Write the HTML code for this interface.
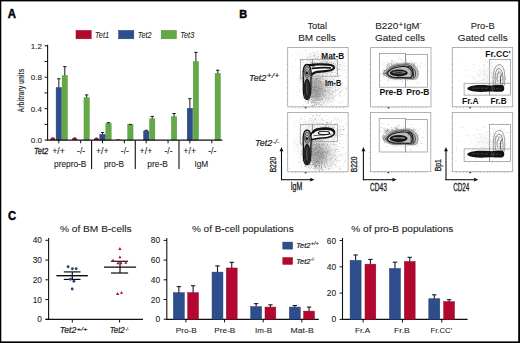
<!DOCTYPE html>
<html><head><meta charset="utf-8"><style>
html,body{margin:0;padding:0;background:#fff;}
body{width:520px;height:343px;overflow:hidden;position:relative;}
svg{position:absolute;left:0;top:0;}
text{font-family:"Liberation Sans", sans-serif;}
</style></head><body>
<svg width="520" height="343" viewBox="0 0 520 343" font-family='"Liberation Sans", sans-serif'>
<rect x="0" y="0" width="520" height="343" fill="#fff"/>
<text x="7.80" y="18.30" font-size="12" text-anchor="start" font-weight="bold" font-style="normal" fill="#000" textLength="8.2" lengthAdjust="spacingAndGlyphs" stroke="#000" stroke-width="0.45">A</text>
<rect x="76.00" y="30.40" width="15.20" height="8.40" fill="#b3072f" stroke="#8c0b26" stroke-width="0.5"/>
<text x="95.10" y="37.60" font-size="8.6" text-anchor="start" font-weight="normal" font-style="italic" fill="#222" textLength="13.9" lengthAdjust="spacingAndGlyphs" stroke="#222" stroke-width="0.08">Tet1</text>
<rect x="118.60" y="30.40" width="15.20" height="8.40" fill="#2d4d8c" stroke="#223d70" stroke-width="0.5"/>
<text x="137.70" y="37.60" font-size="8.6" text-anchor="start" font-weight="normal" font-style="italic" fill="#222" textLength="13.9" lengthAdjust="spacingAndGlyphs" stroke="#222" stroke-width="0.08">Tet2</text>
<rect x="161.20" y="30.40" width="15.20" height="8.40" fill="#65a946" stroke="#4f8e3b" stroke-width="0.5"/>
<text x="180.30" y="37.60" font-size="8.6" text-anchor="start" font-weight="normal" font-style="italic" fill="#222" textLength="13.9" lengthAdjust="spacingAndGlyphs" stroke="#222" stroke-width="0.08">Tet3</text>
<line x1="47.60" y1="44.80" x2="47.60" y2="140.60" stroke="#111" stroke-width="1.1"/>
<line x1="44.60" y1="140.10" x2="47.60" y2="140.10" stroke="#111" stroke-width="1.0"/>
<line x1="44.60" y1="124.38" x2="47.60" y2="124.38" stroke="#111" stroke-width="1.0"/>
<line x1="44.60" y1="108.66" x2="47.60" y2="108.66" stroke="#111" stroke-width="1.0"/>
<line x1="44.60" y1="92.94" x2="47.60" y2="92.94" stroke="#111" stroke-width="1.0"/>
<line x1="44.60" y1="77.22" x2="47.60" y2="77.22" stroke="#111" stroke-width="1.0"/>
<line x1="44.60" y1="61.50" x2="47.60" y2="61.50" stroke="#111" stroke-width="1.0"/>
<line x1="44.60" y1="45.78" x2="47.60" y2="45.78" stroke="#111" stroke-width="1.0"/>
<text x="42.00" y="48.68" font-size="8" text-anchor="end" font-weight="normal" font-style="normal" fill="#222" textLength="11.2" lengthAdjust="spacingAndGlyphs" stroke="#222" stroke-width="0.08">1.2</text>
<text x="42.00" y="80.12" font-size="8" text-anchor="end" font-weight="normal" font-style="normal" fill="#222" textLength="11.2" lengthAdjust="spacingAndGlyphs" stroke="#222" stroke-width="0.08">0.8</text>
<text x="42.00" y="111.56" font-size="8" text-anchor="end" font-weight="normal" font-style="normal" fill="#222" textLength="11.2" lengthAdjust="spacingAndGlyphs" stroke="#222" stroke-width="0.08">0.4</text>
<text x="42.00" y="143.00" font-size="8" text-anchor="end" font-weight="normal" font-style="normal" fill="#222" textLength="11.2" lengthAdjust="spacingAndGlyphs" stroke="#222" stroke-width="0.08">0.0</text>
<text transform="translate(24.0,90.6) rotate(-90)" font-size="8.8" font-weight="bold" text-anchor="middle" fill="#333" textLength="43.7" lengthAdjust="spacingAndGlyphs">Arbitrary units</text>
<path d="M50.10,140.10 C50.10,136.20 55.50,136.20 55.50,140.10 Z" fill="#9c0f35"/>
<rect x="56.10" y="87.44" width="5.40" height="52.66" fill="#2d4d8c" stroke="#223d70" stroke-width="0.4"/>
<line x1="58.80" y1="78.79" x2="58.80" y2="87.44" stroke="#1a1a1a" stroke-width="1.0"/>
<line x1="57.10" y1="78.79" x2="60.50" y2="78.79" stroke="#1a1a1a" stroke-width="1.0"/>
<rect x="62.10" y="75.65" width="5.40" height="64.45" fill="#65a946" stroke="#4f8e3b" stroke-width="0.4"/>
<line x1="64.80" y1="66.61" x2="64.80" y2="75.65" stroke="#1a1a1a" stroke-width="1.0"/>
<line x1="63.10" y1="66.61" x2="66.50" y2="66.61" stroke="#1a1a1a" stroke-width="1.0"/>
<path d="M71.95,140.10 C71.95,136.20 77.35,136.20 77.35,140.10 Z" fill="#9c0f35"/>
<rect x="83.95" y="97.66" width="5.40" height="42.44" fill="#65a946" stroke="#4f8e3b" stroke-width="0.4"/>
<line x1="86.65" y1="94.91" x2="86.65" y2="97.66" stroke="#1a1a1a" stroke-width="1.0"/>
<line x1="84.95" y1="94.91" x2="88.35" y2="94.91" stroke="#1a1a1a" stroke-width="1.0"/>
<path d="M93.80,140.10 C93.80,136.51 99.20,136.51 99.20,140.10 Z" fill="#9c0f35"/>
<rect x="99.80" y="134.28" width="5.40" height="5.82" fill="#2d4d8c" stroke="#223d70" stroke-width="0.4"/>
<line x1="102.50" y1="132.48" x2="102.50" y2="134.28" stroke="#1a1a1a" stroke-width="1.0"/>
<line x1="100.80" y1="132.48" x2="104.20" y2="132.48" stroke="#1a1a1a" stroke-width="1.0"/>
<rect x="105.80" y="123.44" width="5.40" height="16.66" fill="#65a946" stroke="#4f8e3b" stroke-width="0.4"/>
<line x1="108.50" y1="122.65" x2="108.50" y2="123.44" stroke="#1a1a1a" stroke-width="1.0"/>
<line x1="106.80" y1="122.65" x2="110.20" y2="122.65" stroke="#1a1a1a" stroke-width="1.0"/>
<path d="M115.65,140.10 C115.65,138.87 121.05,138.87 121.05,140.10 Z" fill="#9c0f35"/>
<rect x="127.65" y="124.77" width="5.40" height="15.33" fill="#65a946" stroke="#4f8e3b" stroke-width="0.4"/>
<line x1="130.35" y1="124.38" x2="130.35" y2="124.77" stroke="#1a1a1a" stroke-width="1.0"/>
<line x1="128.65" y1="124.38" x2="132.05" y2="124.38" stroke="#1a1a1a" stroke-width="1.0"/>
<rect x="143.50" y="131.06" width="5.40" height="9.04" fill="#2d4d8c" stroke="#223d70" stroke-width="0.4"/>
<line x1="146.20" y1="130.28" x2="146.20" y2="131.06" stroke="#1a1a1a" stroke-width="1.0"/>
<line x1="144.50" y1="130.28" x2="147.90" y2="130.28" stroke="#1a1a1a" stroke-width="1.0"/>
<rect x="149.50" y="118.88" width="5.40" height="21.22" fill="#65a946" stroke="#4f8e3b" stroke-width="0.4"/>
<line x1="152.20" y1="116.36" x2="152.20" y2="118.88" stroke="#1a1a1a" stroke-width="1.0"/>
<line x1="150.50" y1="116.36" x2="153.90" y2="116.36" stroke="#1a1a1a" stroke-width="1.0"/>
<rect x="171.35" y="116.76" width="5.40" height="23.34" fill="#65a946" stroke="#4f8e3b" stroke-width="0.4"/>
<line x1="174.05" y1="113.53" x2="174.05" y2="116.76" stroke="#1a1a1a" stroke-width="1.0"/>
<line x1="172.35" y1="113.53" x2="175.75" y2="113.53" stroke="#1a1a1a" stroke-width="1.0"/>
<rect x="187.20" y="108.27" width="5.40" height="31.83" fill="#2d4d8c" stroke="#223d70" stroke-width="0.4"/>
<line x1="189.90" y1="98.68" x2="189.90" y2="108.27" stroke="#1a1a1a" stroke-width="1.0"/>
<line x1="188.20" y1="98.68" x2="191.60" y2="98.68" stroke="#1a1a1a" stroke-width="1.0"/>
<rect x="193.20" y="61.50" width="5.40" height="78.60" fill="#65a946" stroke="#4f8e3b" stroke-width="0.4"/>
<line x1="195.90" y1="52.38" x2="195.90" y2="61.50" stroke="#1a1a1a" stroke-width="1.0"/>
<line x1="194.20" y1="52.38" x2="197.60" y2="52.38" stroke="#1a1a1a" stroke-width="1.0"/>
<rect x="215.05" y="73.45" width="5.40" height="66.65" fill="#65a946" stroke="#4f8e3b" stroke-width="0.4"/>
<line x1="217.75" y1="70.22" x2="217.75" y2="73.45" stroke="#1a1a1a" stroke-width="1.0"/>
<line x1="216.05" y1="70.22" x2="219.45" y2="70.22" stroke="#1a1a1a" stroke-width="1.0"/>
<line x1="47.10" y1="140.20" x2="222.30" y2="140.20" stroke="#111" stroke-width="1.2"/>
<line x1="58.80" y1="140.20" x2="58.80" y2="143.30" stroke="#111" stroke-width="1.0"/>
<line x1="80.65" y1="140.20" x2="80.65" y2="143.30" stroke="#111" stroke-width="1.0"/>
<line x1="102.50" y1="140.20" x2="102.50" y2="143.30" stroke="#111" stroke-width="1.0"/>
<line x1="124.35" y1="140.20" x2="124.35" y2="143.30" stroke="#111" stroke-width="1.0"/>
<line x1="146.20" y1="140.20" x2="146.20" y2="143.30" stroke="#111" stroke-width="1.0"/>
<line x1="168.05" y1="140.20" x2="168.05" y2="143.30" stroke="#111" stroke-width="1.0"/>
<line x1="189.90" y1="140.20" x2="189.90" y2="143.30" stroke="#111" stroke-width="1.0"/>
<line x1="211.75" y1="140.20" x2="211.75" y2="143.30" stroke="#111" stroke-width="1.0"/>
<line x1="91.58" y1="140.20" x2="91.58" y2="168.90" stroke="#111" stroke-width="1.1"/>
<line x1="135.28" y1="140.20" x2="135.28" y2="168.90" stroke="#111" stroke-width="1.1"/>
<line x1="178.98" y1="140.20" x2="178.98" y2="168.90" stroke="#111" stroke-width="1.1"/>
<text x="34.00" y="153.50" font-size="8.4" text-anchor="start" font-weight="normal" font-style="italic" fill="#1a1a1a" textLength="14.2" lengthAdjust="spacingAndGlyphs" stroke="#1a1a1a" stroke-width="0.3">Tet2</text>
<text x="58.60" y="153.60" font-size="9" text-anchor="middle" font-weight="normal" font-style="normal" fill="#1a1a1a" textLength="12.8" lengthAdjust="spacingAndGlyphs" stroke="#1a1a1a" stroke-width="0.08">+/+</text>
<text x="81.15" y="153.60" font-size="9" text-anchor="middle" font-weight="normal" font-style="normal" fill="#1a1a1a" textLength="8.1" lengthAdjust="spacingAndGlyphs" stroke="#1a1a1a" stroke-width="0.08">-/-</text>
<text x="102.30" y="153.60" font-size="9" text-anchor="middle" font-weight="normal" font-style="normal" fill="#1a1a1a" textLength="12.8" lengthAdjust="spacingAndGlyphs" stroke="#1a1a1a" stroke-width="0.08">+/+</text>
<text x="124.85" y="153.60" font-size="9" text-anchor="middle" font-weight="normal" font-style="normal" fill="#1a1a1a" textLength="8.1" lengthAdjust="spacingAndGlyphs" stroke="#1a1a1a" stroke-width="0.08">-/-</text>
<text x="146.00" y="153.60" font-size="9" text-anchor="middle" font-weight="normal" font-style="normal" fill="#1a1a1a" textLength="12.8" lengthAdjust="spacingAndGlyphs" stroke="#1a1a1a" stroke-width="0.08">+/+</text>
<text x="168.55" y="153.60" font-size="9" text-anchor="middle" font-weight="normal" font-style="normal" fill="#1a1a1a" textLength="8.1" lengthAdjust="spacingAndGlyphs" stroke="#1a1a1a" stroke-width="0.08">-/-</text>
<text x="189.70" y="153.60" font-size="9" text-anchor="middle" font-weight="normal" font-style="normal" fill="#1a1a1a" textLength="12.8" lengthAdjust="spacingAndGlyphs" stroke="#1a1a1a" stroke-width="0.08">+/+</text>
<text x="212.25" y="153.60" font-size="9" text-anchor="middle" font-weight="normal" font-style="normal" fill="#1a1a1a" textLength="8.1" lengthAdjust="spacingAndGlyphs" stroke="#1a1a1a" stroke-width="0.08">-/-</text>
<text x="70.22" y="167.00" font-size="8.4" text-anchor="middle" font-weight="normal" font-style="normal" fill="#222" textLength="32.3" lengthAdjust="spacingAndGlyphs" stroke="#222" stroke-width="0.08">prepro-B</text>
<text x="113.93" y="167.00" font-size="8.4" text-anchor="middle" font-weight="normal" font-style="normal" fill="#222" textLength="20.0" lengthAdjust="spacingAndGlyphs" stroke="#222" stroke-width="0.08">pro-B</text>
<text x="157.62" y="167.00" font-size="8.4" text-anchor="middle" font-weight="normal" font-style="normal" fill="#222" textLength="20.5" lengthAdjust="spacingAndGlyphs" stroke="#222" stroke-width="0.08">pre-B</text>
<text x="201.33" y="167.00" font-size="8.4" text-anchor="middle" font-weight="normal" font-style="normal" fill="#222" textLength="13.9" lengthAdjust="spacingAndGlyphs" stroke="#222" stroke-width="0.08">IgM</text>
<text x="7.90" y="219.80" font-size="12" text-anchor="start" font-weight="bold" font-style="normal" fill="#000" textLength="8.1" lengthAdjust="spacingAndGlyphs" stroke="#000" stroke-width="0.45">C</text>
<line x1="48.60" y1="238.00" x2="48.60" y2="319.80" stroke="#111" stroke-width="1.1"/>
<line x1="45.40" y1="240.30" x2="48.60" y2="240.30" stroke="#111" stroke-width="1.0"/>
<text x="42.00" y="243.30" font-size="8.4" text-anchor="end" font-weight="normal" font-style="normal" fill="#222" stroke="#222" stroke-width="0.08">40</text>
<line x1="45.40" y1="260.05" x2="48.60" y2="260.05" stroke="#111" stroke-width="1.0"/>
<text x="42.00" y="263.05" font-size="8.4" text-anchor="end" font-weight="normal" font-style="normal" fill="#222" stroke="#222" stroke-width="0.08">30</text>
<line x1="45.40" y1="279.80" x2="48.60" y2="279.80" stroke="#111" stroke-width="1.0"/>
<text x="42.00" y="282.80" font-size="8.4" text-anchor="end" font-weight="normal" font-style="normal" fill="#222" stroke="#222" stroke-width="0.08">20</text>
<line x1="45.40" y1="299.55" x2="48.60" y2="299.55" stroke="#111" stroke-width="1.0"/>
<text x="42.00" y="302.55" font-size="8.4" text-anchor="end" font-weight="normal" font-style="normal" fill="#222" stroke="#222" stroke-width="0.08">10</text>
<line x1="45.40" y1="319.30" x2="48.60" y2="319.30" stroke="#111" stroke-width="1.0"/>
<text x="42.00" y="322.30" font-size="8.4" text-anchor="end" font-weight="normal" font-style="normal" fill="#222" stroke="#222" stroke-width="0.08">0</text>
<line x1="45.60" y1="319.40" x2="143.00" y2="319.40" stroke="#111" stroke-width="1.2"/>
<line x1="72.30" y1="319.40" x2="72.30" y2="322.60" stroke="#111" stroke-width="1.0"/>
<line x1="119.60" y1="319.40" x2="119.60" y2="322.60" stroke="#111" stroke-width="1.0"/>
<text x="95.80" y="231.80" font-size="9.2" text-anchor="middle" font-weight="normal" font-style="normal" fill="#222" textLength="71.7" lengthAdjust="spacingAndGlyphs" stroke="#222" stroke-width="0.08">% of BM B-cells</text>
<text x="59.80" y="333.40" font-size="8.7" font-style="italic" fill="#1a1a1a" stroke="#1a1a1a" stroke-width="0.22" textLength="16.4" lengthAdjust="spacingAndGlyphs">Tet2</text>
<text x="76.50" y="330.80" font-size="5.8" font-style="italic" fill="#1a1a1a" stroke="#1a1a1a" stroke-width="0.15" textLength="11.0" lengthAdjust="spacingAndGlyphs">+/+</text>
<text x="109.70" y="333.40" font-size="8.7" font-style="italic" fill="#1a1a1a" stroke="#1a1a1a" stroke-width="0.22" textLength="15.0" lengthAdjust="spacingAndGlyphs">Tet2</text>
<text x="125.00" y="330.60" font-size="5.8" font-style="italic" fill="#1a1a1a" stroke="#1a1a1a" stroke-width="0.15" textLength="4.0" lengthAdjust="spacingAndGlyphs">-/-</text>
<line x1="56.40" y1="275.70" x2="87.90" y2="275.70" stroke="#0a0a0a" stroke-width="1.4"/>
<line x1="63.80" y1="271.90" x2="80.50" y2="271.90" stroke="#111" stroke-width="1.2"/>
<line x1="63.80" y1="279.40" x2="80.50" y2="279.40" stroke="#0a0a0a" stroke-width="1.2"/>
<line x1="72.30" y1="271.90" x2="72.30" y2="279.40" stroke="#111" stroke-width="1.2"/>
<circle cx="68.1" cy="266.7" r="1.45" fill="#2a4680"/>
<circle cx="72.4" cy="268.8" r="1.45" fill="#2a4680"/>
<circle cx="76.2" cy="268.8" r="1.45" fill="#2a4680"/>
<circle cx="70.4" cy="279.3" r="1.45" fill="#2a4680"/>
<circle cx="73.9" cy="281.2" r="1.45" fill="#2a4680"/>
<circle cx="72.2" cy="289.0" r="1.45" fill="#2a4680"/>
<line x1="104.00" y1="267.10" x2="136.10" y2="267.10" stroke="#0a0a0a" stroke-width="1.4"/>
<line x1="111.00" y1="261.30" x2="128.10" y2="261.30" stroke="#111" stroke-width="1.2"/>
<line x1="111.00" y1="273.00" x2="128.10" y2="273.00" stroke="#0a0a0a" stroke-width="1.2"/>
<line x1="120.00" y1="261.30" x2="120.00" y2="273.00" stroke="#111" stroke-width="1.2"/>
<path d="M118.30,249.90 L119.90,247.10 L121.50,249.90 Z" fill="#a0163d"/>
<path d="M118.30,258.30 L119.90,255.50 L121.50,258.30 Z" fill="#a0163d"/>
<path d="M111.50,261.60 L113.10,258.80 L114.70,261.60 Z" fill="#a0163d"/>
<path d="M116.30,264.20 L117.90,261.40 L119.50,264.20 Z" fill="#a0163d"/>
<path d="M119.40,264.20 L121.00,261.40 L122.60,264.20 Z" fill="#a0163d"/>
<path d="M124.20,263.80 L125.80,261.00 L127.40,263.80 Z" fill="#a0163d"/>
<path d="M116.00,294.90 L117.60,292.10 L119.20,294.90 Z" fill="#a0163d"/>
<path d="M119.90,293.80 L121.50,291.00 L123.10,293.80 Z" fill="#a0163d"/>
<line x1="166.80" y1="238.00" x2="166.80" y2="319.70" stroke="#111" stroke-width="1.1"/>
<line x1="163.60" y1="240.40" x2="166.80" y2="240.40" stroke="#111" stroke-width="1.0"/>
<text x="160.20" y="243.40" font-size="8.4" text-anchor="end" font-weight="normal" font-style="normal" fill="#222" stroke="#222" stroke-width="0.08">80</text>
<line x1="163.60" y1="260.10" x2="166.80" y2="260.10" stroke="#111" stroke-width="1.0"/>
<text x="160.20" y="263.10" font-size="8.4" text-anchor="end" font-weight="normal" font-style="normal" fill="#222" stroke="#222" stroke-width="0.08">60</text>
<line x1="163.60" y1="279.80" x2="166.80" y2="279.80" stroke="#111" stroke-width="1.0"/>
<text x="160.20" y="282.80" font-size="8.4" text-anchor="end" font-weight="normal" font-style="normal" fill="#222" stroke="#222" stroke-width="0.08">40</text>
<line x1="163.60" y1="299.50" x2="166.80" y2="299.50" stroke="#111" stroke-width="1.0"/>
<text x="160.20" y="302.50" font-size="8.4" text-anchor="end" font-weight="normal" font-style="normal" fill="#222" stroke="#222" stroke-width="0.08">20</text>
<line x1="163.60" y1="319.20" x2="166.80" y2="319.20" stroke="#111" stroke-width="1.0"/>
<text x="160.20" y="322.20" font-size="8.4" text-anchor="end" font-weight="normal" font-style="normal" fill="#222" stroke="#222" stroke-width="0.08">0</text>
<line x1="166.30" y1="319.30" x2="318.80" y2="319.30" stroke="#111" stroke-width="1.2"/>
<rect x="173.40" y="292.70" width="10.90" height="26.50" fill="#2d4d8c" stroke="#223d70" stroke-width="0.5"/>
<line x1="178.85" y1="286.60" x2="178.85" y2="292.70" stroke="#1a1a1a" stroke-width="1.1"/>
<line x1="176.65" y1="286.60" x2="181.05" y2="286.60" stroke="#1a1a1a" stroke-width="1.1"/>
<rect x="187.70" y="292.70" width="10.80" height="26.50" fill="#b3072f" stroke="#8c0b26" stroke-width="0.5"/>
<line x1="193.10" y1="285.71" x2="193.10" y2="292.70" stroke="#1a1a1a" stroke-width="1.1"/>
<line x1="190.90" y1="285.71" x2="195.30" y2="285.71" stroke="#1a1a1a" stroke-width="1.1"/>
<rect x="212.05" y="272.12" width="10.90" height="47.08" fill="#2d4d8c" stroke="#223d70" stroke-width="0.5"/>
<line x1="217.50" y1="265.91" x2="217.50" y2="272.12" stroke="#1a1a1a" stroke-width="1.1"/>
<line x1="215.30" y1="265.91" x2="219.70" y2="265.91" stroke="#1a1a1a" stroke-width="1.1"/>
<rect x="226.35" y="267.98" width="10.80" height="51.22" fill="#b3072f" stroke="#8c0b26" stroke-width="0.5"/>
<line x1="231.75" y1="262.37" x2="231.75" y2="267.98" stroke="#1a1a1a" stroke-width="1.1"/>
<line x1="229.55" y1="262.37" x2="233.95" y2="262.37" stroke="#1a1a1a" stroke-width="1.1"/>
<rect x="250.70" y="306.59" width="10.90" height="12.61" fill="#2d4d8c" stroke="#223d70" stroke-width="0.5"/>
<line x1="256.15" y1="303.64" x2="256.15" y2="306.59" stroke="#1a1a1a" stroke-width="1.1"/>
<line x1="253.95" y1="303.64" x2="258.35" y2="303.64" stroke="#1a1a1a" stroke-width="1.1"/>
<rect x="265.00" y="307.08" width="10.80" height="12.12" fill="#b3072f" stroke="#8c0b26" stroke-width="0.5"/>
<line x1="270.40" y1="304.82" x2="270.40" y2="307.08" stroke="#1a1a1a" stroke-width="1.1"/>
<line x1="268.20" y1="304.82" x2="272.60" y2="304.82" stroke="#1a1a1a" stroke-width="1.1"/>
<rect x="289.35" y="307.08" width="10.90" height="12.12" fill="#2d4d8c" stroke="#223d70" stroke-width="0.5"/>
<line x1="294.80" y1="305.51" x2="294.80" y2="307.08" stroke="#1a1a1a" stroke-width="1.1"/>
<line x1="292.60" y1="305.51" x2="297.00" y2="305.51" stroke="#1a1a1a" stroke-width="1.1"/>
<rect x="303.65" y="311.12" width="10.80" height="8.08" fill="#b3072f" stroke="#8c0b26" stroke-width="0.5"/>
<line x1="309.05" y1="307.08" x2="309.05" y2="311.12" stroke="#1a1a1a" stroke-width="1.1"/>
<line x1="306.85" y1="307.08" x2="311.25" y2="307.08" stroke="#1a1a1a" stroke-width="1.1"/>
<line x1="185.90" y1="319.30" x2="185.90" y2="322.40" stroke="#111" stroke-width="1.0"/>
<line x1="224.55" y1="319.30" x2="224.55" y2="322.40" stroke="#111" stroke-width="1.0"/>
<line x1="263.20" y1="319.30" x2="263.20" y2="322.40" stroke="#111" stroke-width="1.0"/>
<line x1="301.85" y1="319.30" x2="301.85" y2="322.40" stroke="#111" stroke-width="1.0"/>
<text x="186.20" y="333.40" font-size="8" text-anchor="middle" font-weight="normal" font-style="normal" fill="#222" textLength="20.9" lengthAdjust="spacingAndGlyphs" stroke="#222" stroke-width="0.08">Pro-B</text>
<text x="224.85" y="333.40" font-size="8" text-anchor="middle" font-weight="normal" font-style="normal" fill="#222" textLength="21.0" lengthAdjust="spacingAndGlyphs" stroke="#222" stroke-width="0.08">Pre-B</text>
<text x="263.50" y="333.40" font-size="8" text-anchor="middle" font-weight="normal" font-style="normal" fill="#222" textLength="17.0" lengthAdjust="spacingAndGlyphs" stroke="#222" stroke-width="0.08">Im-B</text>
<text x="302.15" y="333.40" font-size="8" text-anchor="middle" font-weight="normal" font-style="normal" fill="#222" textLength="23.1" lengthAdjust="spacingAndGlyphs" stroke="#222" stroke-width="0.08">Mat-B</text>
<text x="242.80" y="231.60" font-size="9.2" text-anchor="middle" font-weight="normal" font-style="normal" fill="#222" textLength="101.8" lengthAdjust="spacingAndGlyphs" stroke="#222" stroke-width="0.08">% of B-cell populations</text>
<rect x="282.80" y="242.10" width="9.80" height="7.00" fill="#2d4d8c" stroke="#223d70" stroke-width="0.5"/>
<rect x="282.80" y="257.60" width="9.80" height="6.80" fill="#b3072f" stroke="#8c0b26" stroke-width="0.5"/>
<text x="296.20" y="248.30" font-size="8" font-style="italic" fill="#1a1a1a" stroke="#1a1a1a" stroke-width="0.22" textLength="14.2" lengthAdjust="spacingAndGlyphs">Tet2</text>
<text x="310.70" y="244.90" font-size="5.0" font-style="italic" fill="#1a1a1a" stroke="#1a1a1a" stroke-width="0.15" textLength="8.0" lengthAdjust="spacingAndGlyphs">+/+</text>
<text x="296.20" y="263.90" font-size="8" font-style="italic" fill="#1a1a1a" stroke="#1a1a1a" stroke-width="0.22" textLength="14.2" lengthAdjust="spacingAndGlyphs">Tet2</text>
<text x="310.70" y="260.50" font-size="5.0" font-style="italic" fill="#1a1a1a" stroke="#1a1a1a" stroke-width="0.15" textLength="4.0" lengthAdjust="spacingAndGlyphs">-/-</text>
<line x1="342.50" y1="238.00" x2="342.50" y2="319.90" stroke="#111" stroke-width="1.1"/>
<line x1="339.60" y1="240.50" x2="342.50" y2="240.50" stroke="#111" stroke-width="1.0"/>
<text x="336.20" y="243.50" font-size="8.4" text-anchor="end" font-weight="normal" font-style="normal" fill="#222" stroke="#222" stroke-width="0.08">60</text>
<line x1="339.60" y1="266.80" x2="342.50" y2="266.80" stroke="#111" stroke-width="1.0"/>
<text x="336.20" y="269.80" font-size="8.4" text-anchor="end" font-weight="normal" font-style="normal" fill="#222" stroke="#222" stroke-width="0.08">40</text>
<line x1="339.60" y1="293.10" x2="342.50" y2="293.10" stroke="#111" stroke-width="1.0"/>
<text x="336.20" y="296.10" font-size="8.4" text-anchor="end" font-weight="normal" font-style="normal" fill="#222" stroke="#222" stroke-width="0.08">20</text>
<line x1="339.60" y1="319.40" x2="342.50" y2="319.40" stroke="#111" stroke-width="1.0"/>
<text x="336.20" y="322.40" font-size="8.4" text-anchor="end" font-weight="normal" font-style="normal" fill="#222" stroke="#222" stroke-width="0.08">0</text>
<line x1="342.00" y1="319.40" x2="467.60" y2="319.40" stroke="#111" stroke-width="1.2"/>
<rect x="350.10" y="260.36" width="11.00" height="59.04" fill="#2d4d8c" stroke="#223d70" stroke-width="0.5"/>
<line x1="355.60" y1="254.96" x2="355.60" y2="260.36" stroke="#1a1a1a" stroke-width="1.1"/>
<line x1="353.40" y1="254.96" x2="357.80" y2="254.96" stroke="#1a1a1a" stroke-width="1.1"/>
<rect x="365.00" y="264.17" width="10.80" height="55.23" fill="#b3072f" stroke="#8c0b26" stroke-width="0.5"/>
<line x1="370.40" y1="259.44" x2="370.40" y2="264.17" stroke="#1a1a1a" stroke-width="1.1"/>
<line x1="368.20" y1="259.44" x2="372.60" y2="259.44" stroke="#1a1a1a" stroke-width="1.1"/>
<rect x="389.45" y="268.51" width="11.00" height="50.89" fill="#2d4d8c" stroke="#223d70" stroke-width="0.5"/>
<line x1="394.95" y1="262.20" x2="394.95" y2="268.51" stroke="#1a1a1a" stroke-width="1.1"/>
<line x1="392.75" y1="262.20" x2="397.15" y2="262.20" stroke="#1a1a1a" stroke-width="1.1"/>
<rect x="404.35" y="261.54" width="10.80" height="57.86" fill="#b3072f" stroke="#8c0b26" stroke-width="0.5"/>
<line x1="409.75" y1="257.33" x2="409.75" y2="261.54" stroke="#1a1a1a" stroke-width="1.1"/>
<line x1="407.55" y1="257.33" x2="411.95" y2="257.33" stroke="#1a1a1a" stroke-width="1.1"/>
<rect x="428.80" y="298.75" width="11.00" height="20.65" fill="#2d4d8c" stroke="#223d70" stroke-width="0.5"/>
<line x1="434.30" y1="294.81" x2="434.30" y2="298.75" stroke="#1a1a1a" stroke-width="1.1"/>
<line x1="432.10" y1="294.81" x2="436.50" y2="294.81" stroke="#1a1a1a" stroke-width="1.1"/>
<rect x="443.70" y="301.65" width="10.80" height="17.75" fill="#b3072f" stroke="#8c0b26" stroke-width="0.5"/>
<line x1="449.10" y1="299.67" x2="449.10" y2="301.65" stroke="#1a1a1a" stroke-width="1.1"/>
<line x1="446.90" y1="299.67" x2="451.30" y2="299.67" stroke="#1a1a1a" stroke-width="1.1"/>
<line x1="363.10" y1="319.40" x2="363.10" y2="322.50" stroke="#111" stroke-width="1.0"/>
<line x1="402.45" y1="319.40" x2="402.45" y2="322.50" stroke="#111" stroke-width="1.0"/>
<line x1="441.80" y1="319.40" x2="441.80" y2="322.50" stroke="#111" stroke-width="1.0"/>
<text x="362.60" y="333.40" font-size="8" text-anchor="middle" font-weight="normal" font-style="normal" fill="#222" textLength="15.0" lengthAdjust="spacingAndGlyphs" stroke="#222" stroke-width="0.08">Fr.A</text>
<text x="401.95" y="333.40" font-size="8" text-anchor="middle" font-weight="normal" font-style="normal" fill="#222" textLength="15.7" lengthAdjust="spacingAndGlyphs" stroke="#222" stroke-width="0.08">Fr.B</text>
<text x="441.30" y="333.40" font-size="8" text-anchor="middle" font-weight="normal" font-style="normal" fill="#222" textLength="21.7" lengthAdjust="spacingAndGlyphs" stroke="#222" stroke-width="0.08">Fr.CC'</text>
<text x="402.30" y="231.80" font-size="9.2" text-anchor="middle" font-weight="normal" font-style="normal" fill="#222" textLength="102.0" lengthAdjust="spacingAndGlyphs" stroke="#222" stroke-width="0.08">% of pro-B populations</text>
<text x="239.30" y="18.40" font-size="11.4" text-anchor="start" font-weight="bold" font-style="normal" fill="#000" textLength="7.9" lengthAdjust="spacingAndGlyphs" stroke="#000" stroke-width="0.45">B</text>
<text x="317.20" y="29.10" font-size="9.5" text-anchor="middle" font-weight="normal" font-style="normal" fill="#1a1a1a" textLength="19.6" lengthAdjust="spacingAndGlyphs" stroke="#1a1a1a" stroke-width="0.08">Total</text>
<text x="317.00" y="41.30" font-size="9.5" text-anchor="middle" font-weight="normal" font-style="normal" fill="#1a1a1a" textLength="37.7" lengthAdjust="spacingAndGlyphs" stroke="#1a1a1a" stroke-width="0.08">BM cells</text>
<text x="375.20" y="29.00" font-size="9.5" text-anchor="start" font-weight="normal" font-style="normal" fill="#1a1a1a" textLength="23.2" lengthAdjust="spacingAndGlyphs" stroke="#1a1a1a" stroke-width="0.08">B220</text>
<text x="398.40" y="26.60" font-size="8" text-anchor="start" font-weight="normal" font-style="normal" fill="#1a1a1a" textLength="4.8" lengthAdjust="spacingAndGlyphs" stroke="#1a1a1a" stroke-width="0.08">+</text>
<text x="403.60" y="29.00" font-size="9.5" text-anchor="start" font-weight="normal" font-style="normal" fill="#1a1a1a" textLength="15.8" lengthAdjust="spacingAndGlyphs" stroke="#1a1a1a" stroke-width="0.08">IgM</text>
<text x="419.60" y="25.00" font-size="7" text-anchor="start" font-weight="normal" font-style="normal" fill="#1a1a1a" textLength="2.2" lengthAdjust="spacingAndGlyphs" stroke="#1a1a1a" stroke-width="0.08">-</text>
<text x="400.00" y="41.30" font-size="9.5" text-anchor="middle" font-weight="normal" font-style="normal" fill="#1a1a1a" textLength="49.9" lengthAdjust="spacingAndGlyphs" stroke="#1a1a1a" stroke-width="0.08">Gated cells</text>
<text x="482.70" y="29.10" font-size="9.5" text-anchor="middle" font-weight="normal" font-style="normal" fill="#1a1a1a" textLength="23.8" lengthAdjust="spacingAndGlyphs" stroke="#1a1a1a" stroke-width="0.08">Pro-B</text>
<text x="482.70" y="41.30" font-size="9.5" text-anchor="middle" font-weight="normal" font-style="normal" fill="#1a1a1a" textLength="50.0" lengthAdjust="spacingAndGlyphs" stroke="#1a1a1a" stroke-width="0.08">Gated cells</text>
<text x="249.00" y="80.70" font-size="9.8" font-style="italic" fill="#1a1a1a" stroke="#1a1a1a" stroke-width="0.2" textLength="17.2" lengthAdjust="spacingAndGlyphs">Tet2</text>
<text x="266.50" y="78.20" font-size="7.6" font-style="italic" fill="#1a1a1a" stroke="#1a1a1a" stroke-width="0.14" textLength="12.8" lengthAdjust="spacingAndGlyphs">+/+</text>
<text x="255.00" y="146.30" font-size="9.8" font-style="italic" fill="#1a1a1a" stroke="#1a1a1a" stroke-width="0.2" textLength="17.2" lengthAdjust="spacingAndGlyphs">Tet2</text>
<text x="272.50" y="143.50" font-size="7.6" font-style="italic" fill="#1a1a1a" stroke="#1a1a1a" stroke-width="0.14" textLength="6.8" lengthAdjust="spacingAndGlyphs">-/-</text>
<defs><radialGradient id="hz1"><stop offset="0" stop-color="#666" stop-opacity="0.55"/><stop offset="0.55" stop-color="#666" stop-opacity="0.303"/><stop offset="1" stop-color="#666" stop-opacity="0"/></radialGradient><radialGradient id="hz2"><stop offset="0" stop-color="#999" stop-opacity="0.35"/><stop offset="0.55" stop-color="#999" stop-opacity="0.193"/><stop offset="1" stop-color="#999" stop-opacity="0"/></radialGradient><radialGradient id="hz3"><stop offset="0" stop-color="#888" stop-opacity="0.4"/><stop offset="0.55" stop-color="#888" stop-opacity="0.220"/><stop offset="1" stop-color="#888" stop-opacity="0"/></radialGradient><radialGradient id="hz4"><stop offset="0" stop-color="#aaa" stop-opacity="0.18"/><stop offset="0.55" stop-color="#aaa" stop-opacity="0.099"/><stop offset="1" stop-color="#aaa" stop-opacity="0"/></radialGradient><radialGradient id="hz5"><stop offset="0" stop-color="#666" stop-opacity="0.55"/><stop offset="0.55" stop-color="#666" stop-opacity="0.303"/><stop offset="1" stop-color="#666" stop-opacity="0"/></radialGradient><radialGradient id="hz6"><stop offset="0" stop-color="#999" stop-opacity="0.4"/><stop offset="0.55" stop-color="#999" stop-opacity="0.220"/><stop offset="1" stop-color="#999" stop-opacity="0"/></radialGradient><radialGradient id="hz7"><stop offset="0" stop-color="#888" stop-opacity="0.4"/><stop offset="0.55" stop-color="#888" stop-opacity="0.220"/><stop offset="1" stop-color="#888" stop-opacity="0"/></radialGradient><radialGradient id="hz8"><stop offset="0" stop-color="#aaa" stop-opacity="0.22"/><stop offset="0.55" stop-color="#aaa" stop-opacity="0.121"/><stop offset="1" stop-color="#aaa" stop-opacity="0"/></radialGradient><radialGradient id="hz9"><stop offset="0" stop-color="#999" stop-opacity="0.35"/><stop offset="0.55" stop-color="#999" stop-opacity="0.193"/><stop offset="1" stop-color="#999" stop-opacity="0"/></radialGradient><radialGradient id="hz10"><stop offset="0" stop-color="#999" stop-opacity="0.35"/><stop offset="0.55" stop-color="#999" stop-opacity="0.193"/><stop offset="1" stop-color="#999" stop-opacity="0"/></radialGradient><radialGradient id="hz11"><stop offset="0" stop-color="#bbb" stop-opacity="0.14"/><stop offset="0.55" stop-color="#bbb" stop-opacity="0.077"/><stop offset="1" stop-color="#bbb" stop-opacity="0"/></radialGradient><radialGradient id="hz12"><stop offset="0" stop-color="#bbb" stop-opacity="0.14"/><stop offset="0.55" stop-color="#bbb" stop-opacity="0.077"/><stop offset="1" stop-color="#bbb" stop-opacity="0"/></radialGradient></defs>
<clipPath id="c28747"><rect x="288.20" y="48.00" width="59.4" height="58.3"/></clipPath>
<clipPath id="c37047"><rect x="371.10" y="48.10" width="59.4" height="58.3"/></clipPath>
<clipPath id="c45247"><rect x="452.80" y="48.00" width="59.4" height="58.3"/></clipPath>
<clipPath id="c287112"><rect x="288.20" y="113.00" width="59.4" height="58.3"/></clipPath>
<clipPath id="c370112"><rect x="370.90" y="112.90" width="59.4" height="58.3"/></clipPath>
<clipPath id="c452112"><rect x="452.80" y="112.90" width="59.4" height="58.3"/></clipPath>
<g clip-path="url(#c28747)">
<rect x="300.30" y="59.30" width="12.00" height="19.50" fill="none" stroke="#8c8c8c" stroke-width="0.7"/>
<rect x="312.30" y="59.30" width="25.30" height="16.90" fill="none" stroke="#8c8c8c" stroke-width="0.7"/>
<ellipse cx="316.70" cy="89.50" rx="9.00" ry="14.00" fill="url(#hz1)"/>
<ellipse cx="321.70" cy="91.50" rx="16.00" ry="16.00" fill="url(#hz2)"/>
<ellipse cx="323.70" cy="67.50" rx="14.00" ry="7.00" fill="url(#hz3)"/>
<ellipse cx="319.70" cy="77.50" rx="24.00" ry="26.00" fill="url(#hz4)"/>
<path fill="rgb(84,84,84)" d="M317.7 75.6h0.6v0.6h-0.6zM315.6 96.0h0.6v0.6h-0.6zM302.0 71.1h0.6v0.6h-0.6zM311.7 66.5h0.6v0.6h-0.6zM320.4 90.5h0.6v0.6h-0.6zM318.2 85.2h0.6v0.6h-0.6zM313.5 89.5h0.6v0.6h-0.6zM318.5 96.0h0.6v0.6h-0.6zM312.4 90.3h0.6v0.6h-0.6zM315.8 78.2h0.6v0.6h-0.6zM309.1 88.3h0.6v0.6h-0.6zM309.6 96.3h0.6v0.6h-0.6zM316.9 78.7h0.6v0.6h-0.6zM309.7 93.7h0.6v0.6h-0.6zM317.9 97.8h0.6v0.6h-0.6zM309.0 79.8h0.6v0.6h-0.6zM318.7 88.9h0.6v0.6h-0.6zM309.6 85.3h0.6v0.6h-0.6zM318.3 93.3h0.6v0.6h-0.6zM319.4 87.8h0.6v0.6h-0.6zM310.6 84.6h0.6v0.6h-0.6zM316.5 93.8h0.6v0.6h-0.6zM310.5 87.0h0.6v0.6h-0.6zM314.0 87.1h0.6v0.6h-0.6zM320.4 82.5h0.6v0.6h-0.6zM313.0 97.8h0.6v0.6h-0.6zM315.5 91.0h0.6v0.6h-0.6zM315.1 78.2h0.6v0.6h-0.6zM307.9 101.8h0.6v0.6h-0.6zM313.7 96.4h0.6v0.6h-0.6zM313.1 95.7h0.6v0.6h-0.6zM318.1 94.0h0.6v0.6h-0.6zM312.8 90.6h0.6v0.6h-0.6zM320.3 81.0h0.6v0.6h-0.6zM310.3 83.7h0.6v0.6h-0.6zM312.4 83.1h0.6v0.6h-0.6zM321.4 89.5h0.6v0.6h-0.6zM324.2 82.0h0.6v0.6h-0.6zM319.7 86.4h0.6v0.6h-0.6zM309.8 74.8h0.6v0.6h-0.6zM305.4 101.5h0.6v0.6h-0.6zM321.0 82.8h0.6v0.6h-0.6zM315.8 80.6h0.6v0.6h-0.6zM312.5 96.0h0.6v0.6h-0.6zM312.2 104.9h0.6v0.6h-0.6z"/>
<path fill="rgb(96,96,96)" d="M309.7 76.9h0.6v0.6h-0.6zM309.1 76.6h0.6v0.6h-0.6zM310.5 94.8h0.6v0.6h-0.6zM318.3 88.5h0.6v0.6h-0.6zM315.8 81.5h0.6v0.6h-0.6zM314.1 99.4h0.6v0.6h-0.6zM313.8 86.4h0.6v0.6h-0.6zM314.7 80.7h0.6v0.6h-0.6zM311.1 99.5h0.6v0.6h-0.6zM316.9 88.8h0.6v0.6h-0.6zM311.3 87.8h0.6v0.6h-0.6zM310.6 75.0h0.6v0.6h-0.6zM321.8 82.6h0.6v0.6h-0.6zM315.4 97.4h0.6v0.6h-0.6zM317.8 81.9h0.6v0.6h-0.6zM311.2 102.1h0.6v0.6h-0.6zM310.6 88.6h0.6v0.6h-0.6zM302.1 81.1h0.6v0.6h-0.6zM308.3 89.3h0.6v0.6h-0.6zM325.2 76.0h0.6v0.6h-0.6zM325.5 87.2h0.6v0.6h-0.6zM310.5 95.7h0.6v0.6h-0.6zM316.7 96.7h0.6v0.6h-0.6zM315.4 102.6h0.6v0.6h-0.6zM314.9 72.0h0.6v0.6h-0.6zM316.1 86.7h0.6v0.6h-0.6zM311.1 100.9h0.6v0.6h-0.6zM311.3 92.3h0.6v0.6h-0.6zM316.4 82.6h0.6v0.6h-0.6zM310.5 75.3h0.6v0.6h-0.6zM314.8 89.5h0.6v0.6h-0.6zM315.7 82.9h0.6v0.6h-0.6zM316.2 87.2h0.6v0.6h-0.6zM312.7 92.2h0.6v0.6h-0.6zM316.8 89.9h0.6v0.6h-0.6zM315.0 72.7h0.6v0.6h-0.6zM318.3 78.2h0.6v0.6h-0.6zM316.1 89.9h0.6v0.6h-0.6zM311.6 99.4h0.6v0.6h-0.6zM312.0 96.2h0.6v0.6h-0.6zM317.4 98.9h0.6v0.6h-0.6zM312.4 80.9h0.6v0.6h-0.6zM319.6 77.8h0.6v0.6h-0.6zM312.0 87.1h0.6v0.6h-0.6zM320.1 78.1h0.6v0.6h-0.6zM312.7 79.8h0.6v0.6h-0.6zM314.5 104.6h0.6v0.6h-0.6zM315.4 76.3h0.6v0.6h-0.6zM310.4 85.0h0.6v0.6h-0.6zM310.4 86.4h0.6v0.6h-0.6zM311.3 85.5h0.6v0.6h-0.6zM311.2 92.4h0.6v0.6h-0.6zM323.5 78.6h0.6v0.6h-0.6zM309.2 85.2h0.6v0.6h-0.6zM321.6 81.2h0.6v0.6h-0.6zM316.8 99.6h0.6v0.6h-0.6zM312.4 73.6h0.6v0.6h-0.6zM318.5 81.3h0.6v0.6h-0.6zM315.1 91.4h0.6v0.6h-0.6zM305.6 79.2h0.6v0.6h-0.6zM311.5 90.9h0.6v0.6h-0.6zM318.5 84.0h0.6v0.6h-0.6zM312.0 102.1h0.6v0.6h-0.6zM310.0 71.6h0.6v0.6h-0.6zM325.2 84.6h0.6v0.6h-0.6zM309.6 90.7h0.6v0.6h-0.6zM315.8 83.7h0.6v0.6h-0.6zM319.9 93.1h0.6v0.6h-0.6zM315.9 77.2h0.6v0.6h-0.6zM312.4 93.2h0.6v0.6h-0.6zM310.5 58.7h0.6v0.6h-0.6zM315.3 97.8h0.6v0.6h-0.6zM310.5 84.9h0.6v0.6h-0.6zM316.3 104.4h0.6v0.6h-0.6zM321.0 88.0h0.6v0.6h-0.6zM310.4 84.1h0.6v0.6h-0.6zM312.6 84.8h0.6v0.6h-0.6zM312.8 82.0h0.6v0.6h-0.6zM323.3 93.7h0.6v0.6h-0.6zM312.6 92.3h0.6v0.6h-0.6zM312.6 81.6h0.6v0.6h-0.6zM313.7 101.7h0.6v0.6h-0.6zM322.4 93.8h0.6v0.6h-0.6zM313.7 90.8h0.6v0.6h-0.6zM325.2 86.4h0.6v0.6h-0.6zM312.1 101.8h0.6v0.6h-0.6zM312.4 78.7h0.6v0.6h-0.6zM318.5 93.1h0.6v0.6h-0.6zM313.9 79.8h0.6v0.6h-0.6zM312.5 94.4h0.6v0.6h-0.6z"/>
<path fill="rgb(108,108,108)" d="M311.7 78.3h0.6v0.6h-0.6zM314.2 80.9h0.6v0.6h-0.6zM310.1 94.1h0.6v0.6h-0.6zM318.7 94.8h0.6v0.6h-0.6zM313.9 85.3h0.6v0.6h-0.6zM316.3 93.3h0.6v0.6h-0.6zM316.6 82.3h0.6v0.6h-0.6zM318.0 91.3h0.6v0.6h-0.6zM313.7 89.6h0.6v0.6h-0.6zM312.1 100.3h0.6v0.6h-0.6zM308.2 91.0h0.6v0.6h-0.6zM310.7 77.4h0.6v0.6h-0.6zM315.4 86.6h0.6v0.6h-0.6zM312.6 87.5h0.6v0.6h-0.6zM318.8 80.1h0.6v0.6h-0.6zM312.3 82.5h0.6v0.6h-0.6zM313.6 95.7h0.6v0.6h-0.6zM308.4 84.7h0.6v0.6h-0.6zM308.4 88.3h0.6v0.6h-0.6zM319.5 82.7h0.6v0.6h-0.6zM316.4 94.1h0.6v0.6h-0.6zM314.3 86.6h0.6v0.6h-0.6zM316.5 94.1h0.6v0.6h-0.6zM316.2 97.5h0.6v0.6h-0.6zM316.9 87.3h0.6v0.6h-0.6zM311.7 81.5h0.6v0.6h-0.6zM317.9 82.0h0.6v0.6h-0.6zM308.7 88.3h0.6v0.6h-0.6zM309.7 77.7h0.6v0.6h-0.6zM308.1 84.0h0.6v0.6h-0.6zM315.5 85.0h0.6v0.6h-0.6zM310.8 104.9h0.6v0.6h-0.6zM320.2 88.0h0.6v0.6h-0.6zM312.2 95.1h0.6v0.6h-0.6zM318.2 78.6h0.6v0.6h-0.6zM311.1 92.9h0.6v0.6h-0.6zM313.3 92.3h0.6v0.6h-0.6zM314.7 80.9h0.6v0.6h-0.6zM315.5 84.6h0.6v0.6h-0.6zM313.1 85.2h0.6v0.6h-0.6zM314.6 99.6h0.6v0.6h-0.6zM312.7 86.0h0.6v0.6h-0.6zM318.1 89.2h0.6v0.6h-0.6zM313.4 87.2h0.6v0.6h-0.6zM317.2 93.2h0.6v0.6h-0.6zM311.8 87.2h0.6v0.6h-0.6zM322.2 88.4h0.6v0.6h-0.6zM324.4 96.3h0.6v0.6h-0.6zM315.5 100.2h0.6v0.6h-0.6zM315.5 87.0h0.6v0.6h-0.6zM310.8 96.2h0.6v0.6h-0.6zM308.0 96.2h0.6v0.6h-0.6zM315.1 86.5h0.6v0.6h-0.6zM325.9 68.2h0.6v0.6h-0.6zM316.0 79.3h0.6v0.6h-0.6zM319.7 80.5h0.6v0.6h-0.6zM324.7 85.8h0.6v0.6h-0.6zM312.4 86.8h0.6v0.6h-0.6zM320.0 83.9h0.6v0.6h-0.6zM318.8 102.4h0.6v0.6h-0.6zM312.4 84.3h0.6v0.6h-0.6zM315.8 73.9h0.6v0.6h-0.6zM313.5 90.4h0.6v0.6h-0.6zM316.8 93.7h0.6v0.6h-0.6zM315.3 91.1h0.6v0.6h-0.6zM312.9 88.1h0.6v0.6h-0.6zM308.4 100.3h0.6v0.6h-0.6zM314.3 85.7h0.6v0.6h-0.6zM311.6 88.6h0.6v0.6h-0.6zM322.1 91.2h0.6v0.6h-0.6zM316.9 93.3h0.6v0.6h-0.6zM313.1 91.7h0.6v0.6h-0.6zM315.2 96.5h0.6v0.6h-0.6zM315.9 78.3h0.6v0.6h-0.6zM324.3 88.2h0.6v0.6h-0.6zM319.6 73.1h0.6v0.6h-0.6zM319.7 79.0h0.6v0.6h-0.6zM312.7 83.4h0.6v0.6h-0.6zM309.9 84.3h0.6v0.6h-0.6zM315.7 90.4h0.6v0.6h-0.6zM319.9 92.4h0.6v0.6h-0.6zM314.9 94.7h0.6v0.6h-0.6zM313.5 83.3h0.6v0.6h-0.6zM316.7 97.3h0.6v0.6h-0.6zM316.2 91.4h0.6v0.6h-0.6zM314.3 85.9h0.6v0.6h-0.6zM316.3 96.9h0.6v0.6h-0.6zM321.2 87.7h0.6v0.6h-0.6zM317.2 78.6h0.6v0.6h-0.6zM314.5 74.4h0.6v0.6h-0.6zM312.3 93.3h0.6v0.6h-0.6zM310.1 79.4h0.6v0.6h-0.6zM320.7 85.2h0.6v0.6h-0.6zM321.0 97.6h0.6v0.6h-0.6zM315.1 95.2h0.6v0.6h-0.6zM310.2 91.4h0.6v0.6h-0.6zM319.4 88.2h0.6v0.6h-0.6zM311.4 85.9h0.6v0.6h-0.6zM318.5 93.9h0.6v0.6h-0.6z"/>
<path fill="rgb(120,120,120)" d="M317.9 90.6h0.6v0.6h-0.6zM308.9 79.4h0.6v0.6h-0.6zM312.6 80.0h0.6v0.6h-0.6zM315.7 79.4h0.6v0.6h-0.6zM315.3 84.0h0.6v0.6h-0.6zM312.6 80.3h0.6v0.6h-0.6zM317.6 97.1h0.6v0.6h-0.6zM311.5 81.0h0.6v0.6h-0.6zM313.7 77.2h0.6v0.6h-0.6zM315.6 89.7h0.6v0.6h-0.6zM319.1 96.0h0.6v0.6h-0.6zM317.0 85.4h0.6v0.6h-0.6zM307.8 92.1h0.6v0.6h-0.6zM323.3 86.7h0.6v0.6h-0.6zM316.4 86.9h0.6v0.6h-0.6zM309.7 78.7h0.6v0.6h-0.6zM315.0 89.9h0.6v0.6h-0.6zM315.3 79.6h0.6v0.6h-0.6zM322.2 84.2h0.6v0.6h-0.6zM309.9 89.8h0.6v0.6h-0.6zM314.6 95.1h0.6v0.6h-0.6zM318.3 78.1h0.6v0.6h-0.6zM319.4 93.8h0.6v0.6h-0.6zM311.0 95.6h0.6v0.6h-0.6zM316.7 87.9h0.6v0.6h-0.6zM310.3 88.0h0.6v0.6h-0.6zM307.1 99.9h0.6v0.6h-0.6zM321.8 87.7h0.6v0.6h-0.6zM307.6 79.3h0.6v0.6h-0.6zM312.6 87.7h0.6v0.6h-0.6zM314.0 78.6h0.6v0.6h-0.6zM316.9 100.5h0.6v0.6h-0.6zM315.8 92.1h0.6v0.6h-0.6zM308.2 92.8h0.6v0.6h-0.6zM314.0 92.6h0.6v0.6h-0.6zM309.1 79.9h0.6v0.6h-0.6zM322.0 76.1h0.6v0.6h-0.6zM313.3 78.2h0.6v0.6h-0.6zM308.9 84.8h0.6v0.6h-0.6zM315.3 88.4h0.6v0.6h-0.6zM311.5 90.7h0.6v0.6h-0.6zM312.2 89.5h0.6v0.6h-0.6zM313.7 74.4h0.6v0.6h-0.6zM306.4 94.4h0.6v0.6h-0.6zM307.5 84.2h0.6v0.6h-0.6zM310.8 87.9h0.6v0.6h-0.6zM314.6 92.8h0.6v0.6h-0.6zM316.4 84.7h0.6v0.6h-0.6zM308.6 101.4h0.6v0.6h-0.6zM319.6 65.6h0.6v0.6h-0.6zM323.9 83.5h0.6v0.6h-0.6zM304.8 89.8h0.6v0.6h-0.6zM318.5 100.0h0.6v0.6h-0.6zM316.9 78.8h0.6v0.6h-0.6zM313.0 102.1h0.6v0.6h-0.6zM316.3 89.6h0.6v0.6h-0.6zM319.7 81.2h0.6v0.6h-0.6zM317.5 75.6h0.6v0.6h-0.6zM312.2 73.4h0.6v0.6h-0.6zM314.7 74.7h0.6v0.6h-0.6zM320.4 99.0h0.6v0.6h-0.6zM314.8 95.6h0.6v0.6h-0.6zM314.5 100.1h0.6v0.6h-0.6zM315.2 94.3h0.6v0.6h-0.6zM308.7 85.2h0.6v0.6h-0.6zM310.4 100.2h0.6v0.6h-0.6zM319.9 83.7h0.6v0.6h-0.6zM309.5 96.6h0.6v0.6h-0.6zM314.3 77.9h0.6v0.6h-0.6zM310.6 88.4h0.6v0.6h-0.6zM314.2 101.9h0.6v0.6h-0.6zM310.3 86.8h0.6v0.6h-0.6zM310.2 81.8h0.6v0.6h-0.6zM318.1 96.8h0.6v0.6h-0.6zM316.8 78.2h0.6v0.6h-0.6zM316.4 78.3h0.6v0.6h-0.6zM318.2 86.7h0.6v0.6h-0.6zM312.7 100.1h0.6v0.6h-0.6zM314.1 87.2h0.6v0.6h-0.6zM316.9 91.6h0.6v0.6h-0.6zM313.2 91.0h0.6v0.6h-0.6zM312.6 73.6h0.6v0.6h-0.6zM313.6 87.2h0.6v0.6h-0.6zM313.7 96.3h0.6v0.6h-0.6zM317.5 96.1h0.6v0.6h-0.6zM313.6 80.7h0.6v0.6h-0.6zM317.1 89.8h0.6v0.6h-0.6zM312.6 92.4h0.6v0.6h-0.6zM317.3 94.6h0.6v0.6h-0.6zM316.4 84.6h0.6v0.6h-0.6zM314.1 82.3h0.6v0.6h-0.6zM322.0 84.2h0.6v0.6h-0.6zM308.6 77.8h0.6v0.6h-0.6zM311.9 86.9h0.6v0.6h-0.6z"/>
<path fill="rgb(132,132,132)" d="M302.8 93.2h0.6v0.6h-0.6zM314.9 90.0h0.6v0.6h-0.6zM315.8 79.2h0.6v0.6h-0.6zM308.7 77.7h0.6v0.6h-0.6zM314.7 87.3h0.6v0.6h-0.6zM309.3 89.7h0.6v0.6h-0.6zM319.7 80.2h0.6v0.6h-0.6zM315.2 85.1h0.6v0.6h-0.6zM316.0 88.9h0.6v0.6h-0.6zM312.9 73.2h0.6v0.6h-0.6zM306.1 66.6h0.6v0.6h-0.6zM316.0 93.7h0.6v0.6h-0.6zM323.2 79.0h0.6v0.6h-0.6zM315.8 93.2h0.6v0.6h-0.6zM322.8 80.9h0.6v0.6h-0.6zM314.2 82.4h0.6v0.6h-0.6zM319.2 90.4h0.6v0.6h-0.6zM313.9 87.9h0.6v0.6h-0.6zM316.5 91.4h0.6v0.6h-0.6zM322.2 98.2h0.6v0.6h-0.6zM320.0 95.1h0.6v0.6h-0.6zM313.4 76.2h0.6v0.6h-0.6zM311.5 94.5h0.6v0.6h-0.6zM322.2 74.6h0.6v0.6h-0.6zM316.6 72.2h0.6v0.6h-0.6zM321.5 84.0h0.6v0.6h-0.6zM315.0 95.7h0.6v0.6h-0.6zM307.2 102.4h0.6v0.6h-0.6zM309.7 82.0h0.6v0.6h-0.6zM316.5 76.2h0.6v0.6h-0.6zM316.9 94.1h0.6v0.6h-0.6zM311.0 89.3h0.6v0.6h-0.6zM308.2 93.6h0.6v0.6h-0.6zM310.7 99.8h0.6v0.6h-0.6zM315.2 97.0h0.6v0.6h-0.6zM312.6 97.0h0.6v0.6h-0.6zM311.7 89.4h0.6v0.6h-0.6zM322.3 77.0h0.6v0.6h-0.6zM312.0 90.6h0.6v0.6h-0.6zM314.0 89.4h0.6v0.6h-0.6zM314.8 87.3h0.6v0.6h-0.6zM314.0 96.3h0.6v0.6h-0.6zM317.5 102.4h0.6v0.6h-0.6zM308.1 94.7h0.6v0.6h-0.6zM317.1 80.5h0.6v0.6h-0.6zM312.3 86.4h0.6v0.6h-0.6zM319.9 82.0h0.6v0.6h-0.6zM310.6 89.8h0.6v0.6h-0.6zM322.0 88.8h0.6v0.6h-0.6zM311.1 82.5h0.6v0.6h-0.6zM323.2 102.5h0.6v0.6h-0.6zM311.6 82.1h0.6v0.6h-0.6zM318.1 104.7h0.6v0.6h-0.6zM322.4 94.6h0.6v0.6h-0.6zM315.6 85.4h0.6v0.6h-0.6zM315.6 88.4h0.6v0.6h-0.6zM317.1 85.3h0.6v0.6h-0.6zM314.3 86.0h0.6v0.6h-0.6zM317.7 85.9h0.6v0.6h-0.6zM318.1 86.0h0.6v0.6h-0.6zM315.8 82.4h0.6v0.6h-0.6zM314.4 81.6h0.6v0.6h-0.6zM317.8 80.2h0.6v0.6h-0.6zM314.1 90.9h0.6v0.6h-0.6zM309.1 90.9h0.6v0.6h-0.6zM320.8 88.6h0.6v0.6h-0.6zM315.9 84.1h0.6v0.6h-0.6zM320.3 100.7h0.6v0.6h-0.6zM312.3 85.5h0.6v0.6h-0.6zM314.2 94.3h0.6v0.6h-0.6zM317.2 91.6h0.6v0.6h-0.6zM315.6 90.2h0.6v0.6h-0.6zM318.3 87.0h0.6v0.6h-0.6zM310.6 92.4h0.6v0.6h-0.6zM312.2 97.6h0.6v0.6h-0.6zM315.9 83.6h0.6v0.6h-0.6zM317.0 95.8h0.6v0.6h-0.6zM317.3 92.3h0.6v0.6h-0.6zM305.1 94.4h0.6v0.6h-0.6zM313.6 89.5h0.6v0.6h-0.6zM316.7 86.2h0.6v0.6h-0.6zM329.1 84.3h0.6v0.6h-0.6zM317.6 95.7h0.6v0.6h-0.6zM320.6 86.5h0.6v0.6h-0.6zM313.5 100.5h0.6v0.6h-0.6zM315.1 92.9h0.6v0.6h-0.6zM310.6 92.9h0.6v0.6h-0.6zM314.9 86.3h0.6v0.6h-0.6zM308.0 86.0h0.6v0.6h-0.6zM311.2 97.6h0.6v0.6h-0.6zM320.8 98.7h0.6v0.6h-0.6zM321.0 69.1h0.6v0.6h-0.6zM313.7 92.9h0.6v0.6h-0.6zM303.9 96.4h0.6v0.6h-0.6zM319.9 77.2h0.6v0.6h-0.6z"/>
<path fill="rgb(144,144,144)" d="M318.2 103.6h0.6v0.6h-0.6zM311.5 83.4h0.6v0.6h-0.6zM315.0 87.2h0.6v0.6h-0.6zM317.3 89.8h0.6v0.6h-0.6zM317.5 87.8h0.6v0.6h-0.6zM317.3 91.2h0.6v0.6h-0.6zM313.5 79.1h0.6v0.6h-0.6zM314.0 83.0h0.6v0.6h-0.6zM311.0 96.7h0.6v0.6h-0.6zM318.3 67.8h0.6v0.6h-0.6zM308.5 87.0h0.6v0.6h-0.6zM318.4 85.2h0.6v0.6h-0.6zM313.8 74.8h0.6v0.6h-0.6zM320.7 91.2h0.6v0.6h-0.6zM318.9 92.0h0.6v0.6h-0.6zM310.8 86.7h0.6v0.6h-0.6zM312.5 89.5h0.6v0.6h-0.6zM309.3 85.3h0.6v0.6h-0.6zM320.2 94.3h0.6v0.6h-0.6zM318.5 84.1h0.6v0.6h-0.6zM318.1 72.5h0.6v0.6h-0.6zM315.2 86.8h0.6v0.6h-0.6zM314.8 84.5h0.6v0.6h-0.6zM318.7 94.1h0.6v0.6h-0.6zM313.9 95.2h0.6v0.6h-0.6zM319.4 84.0h0.6v0.6h-0.6zM315.6 73.5h0.6v0.6h-0.6zM318.7 95.4h0.6v0.6h-0.6zM323.6 71.2h0.6v0.6h-0.6zM316.4 88.3h0.6v0.6h-0.6zM315.7 89.9h0.6v0.6h-0.6zM314.1 86.4h0.6v0.6h-0.6zM316.5 88.0h0.6v0.6h-0.6zM308.9 80.0h0.6v0.6h-0.6zM307.8 86.6h0.6v0.6h-0.6zM313.8 105.2h0.6v0.6h-0.6zM312.0 104.8h0.6v0.6h-0.6zM311.8 82.1h0.6v0.6h-0.6zM318.5 90.8h0.6v0.6h-0.6zM306.2 81.9h0.6v0.6h-0.6zM317.7 91.2h0.6v0.6h-0.6zM324.7 66.8h0.6v0.6h-0.6zM317.7 73.9h0.6v0.6h-0.6zM311.7 84.7h0.6v0.6h-0.6zM316.7 100.6h0.6v0.6h-0.6zM319.1 78.6h0.6v0.6h-0.6zM318.8 76.8h0.6v0.6h-0.6zM316.8 85.0h0.6v0.6h-0.6zM309.9 91.7h0.6v0.6h-0.6zM315.4 92.8h0.6v0.6h-0.6zM321.9 91.1h0.6v0.6h-0.6zM320.9 86.4h0.6v0.6h-0.6zM311.0 93.9h0.6v0.6h-0.6zM316.6 91.3h0.6v0.6h-0.6zM320.4 96.5h0.6v0.6h-0.6zM309.0 68.1h0.6v0.6h-0.6zM315.6 84.0h0.6v0.6h-0.6zM316.5 91.3h0.6v0.6h-0.6zM311.9 84.3h0.6v0.6h-0.6zM308.3 79.8h0.6v0.6h-0.6zM315.2 79.7h0.6v0.6h-0.6zM311.6 74.0h0.6v0.6h-0.6zM314.1 88.9h0.6v0.6h-0.6zM316.8 78.2h0.6v0.6h-0.6zM310.7 96.1h0.6v0.6h-0.6zM311.5 97.8h0.6v0.6h-0.6z"/>
<path fill="rgb(156,156,156)" d="M310.0 90.8h0.6v0.6h-0.6zM312.9 90.1h0.6v0.6h-0.6zM307.1 94.8h0.6v0.6h-0.6zM314.1 88.3h0.6v0.6h-0.6zM316.0 83.1h0.6v0.6h-0.6zM316.3 97.2h0.6v0.6h-0.6zM317.0 90.2h0.6v0.6h-0.6zM311.8 95.6h0.6v0.6h-0.6zM318.6 99.1h0.6v0.6h-0.6zM311.5 94.4h0.6v0.6h-0.6zM304.4 85.5h0.6v0.6h-0.6zM312.1 82.3h0.6v0.6h-0.6zM316.8 91.4h0.6v0.6h-0.6zM316.4 104.0h0.6v0.6h-0.6zM314.1 89.5h0.6v0.6h-0.6zM317.9 91.8h0.6v0.6h-0.6zM307.3 82.4h0.6v0.6h-0.6zM311.7 80.1h0.6v0.6h-0.6zM320.6 86.3h0.6v0.6h-0.6zM324.5 80.5h0.6v0.6h-0.6zM309.9 88.6h0.6v0.6h-0.6zM308.2 103.3h0.6v0.6h-0.6zM312.5 86.0h0.6v0.6h-0.6zM317.9 94.5h0.6v0.6h-0.6zM310.1 85.2h0.6v0.6h-0.6zM309.1 92.9h0.6v0.6h-0.6zM319.6 85.3h0.6v0.6h-0.6zM312.1 93.1h0.6v0.6h-0.6zM313.7 101.3h0.6v0.6h-0.6zM313.7 85.6h0.6v0.6h-0.6zM311.3 90.4h0.6v0.6h-0.6zM306.7 100.9h0.6v0.6h-0.6zM321.9 90.5h0.6v0.6h-0.6zM312.9 92.3h0.6v0.6h-0.6zM311.9 84.7h0.6v0.6h-0.6zM316.6 103.6h0.6v0.6h-0.6zM312.7 79.2h0.6v0.6h-0.6zM321.4 85.1h0.6v0.6h-0.6zM316.6 96.5h0.6v0.6h-0.6zM315.9 102.7h0.6v0.6h-0.6zM307.7 73.1h0.6v0.6h-0.6zM318.7 84.3h0.6v0.6h-0.6zM316.6 80.1h0.6v0.6h-0.6zM313.3 96.9h0.6v0.6h-0.6zM316.8 75.7h0.6v0.6h-0.6zM314.4 81.8h0.6v0.6h-0.6zM311.1 81.5h0.6v0.6h-0.6zM312.2 62.7h0.6v0.6h-0.6zM319.8 82.1h0.6v0.6h-0.6zM314.2 89.7h0.6v0.6h-0.6zM323.1 76.5h0.6v0.6h-0.6zM311.2 93.7h0.6v0.6h-0.6zM321.7 85.7h0.6v0.6h-0.6zM321.6 102.1h0.6v0.6h-0.6zM314.0 104.6h0.6v0.6h-0.6zM310.1 92.5h0.6v0.6h-0.6zM315.6 87.9h0.6v0.6h-0.6zM313.0 78.5h0.6v0.6h-0.6zM312.0 88.9h0.6v0.6h-0.6zM309.4 80.4h0.6v0.6h-0.6zM318.9 100.1h0.6v0.6h-0.6zM315.7 93.7h0.6v0.6h-0.6zM306.2 80.3h0.6v0.6h-0.6zM317.4 98.0h0.6v0.6h-0.6zM311.7 102.3h0.6v0.6h-0.6zM313.3 81.8h0.6v0.6h-0.6zM313.4 97.2h0.6v0.6h-0.6zM313.3 78.3h0.6v0.6h-0.6zM314.6 97.2h0.6v0.6h-0.6zM315.0 94.8h0.6v0.6h-0.6zM315.5 89.9h0.6v0.6h-0.6zM317.8 91.4h0.6v0.6h-0.6zM317.0 102.9h0.6v0.6h-0.6zM320.9 77.9h0.6v0.6h-0.6zM310.8 88.4h0.6v0.6h-0.6zM314.3 82.2h0.6v0.6h-0.6zM319.0 72.7h0.6v0.6h-0.6zM316.3 88.7h0.6v0.6h-0.6zM312.2 91.1h0.6v0.6h-0.6zM313.4 83.3h0.6v0.6h-0.6zM318.8 94.4h0.6v0.6h-0.6zM318.1 93.4h0.6v0.6h-0.6zM309.5 93.6h0.6v0.6h-0.6zM317.2 96.9h0.6v0.6h-0.6zM320.8 99.0h0.6v0.6h-0.6z"/>
<path fill="rgb(168,168,168)" d="M306.6 103.3h0.6v0.6h-0.6zM307.0 82.1h0.6v0.6h-0.6zM321.7 86.9h0.6v0.6h-0.6zM312.0 89.3h0.6v0.6h-0.6zM321.1 98.7h0.6v0.6h-0.6zM313.5 92.2h0.6v0.6h-0.6zM313.4 71.6h0.6v0.6h-0.6zM314.1 100.6h0.6v0.6h-0.6zM311.8 79.1h0.6v0.6h-0.6zM316.1 90.7h0.6v0.6h-0.6zM313.4 78.2h0.6v0.6h-0.6zM320.1 85.0h0.6v0.6h-0.6zM314.9 101.9h0.6v0.6h-0.6zM314.0 93.9h0.6v0.6h-0.6zM318.6 89.8h0.6v0.6h-0.6zM313.4 96.1h0.6v0.6h-0.6zM306.6 85.2h0.6v0.6h-0.6zM313.1 86.2h0.6v0.6h-0.6zM322.8 99.7h0.6v0.6h-0.6zM301.8 76.3h0.6v0.6h-0.6zM318.7 95.4h0.6v0.6h-0.6zM309.9 94.6h0.6v0.6h-0.6zM309.7 83.7h0.6v0.6h-0.6zM313.9 103.4h0.6v0.6h-0.6zM316.8 80.5h0.6v0.6h-0.6zM320.4 82.0h0.6v0.6h-0.6zM312.8 102.1h0.6v0.6h-0.6zM306.1 80.0h0.6v0.6h-0.6zM315.8 85.2h0.6v0.6h-0.6zM315.3 93.9h0.6v0.6h-0.6zM308.8 87.2h0.6v0.6h-0.6zM318.1 94.6h0.6v0.6h-0.6zM313.7 91.3h0.6v0.6h-0.6zM317.2 72.2h0.6v0.6h-0.6zM314.2 87.6h0.6v0.6h-0.6zM325.8 86.8h0.6v0.6h-0.6zM320.4 81.6h0.6v0.6h-0.6zM311.5 85.1h0.6v0.6h-0.6zM319.1 82.1h0.6v0.6h-0.6zM312.8 87.6h0.6v0.6h-0.6zM315.9 87.5h0.6v0.6h-0.6zM313.4 82.2h0.6v0.6h-0.6zM309.9 87.4h0.6v0.6h-0.6zM318.9 94.7h0.6v0.6h-0.6zM317.3 92.2h0.6v0.6h-0.6zM319.0 90.6h0.6v0.6h-0.6zM312.5 94.7h0.6v0.6h-0.6zM301.7 97.8h0.6v0.6h-0.6zM313.9 90.8h0.6v0.6h-0.6zM314.9 97.5h0.6v0.6h-0.6zM314.7 102.9h0.6v0.6h-0.6zM318.7 93.7h0.6v0.6h-0.6zM313.5 77.6h0.6v0.6h-0.6zM318.9 71.3h0.6v0.6h-0.6zM316.1 76.0h0.6v0.6h-0.6zM320.9 88.7h0.6v0.6h-0.6zM312.4 101.7h0.6v0.6h-0.6zM316.4 83.8h0.6v0.6h-0.6zM312.6 79.3h0.6v0.6h-0.6zM312.5 83.3h0.6v0.6h-0.6zM312.1 81.8h0.6v0.6h-0.6zM318.9 97.7h0.6v0.6h-0.6zM322.8 89.2h0.6v0.6h-0.6zM308.9 84.4h0.6v0.6h-0.6zM316.8 80.5h0.6v0.6h-0.6zM317.7 88.2h0.6v0.6h-0.6zM317.4 92.2h0.6v0.6h-0.6zM316.4 95.4h0.6v0.6h-0.6zM316.6 86.5h0.6v0.6h-0.6zM309.2 100.0h0.6v0.6h-0.6zM316.2 92.8h0.6v0.6h-0.6zM323.2 102.8h0.6v0.6h-0.6zM313.1 91.3h0.6v0.6h-0.6zM314.8 97.2h0.6v0.6h-0.6zM316.9 87.4h0.6v0.6h-0.6zM312.2 98.8h0.6v0.6h-0.6zM318.8 86.4h0.6v0.6h-0.6zM316.1 87.9h0.6v0.6h-0.6zM311.4 90.2h0.6v0.6h-0.6zM317.6 91.2h0.6v0.6h-0.6zM312.7 97.7h0.6v0.6h-0.6zM311.2 89.6h0.6v0.6h-0.6zM316.1 91.8h0.6v0.6h-0.6zM313.9 79.8h0.6v0.6h-0.6zM317.9 86.0h0.6v0.6h-0.6zM319.9 83.9h0.6v0.6h-0.6zM309.4 99.8h0.6v0.6h-0.6zM317.6 100.0h0.6v0.6h-0.6z"/>
<path fill="rgb(180,180,180)" d="M309.7 91.9h0.6v0.6h-0.6zM317.2 98.4h0.6v0.6h-0.6zM316.0 95.3h0.6v0.6h-0.6zM318.4 87.0h0.6v0.6h-0.6zM309.8 89.1h0.6v0.6h-0.6zM320.2 93.7h0.6v0.6h-0.6zM325.3 94.3h0.6v0.6h-0.6zM318.4 81.7h0.6v0.6h-0.6zM314.6 79.7h0.6v0.6h-0.6zM316.2 85.3h0.6v0.6h-0.6zM309.8 76.4h0.6v0.6h-0.6zM319.8 73.6h0.6v0.6h-0.6zM315.6 81.5h0.6v0.6h-0.6zM314.9 102.7h0.6v0.6h-0.6zM317.8 88.4h0.6v0.6h-0.6zM320.7 86.9h0.6v0.6h-0.6zM318.4 85.6h0.6v0.6h-0.6zM296.8 95.4h0.6v0.6h-0.6zM313.1 86.0h0.6v0.6h-0.6zM317.3 97.5h0.6v0.6h-0.6zM314.4 91.9h0.6v0.6h-0.6zM314.8 92.9h0.6v0.6h-0.6zM312.6 74.0h0.6v0.6h-0.6zM310.8 77.6h0.6v0.6h-0.6zM310.2 92.2h0.6v0.6h-0.6zM321.2 82.8h0.6v0.6h-0.6zM315.2 85.6h0.6v0.6h-0.6zM310.6 92.9h0.6v0.6h-0.6zM311.1 83.9h0.6v0.6h-0.6zM314.2 100.7h0.6v0.6h-0.6zM316.8 90.4h0.6v0.6h-0.6zM313.5 84.8h0.6v0.6h-0.6zM317.1 79.9h0.6v0.6h-0.6zM317.4 73.6h0.6v0.6h-0.6zM314.6 85.0h0.6v0.6h-0.6zM313.5 98.0h0.6v0.6h-0.6zM320.6 74.9h0.6v0.6h-0.6zM307.8 73.3h0.6v0.6h-0.6zM320.8 96.1h0.6v0.6h-0.6zM320.7 82.5h0.6v0.6h-0.6zM309.5 96.7h0.6v0.6h-0.6zM310.8 91.1h0.6v0.6h-0.6zM320.1 100.0h0.6v0.6h-0.6zM316.7 74.4h0.6v0.6h-0.6zM314.6 91.2h0.6v0.6h-0.6zM327.7 65.0h0.6v0.6h-0.6zM316.9 86.2h0.6v0.6h-0.6zM304.7 88.7h0.6v0.6h-0.6zM315.8 96.1h0.6v0.6h-0.6zM313.9 81.9h0.6v0.6h-0.6zM315.8 101.7h0.6v0.6h-0.6zM312.7 86.2h0.6v0.6h-0.6zM316.2 93.8h0.6v0.6h-0.6zM308.0 94.2h0.6v0.6h-0.6zM317.0 78.5h0.6v0.6h-0.6zM314.6 72.9h0.6v0.6h-0.6zM308.4 91.4h0.6v0.6h-0.6zM318.3 96.3h0.6v0.6h-0.6zM321.9 86.1h0.6v0.6h-0.6zM311.3 81.0h0.6v0.6h-0.6zM322.0 93.6h0.6v0.6h-0.6zM310.3 100.3h0.6v0.6h-0.6zM317.9 85.8h0.6v0.6h-0.6zM307.3 82.2h0.6v0.6h-0.6zM312.7 93.9h0.6v0.6h-0.6zM323.5 87.4h0.6v0.6h-0.6zM314.5 81.8h0.6v0.6h-0.6zM314.0 83.3h0.6v0.6h-0.6zM310.9 84.6h0.6v0.6h-0.6zM316.6 88.3h0.6v0.6h-0.6zM310.3 96.4h0.6v0.6h-0.6zM319.1 91.8h0.6v0.6h-0.6zM307.1 85.7h0.6v0.6h-0.6zM318.0 72.6h0.6v0.6h-0.6zM323.4 83.2h0.6v0.6h-0.6zM314.9 80.7h0.6v0.6h-0.6zM323.5 95.7h0.6v0.6h-0.6zM316.9 100.7h0.6v0.6h-0.6zM322.1 88.1h0.6v0.6h-0.6zM313.4 70.7h0.6v0.6h-0.6zM321.8 88.5h0.6v0.6h-0.6zM313.2 88.1h0.6v0.6h-0.6zM313.1 87.6h0.6v0.6h-0.6zM306.7 72.9h0.6v0.6h-0.6zM312.2 93.2h0.6v0.6h-0.6zM312.0 89.2h0.6v0.6h-0.6zM316.9 83.3h0.6v0.6h-0.6zM314.8 88.0h0.6v0.6h-0.6zM315.9 84.7h0.6v0.6h-0.6z"/>
<path fill="rgb(192,192,192)" d="M324.2 88.6h0.6v0.6h-0.6zM326.8 98.4h0.6v0.6h-0.6zM322.5 99.0h0.6v0.6h-0.6zM319.7 84.3h0.6v0.6h-0.6zM311.1 88.9h0.6v0.6h-0.6zM321.5 90.4h0.6v0.6h-0.6zM315.4 99.4h0.6v0.6h-0.6zM314.3 78.5h0.6v0.6h-0.6zM316.8 79.2h0.6v0.6h-0.6zM317.2 79.3h0.6v0.6h-0.6zM319.3 83.5h0.6v0.6h-0.6zM319.2 83.8h0.6v0.6h-0.6zM315.5 83.5h0.6v0.6h-0.6zM319.0 72.8h0.6v0.6h-0.6zM316.9 86.5h0.6v0.6h-0.6zM314.5 80.5h0.6v0.6h-0.6zM327.0 73.4h0.6v0.6h-0.6zM313.9 92.9h0.6v0.6h-0.6zM324.0 95.8h0.6v0.6h-0.6zM312.9 82.3h0.6v0.6h-0.6zM314.5 95.2h0.6v0.6h-0.6zM313.6 86.5h0.6v0.6h-0.6zM315.4 104.5h0.6v0.6h-0.6zM315.9 81.7h0.6v0.6h-0.6zM315.4 84.9h0.6v0.6h-0.6zM313.6 102.7h0.6v0.6h-0.6zM312.5 94.0h0.6v0.6h-0.6zM313.3 77.9h0.6v0.6h-0.6zM310.6 89.4h0.6v0.6h-0.6zM317.0 70.0h0.6v0.6h-0.6zM313.2 81.3h0.6v0.6h-0.6zM313.3 95.4h0.6v0.6h-0.6zM315.1 91.8h0.6v0.6h-0.6z"/>
<path fill="rgb(120,120,120)" d="M319.6 88.3h0.6v0.6h-0.6zM325.2 90.2h0.6v0.6h-0.6zM333.2 78.9h0.6v0.6h-0.6zM329.2 87.6h0.6v0.6h-0.6zM319.6 96.0h0.6v0.6h-0.6zM313.2 88.3h0.6v0.6h-0.6zM314.2 83.2h0.6v0.6h-0.6zM327.0 87.0h0.6v0.6h-0.6z"/>
<path fill="rgb(132,132,132)" d="M322.9 83.8h0.6v0.6h-0.6zM324.2 88.9h0.6v0.6h-0.6zM315.1 91.5h0.6v0.6h-0.6zM311.7 97.2h0.6v0.6h-0.6zM336.4 73.4h0.6v0.6h-0.6zM332.1 97.8h0.6v0.6h-0.6zM323.8 90.9h0.6v0.6h-0.6zM308.6 89.9h0.6v0.6h-0.6zM324.1 92.3h0.6v0.6h-0.6zM316.5 94.2h0.6v0.6h-0.6zM337.7 89.8h0.6v0.6h-0.6zM313.9 89.3h0.6v0.6h-0.6zM318.4 96.6h0.6v0.6h-0.6zM319.0 82.8h0.6v0.6h-0.6zM329.4 94.0h0.6v0.6h-0.6zM329.2 97.1h0.6v0.6h-0.6zM319.2 98.6h0.6v0.6h-0.6zM334.8 85.6h0.6v0.6h-0.6zM329.5 92.8h0.6v0.6h-0.6zM302.9 74.0h0.6v0.6h-0.6zM325.4 91.3h0.6v0.6h-0.6zM327.2 69.9h0.6v0.6h-0.6zM320.3 92.3h0.6v0.6h-0.6zM320.4 82.8h0.6v0.6h-0.6zM341.8 85.6h0.6v0.6h-0.6zM331.4 81.5h0.6v0.6h-0.6zM316.8 94.7h0.6v0.6h-0.6zM326.1 80.4h0.6v0.6h-0.6zM311.6 105.0h0.6v0.6h-0.6zM333.7 83.9h0.6v0.6h-0.6zM330.5 78.7h0.6v0.6h-0.6zM332.6 95.7h0.6v0.6h-0.6zM305.6 79.8h0.6v0.6h-0.6zM323.0 84.6h0.6v0.6h-0.6zM311.1 84.7h0.6v0.6h-0.6zM319.0 74.9h0.6v0.6h-0.6zM309.1 98.9h0.6v0.6h-0.6zM322.2 98.0h0.6v0.6h-0.6zM339.3 100.9h0.6v0.6h-0.6zM322.8 75.5h0.6v0.6h-0.6zM323.1 93.9h0.6v0.6h-0.6zM329.4 80.3h0.6v0.6h-0.6zM332.6 96.9h0.6v0.6h-0.6zM338.4 76.1h0.6v0.6h-0.6zM319.5 98.7h0.6v0.6h-0.6zM317.4 91.6h0.6v0.6h-0.6zM331.2 101.1h0.6v0.6h-0.6zM325.1 90.8h0.6v0.6h-0.6zM324.9 90.3h0.6v0.6h-0.6zM309.5 96.0h0.6v0.6h-0.6zM325.3 95.5h0.6v0.6h-0.6zM308.8 96.0h0.6v0.6h-0.6zM336.3 81.4h0.6v0.6h-0.6zM316.8 92.6h0.6v0.6h-0.6zM327.2 83.3h0.6v0.6h-0.6zM321.6 100.2h0.6v0.6h-0.6z"/>
<path fill="rgb(144,144,144)" d="M328.2 68.4h0.6v0.6h-0.6zM332.0 99.2h0.6v0.6h-0.6zM328.2 99.5h0.6v0.6h-0.6zM311.4 88.7h0.6v0.6h-0.6zM313.7 104.9h0.6v0.6h-0.6zM345.9 87.8h0.6v0.6h-0.6zM311.2 82.5h0.6v0.6h-0.6zM331.1 87.2h0.6v0.6h-0.6zM327.9 89.3h0.6v0.6h-0.6zM318.9 91.7h0.6v0.6h-0.6zM315.3 82.3h0.6v0.6h-0.6zM334.2 75.0h0.6v0.6h-0.6zM322.9 104.7h0.6v0.6h-0.6zM310.2 91.7h0.6v0.6h-0.6zM335.6 90.2h0.6v0.6h-0.6zM311.5 96.2h0.6v0.6h-0.6zM346.1 87.8h0.6v0.6h-0.6zM318.0 81.4h0.6v0.6h-0.6zM342.0 89.8h0.6v0.6h-0.6zM307.2 83.9h0.6v0.6h-0.6zM327.2 85.1h0.6v0.6h-0.6zM334.2 92.2h0.6v0.6h-0.6zM321.7 97.8h0.6v0.6h-0.6zM326.6 71.2h0.6v0.6h-0.6zM332.1 71.9h0.6v0.6h-0.6zM325.3 98.6h0.6v0.6h-0.6zM324.6 96.9h0.6v0.6h-0.6zM344.2 70.5h0.6v0.6h-0.6zM325.7 91.3h0.6v0.6h-0.6zM317.4 89.8h0.6v0.6h-0.6zM312.8 104.9h0.6v0.6h-0.6zM325.3 77.8h0.6v0.6h-0.6zM329.0 71.3h0.6v0.6h-0.6zM316.2 83.3h0.6v0.6h-0.6zM322.2 99.6h0.6v0.6h-0.6zM320.0 88.2h0.6v0.6h-0.6zM318.4 82.3h0.6v0.6h-0.6zM315.5 98.0h0.6v0.6h-0.6zM329.4 80.0h0.6v0.6h-0.6zM331.4 104.0h0.6v0.6h-0.6zM315.7 87.5h0.6v0.6h-0.6zM323.5 96.0h0.6v0.6h-0.6zM335.1 94.9h0.6v0.6h-0.6zM319.7 99.5h0.6v0.6h-0.6zM314.6 69.9h0.6v0.6h-0.6zM322.2 86.6h0.6v0.6h-0.6zM315.7 103.8h0.6v0.6h-0.6zM323.3 89.6h0.6v0.6h-0.6zM311.5 103.0h0.6v0.6h-0.6zM306.9 95.0h0.6v0.6h-0.6zM334.3 84.1h0.6v0.6h-0.6zM296.7 86.2h0.6v0.6h-0.6zM327.8 91.6h0.6v0.6h-0.6zM321.1 94.6h0.6v0.6h-0.6zM332.1 72.1h0.6v0.6h-0.6zM335.2 89.3h0.6v0.6h-0.6zM336.5 82.3h0.6v0.6h-0.6zM314.4 88.5h0.6v0.6h-0.6z"/>
<path fill="rgb(156,156,156)" d="M318.8 104.0h0.6v0.6h-0.6zM313.8 92.3h0.6v0.6h-0.6zM339.9 102.9h0.6v0.6h-0.6zM325.5 91.5h0.6v0.6h-0.6zM338.8 93.1h0.6v0.6h-0.6zM312.5 90.3h0.6v0.6h-0.6zM305.3 90.5h0.6v0.6h-0.6zM332.1 91.5h0.6v0.6h-0.6zM310.9 103.4h0.6v0.6h-0.6zM321.4 95.9h0.6v0.6h-0.6zM322.2 93.4h0.6v0.6h-0.6zM307.6 85.7h0.6v0.6h-0.6zM309.1 94.0h0.6v0.6h-0.6zM298.9 91.1h0.6v0.6h-0.6zM343.8 88.5h0.6v0.6h-0.6zM327.5 90.6h0.6v0.6h-0.6zM321.3 105.2h0.6v0.6h-0.6zM322.2 79.3h0.6v0.6h-0.6zM325.8 104.0h0.6v0.6h-0.6zM312.9 96.7h0.6v0.6h-0.6zM333.4 91.2h0.6v0.6h-0.6zM320.0 77.7h0.6v0.6h-0.6zM324.7 88.9h0.6v0.6h-0.6zM308.3 97.3h0.6v0.6h-0.6zM320.9 105.3h0.6v0.6h-0.6zM334.7 90.8h0.6v0.6h-0.6zM334.1 96.2h0.6v0.6h-0.6zM318.9 82.9h0.6v0.6h-0.6zM315.9 98.9h0.6v0.6h-0.6zM309.6 89.3h0.6v0.6h-0.6zM331.6 97.9h0.6v0.6h-0.6zM320.5 90.5h0.6v0.6h-0.6zM317.4 88.8h0.6v0.6h-0.6zM328.4 98.7h0.6v0.6h-0.6zM319.5 94.5h0.6v0.6h-0.6zM324.1 89.9h0.6v0.6h-0.6zM332.2 83.7h0.6v0.6h-0.6zM340.8 91.4h0.6v0.6h-0.6zM309.7 96.8h0.6v0.6h-0.6zM319.3 88.7h0.6v0.6h-0.6zM320.2 104.3h0.6v0.6h-0.6zM326.7 89.3h0.6v0.6h-0.6zM329.8 90.2h0.6v0.6h-0.6zM309.9 82.1h0.6v0.6h-0.6zM303.4 104.5h0.6v0.6h-0.6zM309.2 90.3h0.6v0.6h-0.6zM331.2 82.0h0.6v0.6h-0.6zM337.7 74.2h0.6v0.6h-0.6zM323.0 95.3h0.6v0.6h-0.6z"/>
<path fill="rgb(168,168,168)" d="M322.8 102.4h0.6v0.6h-0.6zM324.9 100.5h0.6v0.6h-0.6zM328.2 96.8h0.6v0.6h-0.6zM330.9 94.3h0.6v0.6h-0.6zM324.6 98.2h0.6v0.6h-0.6zM316.6 89.6h0.6v0.6h-0.6zM325.2 93.2h0.6v0.6h-0.6zM344.1 85.8h0.6v0.6h-0.6zM325.2 95.6h0.6v0.6h-0.6zM315.5 85.4h0.6v0.6h-0.6zM323.9 68.3h0.6v0.6h-0.6zM318.6 90.1h0.6v0.6h-0.6zM317.7 81.4h0.6v0.6h-0.6zM326.3 76.4h0.6v0.6h-0.6zM341.8 89.2h0.6v0.6h-0.6zM312.5 95.6h0.6v0.6h-0.6zM318.9 81.0h0.6v0.6h-0.6zM319.6 82.6h0.6v0.6h-0.6zM333.1 104.7h0.6v0.6h-0.6zM314.8 74.0h0.6v0.6h-0.6zM319.5 91.0h0.6v0.6h-0.6zM313.5 97.6h0.6v0.6h-0.6zM326.1 86.2h0.6v0.6h-0.6zM319.4 103.1h0.6v0.6h-0.6zM315.6 104.6h0.6v0.6h-0.6zM308.3 93.8h0.6v0.6h-0.6zM326.7 86.3h0.6v0.6h-0.6zM323.8 90.7h0.6v0.6h-0.6zM310.0 94.8h0.6v0.6h-0.6zM328.4 94.9h0.6v0.6h-0.6zM310.1 88.3h0.6v0.6h-0.6zM329.7 93.5h0.6v0.6h-0.6zM327.3 92.0h0.6v0.6h-0.6zM315.8 87.0h0.6v0.6h-0.6zM332.6 82.1h0.6v0.6h-0.6zM313.3 69.7h0.6v0.6h-0.6zM327.8 102.3h0.6v0.6h-0.6zM322.6 92.1h0.6v0.6h-0.6zM307.8 77.1h0.6v0.6h-0.6zM320.5 71.5h0.6v0.6h-0.6zM314.2 89.5h0.6v0.6h-0.6zM320.1 78.6h0.6v0.6h-0.6zM316.6 80.0h0.6v0.6h-0.6zM319.1 95.1h0.6v0.6h-0.6zM330.1 86.8h0.6v0.6h-0.6zM320.4 103.9h0.6v0.6h-0.6zM335.4 85.0h0.6v0.6h-0.6zM316.6 84.5h0.6v0.6h-0.6zM316.4 89.1h0.6v0.6h-0.6zM321.8 104.2h0.6v0.6h-0.6zM307.3 91.8h0.6v0.6h-0.6zM309.7 99.5h0.6v0.6h-0.6zM316.1 84.1h0.6v0.6h-0.6z"/>
<path fill="rgb(180,180,180)" d="M340.4 88.6h0.6v0.6h-0.6zM317.5 97.2h0.6v0.6h-0.6zM326.2 97.7h0.6v0.6h-0.6zM321.9 98.5h0.6v0.6h-0.6zM319.5 84.5h0.6v0.6h-0.6zM318.7 87.9h0.6v0.6h-0.6zM328.8 65.6h0.6v0.6h-0.6zM338.5 94.1h0.6v0.6h-0.6zM310.9 97.7h0.6v0.6h-0.6zM321.2 90.9h0.6v0.6h-0.6zM329.7 90.0h0.6v0.6h-0.6zM332.6 87.6h0.6v0.6h-0.6zM323.7 85.6h0.6v0.6h-0.6zM335.8 87.5h0.6v0.6h-0.6zM325.3 78.2h0.6v0.6h-0.6zM321.6 76.6h0.6v0.6h-0.6zM329.7 82.1h0.6v0.6h-0.6zM329.4 98.9h0.6v0.6h-0.6zM318.7 80.9h0.6v0.6h-0.6zM321.1 91.3h0.6v0.6h-0.6zM324.0 93.9h0.6v0.6h-0.6zM313.7 97.1h0.6v0.6h-0.6zM318.2 85.7h0.6v0.6h-0.6zM316.1 104.3h0.6v0.6h-0.6zM339.1 88.9h0.6v0.6h-0.6zM335.6 87.0h0.6v0.6h-0.6zM330.8 90.4h0.6v0.6h-0.6zM332.0 92.6h0.6v0.6h-0.6zM305.6 82.3h0.6v0.6h-0.6zM318.7 83.2h0.6v0.6h-0.6zM316.6 97.5h0.6v0.6h-0.6zM319.9 99.7h0.6v0.6h-0.6zM334.6 77.5h0.6v0.6h-0.6zM315.8 76.1h0.6v0.6h-0.6zM318.1 75.2h0.6v0.6h-0.6zM299.8 82.5h0.6v0.6h-0.6zM316.3 88.4h0.6v0.6h-0.6zM329.8 69.6h0.6v0.6h-0.6zM331.8 82.9h0.6v0.6h-0.6zM327.1 90.1h0.6v0.6h-0.6zM323.7 85.6h0.6v0.6h-0.6zM336.2 73.2h0.6v0.6h-0.6zM303.5 98.5h0.6v0.6h-0.6zM333.9 97.6h0.6v0.6h-0.6zM325.0 82.1h0.6v0.6h-0.6zM326.1 93.9h0.6v0.6h-0.6zM308.1 81.3h0.6v0.6h-0.6zM335.8 94.9h0.6v0.6h-0.6zM313.4 93.1h0.6v0.6h-0.6zM342.0 101.6h0.6v0.6h-0.6zM315.2 85.6h0.6v0.6h-0.6zM322.2 82.5h0.6v0.6h-0.6zM322.6 98.9h0.6v0.6h-0.6zM326.4 74.7h0.6v0.6h-0.6z"/>
<path fill="rgb(192,192,192)" d="M325.8 87.3h0.6v0.6h-0.6zM330.1 80.7h0.6v0.6h-0.6zM306.1 99.2h0.6v0.6h-0.6zM317.8 97.3h0.6v0.6h-0.6zM324.7 88.9h0.6v0.6h-0.6zM336.8 89.9h0.6v0.6h-0.6zM320.8 89.2h0.6v0.6h-0.6zM307.9 80.2h0.6v0.6h-0.6zM311.3 82.9h0.6v0.6h-0.6zM313.6 75.8h0.6v0.6h-0.6zM334.4 99.8h0.6v0.6h-0.6zM330.5 100.0h0.6v0.6h-0.6zM326.1 81.6h0.6v0.6h-0.6zM344.1 93.8h0.6v0.6h-0.6zM310.8 87.2h0.6v0.6h-0.6zM312.8 79.2h0.6v0.6h-0.6zM324.0 84.2h0.6v0.6h-0.6zM326.8 98.6h0.6v0.6h-0.6zM300.0 81.4h0.6v0.6h-0.6zM341.8 96.5h0.6v0.6h-0.6zM324.1 76.3h0.6v0.6h-0.6zM317.7 98.5h0.6v0.6h-0.6zM330.6 94.5h0.6v0.6h-0.6zM334.3 76.3h0.6v0.6h-0.6zM322.7 78.8h0.6v0.6h-0.6zM327.9 87.1h0.6v0.6h-0.6zM327.0 93.5h0.6v0.6h-0.6zM318.1 93.8h0.6v0.6h-0.6zM340.4 85.9h0.6v0.6h-0.6zM320.6 93.3h0.6v0.6h-0.6zM310.8 94.7h0.6v0.6h-0.6zM312.4 94.2h0.6v0.6h-0.6zM321.5 80.8h0.6v0.6h-0.6zM315.0 87.9h0.6v0.6h-0.6zM319.7 104.3h0.6v0.6h-0.6zM324.8 80.3h0.6v0.6h-0.6zM332.3 94.8h0.6v0.6h-0.6zM321.2 83.7h0.6v0.6h-0.6zM304.6 98.0h0.6v0.6h-0.6zM331.4 78.1h0.6v0.6h-0.6zM330.7 94.1h0.6v0.6h-0.6zM328.1 82.2h0.6v0.6h-0.6zM325.0 81.2h0.6v0.6h-0.6zM321.4 84.1h0.6v0.6h-0.6zM324.0 102.1h0.6v0.6h-0.6zM324.4 90.3h0.6v0.6h-0.6zM318.2 91.6h0.6v0.6h-0.6zM326.7 102.2h0.6v0.6h-0.6zM313.5 96.7h0.6v0.6h-0.6zM309.0 83.4h0.6v0.6h-0.6zM317.9 98.6h0.6v0.6h-0.6zM304.7 100.6h0.6v0.6h-0.6zM323.6 94.6h0.6v0.6h-0.6zM321.9 94.8h0.6v0.6h-0.6zM312.1 84.4h0.6v0.6h-0.6zM318.2 93.3h0.6v0.6h-0.6zM324.7 84.8h0.6v0.6h-0.6zM331.7 97.9h0.6v0.6h-0.6z"/>
<path fill="rgb(204,204,204)" d="M323.5 85.8h0.6v0.6h-0.6zM334.9 99.4h0.6v0.6h-0.6zM325.5 96.7h0.6v0.6h-0.6zM315.7 97.2h0.6v0.6h-0.6zM328.0 97.7h0.6v0.6h-0.6zM299.0 103.2h0.6v0.6h-0.6zM329.9 101.8h0.6v0.6h-0.6zM306.7 92.3h0.6v0.6h-0.6zM312.2 98.3h0.6v0.6h-0.6zM323.7 84.6h0.6v0.6h-0.6zM328.7 87.1h0.6v0.6h-0.6zM339.0 88.1h0.6v0.6h-0.6zM309.8 99.8h0.6v0.6h-0.6zM318.3 89.0h0.6v0.6h-0.6zM330.2 88.9h0.6v0.6h-0.6zM316.8 94.2h0.6v0.6h-0.6zM320.1 86.1h0.6v0.6h-0.6zM308.4 78.0h0.6v0.6h-0.6zM322.9 98.5h0.6v0.6h-0.6zM324.5 81.5h0.6v0.6h-0.6zM330.3 92.4h0.6v0.6h-0.6zM326.3 103.2h0.6v0.6h-0.6zM339.2 95.0h0.6v0.6h-0.6zM333.3 63.5h0.6v0.6h-0.6zM336.5 89.6h0.6v0.6h-0.6zM324.0 92.2h0.6v0.6h-0.6zM335.1 86.5h0.6v0.6h-0.6zM313.9 79.5h0.6v0.6h-0.6zM333.1 101.6h0.6v0.6h-0.6zM317.1 92.2h0.6v0.6h-0.6zM331.2 83.0h0.6v0.6h-0.6zM308.7 80.3h0.6v0.6h-0.6z"/>
<path fill="rgb(120,120,120)" d="M326.3 67.4h0.6v0.6h-0.6zM322.6 68.7h0.6v0.6h-0.6zM328.9 66.7h0.6v0.6h-0.6zM336.0 65.5h0.6v0.6h-0.6zM318.4 68.7h0.6v0.6h-0.6zM336.6 70.1h0.6v0.6h-0.6zM331.2 72.3h0.6v0.6h-0.6zM334.7 66.8h0.6v0.6h-0.6zM331.8 61.9h0.6v0.6h-0.6zM321.2 67.9h0.6v0.6h-0.6zM312.6 61.8h0.6v0.6h-0.6zM332.2 58.3h0.6v0.6h-0.6zM308.7 60.4h0.6v0.6h-0.6zM320.8 64.3h0.6v0.6h-0.6zM316.8 58.0h0.6v0.6h-0.6zM319.7 68.4h0.6v0.6h-0.6zM323.6 70.4h0.6v0.6h-0.6zM333.7 67.1h0.6v0.6h-0.6zM322.4 60.7h0.6v0.6h-0.6zM314.6 65.9h0.6v0.6h-0.6zM326.2 65.9h0.6v0.6h-0.6zM331.6 66.9h0.6v0.6h-0.6zM344.8 65.6h0.6v0.6h-0.6zM333.8 68.3h0.6v0.6h-0.6zM312.2 69.9h0.6v0.6h-0.6zM328.5 63.2h0.6v0.6h-0.6zM316.5 65.3h0.6v0.6h-0.6zM331.3 65.2h0.6v0.6h-0.6zM332.0 65.8h0.6v0.6h-0.6zM316.3 64.7h0.6v0.6h-0.6zM328.0 66.7h0.6v0.6h-0.6zM318.8 63.8h0.6v0.6h-0.6zM326.3 68.1h0.6v0.6h-0.6zM338.9 67.0h0.6v0.6h-0.6zM318.8 64.0h0.6v0.6h-0.6zM336.1 68.7h0.6v0.6h-0.6zM339.8 69.7h0.6v0.6h-0.6zM341.2 64.7h0.6v0.6h-0.6zM323.2 73.7h0.6v0.6h-0.6zM327.4 64.0h0.6v0.6h-0.6z"/>
<path fill="rgb(132,132,132)" d="M314.0 62.4h0.6v0.6h-0.6zM317.3 67.3h0.6v0.6h-0.6zM334.4 68.2h0.6v0.6h-0.6zM329.9 68.1h0.6v0.6h-0.6zM328.4 66.9h0.6v0.6h-0.6zM329.2 62.1h0.6v0.6h-0.6zM330.4 64.4h0.6v0.6h-0.6zM333.3 63.1h0.6v0.6h-0.6zM338.4 64.4h0.6v0.6h-0.6zM306.4 59.5h0.6v0.6h-0.6zM308.7 65.4h0.6v0.6h-0.6zM313.8 65.0h0.6v0.6h-0.6zM337.1 63.5h0.6v0.6h-0.6zM331.5 71.4h0.6v0.6h-0.6zM319.9 60.9h0.6v0.6h-0.6zM329.8 60.7h0.6v0.6h-0.6zM328.3 68.5h0.6v0.6h-0.6zM319.0 67.5h0.6v0.6h-0.6zM311.5 62.5h0.6v0.6h-0.6zM329.2 66.2h0.6v0.6h-0.6zM324.5 64.6h0.6v0.6h-0.6zM321.6 64.7h0.6v0.6h-0.6zM334.8 65.6h0.6v0.6h-0.6zM330.3 74.1h0.6v0.6h-0.6zM329.7 68.1h0.6v0.6h-0.6zM325.6 61.0h0.6v0.6h-0.6zM308.7 65.3h0.6v0.6h-0.6zM316.4 63.8h0.6v0.6h-0.6zM318.6 59.7h0.6v0.6h-0.6zM308.9 68.7h0.6v0.6h-0.6zM337.3 69.6h0.6v0.6h-0.6zM321.3 62.9h0.6v0.6h-0.6zM334.3 67.8h0.6v0.6h-0.6zM326.9 61.1h0.6v0.6h-0.6zM323.3 59.2h0.6v0.6h-0.6zM330.0 69.1h0.6v0.6h-0.6zM321.3 67.4h0.6v0.6h-0.6zM331.0 71.2h0.6v0.6h-0.6zM338.7 68.8h0.6v0.6h-0.6zM317.3 62.4h0.6v0.6h-0.6zM318.7 66.7h0.6v0.6h-0.6zM324.5 63.7h0.6v0.6h-0.6zM332.6 68.2h0.6v0.6h-0.6zM335.9 68.4h0.6v0.6h-0.6zM326.2 62.6h0.6v0.6h-0.6z"/>
<path fill="rgb(144,144,144)" d="M328.5 66.9h0.6v0.6h-0.6zM340.0 66.1h0.6v0.6h-0.6zM309.0 66.8h0.6v0.6h-0.6zM337.9 76.4h0.6v0.6h-0.6zM325.9 62.1h0.6v0.6h-0.6zM332.0 67.8h0.6v0.6h-0.6zM336.0 60.7h0.6v0.6h-0.6zM333.3 67.5h0.6v0.6h-0.6zM328.6 65.7h0.6v0.6h-0.6zM325.5 72.5h0.6v0.6h-0.6zM315.4 64.2h0.6v0.6h-0.6zM329.2 67.8h0.6v0.6h-0.6zM339.4 75.3h0.6v0.6h-0.6zM327.3 62.1h0.6v0.6h-0.6zM335.2 64.6h0.6v0.6h-0.6zM343.5 65.0h0.6v0.6h-0.6zM311.0 65.0h0.6v0.6h-0.6zM332.3 68.9h0.6v0.6h-0.6zM331.9 64.6h0.6v0.6h-0.6zM316.8 62.2h0.6v0.6h-0.6zM322.8 62.7h0.6v0.6h-0.6zM308.1 65.8h0.6v0.6h-0.6zM325.9 73.3h0.6v0.6h-0.6zM327.6 66.8h0.6v0.6h-0.6zM316.3 64.4h0.6v0.6h-0.6zM321.5 56.1h0.6v0.6h-0.6zM332.5 59.1h0.6v0.6h-0.6zM325.5 57.2h0.6v0.6h-0.6zM325.1 60.9h0.6v0.6h-0.6zM321.5 67.6h0.6v0.6h-0.6zM337.4 62.0h0.6v0.6h-0.6zM323.1 60.4h0.6v0.6h-0.6zM325.1 62.4h0.6v0.6h-0.6zM332.7 62.8h0.6v0.6h-0.6zM318.8 64.1h0.6v0.6h-0.6zM320.5 67.0h0.6v0.6h-0.6zM330.3 67.0h0.6v0.6h-0.6zM331.6 64.1h0.6v0.6h-0.6zM313.5 71.4h0.6v0.6h-0.6zM334.8 76.5h0.6v0.6h-0.6zM322.5 61.3h0.6v0.6h-0.6zM327.6 65.6h0.6v0.6h-0.6zM324.9 60.9h0.6v0.6h-0.6zM321.3 64.6h0.6v0.6h-0.6zM328.9 70.8h0.6v0.6h-0.6zM319.0 64.8h0.6v0.6h-0.6zM327.1 64.2h0.6v0.6h-0.6z"/>
<path fill="rgb(156,156,156)" d="M330.2 65.0h0.6v0.6h-0.6zM327.5 73.6h0.6v0.6h-0.6zM318.0 56.4h0.6v0.6h-0.6zM339.6 62.5h0.6v0.6h-0.6zM339.6 57.7h0.6v0.6h-0.6zM329.8 63.9h0.6v0.6h-0.6zM325.0 63.0h0.6v0.6h-0.6zM328.0 64.5h0.6v0.6h-0.6zM316.1 60.4h0.6v0.6h-0.6zM319.1 59.7h0.6v0.6h-0.6zM333.2 66.6h0.6v0.6h-0.6zM321.6 63.0h0.6v0.6h-0.6zM332.4 66.2h0.6v0.6h-0.6zM321.7 67.7h0.6v0.6h-0.6zM326.4 59.0h0.6v0.6h-0.6zM327.7 64.9h0.6v0.6h-0.6zM331.9 66.6h0.6v0.6h-0.6zM333.5 63.1h0.6v0.6h-0.6zM328.4 63.4h0.6v0.6h-0.6zM323.6 65.9h0.6v0.6h-0.6zM333.7 68.1h0.6v0.6h-0.6zM317.9 63.9h0.6v0.6h-0.6zM332.3 65.8h0.6v0.6h-0.6zM333.7 60.9h0.6v0.6h-0.6zM315.7 71.1h0.6v0.6h-0.6zM309.8 72.7h0.6v0.6h-0.6zM322.3 69.6h0.6v0.6h-0.6zM322.9 65.3h0.6v0.6h-0.6zM307.3 68.6h0.6v0.6h-0.6zM310.0 63.4h0.6v0.6h-0.6zM318.9 64.4h0.6v0.6h-0.6zM330.0 62.5h0.6v0.6h-0.6zM327.9 60.3h0.6v0.6h-0.6zM328.0 60.4h0.6v0.6h-0.6zM329.3 70.2h0.6v0.6h-0.6zM323.9 69.6h0.6v0.6h-0.6z"/>
<path fill="rgb(168,168,168)" d="M330.7 69.6h0.6v0.6h-0.6zM310.3 62.5h0.6v0.6h-0.6zM316.2 72.2h0.6v0.6h-0.6zM318.7 65.2h0.6v0.6h-0.6zM327.7 65.9h0.6v0.6h-0.6zM311.6 66.4h0.6v0.6h-0.6zM315.5 67.2h0.6v0.6h-0.6zM334.9 63.3h0.6v0.6h-0.6zM310.2 61.4h0.6v0.6h-0.6zM330.5 64.3h0.6v0.6h-0.6zM322.1 63.1h0.6v0.6h-0.6zM319.1 74.0h0.6v0.6h-0.6zM321.8 66.5h0.6v0.6h-0.6zM316.3 64.6h0.6v0.6h-0.6zM329.6 69.1h0.6v0.6h-0.6zM334.4 69.2h0.6v0.6h-0.6zM331.1 65.6h0.6v0.6h-0.6zM333.7 64.5h0.6v0.6h-0.6zM322.5 67.1h0.6v0.6h-0.6zM328.9 64.7h0.6v0.6h-0.6zM331.0 67.8h0.6v0.6h-0.6zM325.6 68.5h0.6v0.6h-0.6zM344.2 62.7h0.6v0.6h-0.6zM336.1 67.1h0.6v0.6h-0.6zM339.9 64.9h0.6v0.6h-0.6zM322.0 58.4h0.6v0.6h-0.6zM329.5 64.7h0.6v0.6h-0.6zM327.2 63.6h0.6v0.6h-0.6zM321.2 65.6h0.6v0.6h-0.6zM329.9 68.1h0.6v0.6h-0.6zM315.4 67.2h0.6v0.6h-0.6zM331.3 61.8h0.6v0.6h-0.6zM322.1 67.7h0.6v0.6h-0.6zM322.5 62.0h0.6v0.6h-0.6zM331.1 70.0h0.6v0.6h-0.6zM322.7 67.9h0.6v0.6h-0.6zM326.6 64.6h0.6v0.6h-0.6zM335.5 58.8h0.6v0.6h-0.6zM322.2 67.9h0.6v0.6h-0.6zM323.5 57.7h0.6v0.6h-0.6zM327.4 66.6h0.6v0.6h-0.6zM321.3 66.4h0.6v0.6h-0.6zM317.8 63.8h0.6v0.6h-0.6zM333.7 66.0h0.6v0.6h-0.6zM319.0 64.7h0.6v0.6h-0.6zM318.8 69.4h0.6v0.6h-0.6zM325.8 69.8h0.6v0.6h-0.6zM313.6 72.3h0.6v0.6h-0.6zM322.4 61.9h0.6v0.6h-0.6zM314.9 62.0h0.6v0.6h-0.6zM331.3 62.4h0.6v0.6h-0.6zM318.4 70.9h0.6v0.6h-0.6zM323.0 61.4h0.6v0.6h-0.6zM332.3 66.7h0.6v0.6h-0.6zM309.6 77.1h0.6v0.6h-0.6zM329.5 71.8h0.6v0.6h-0.6zM333.4 65.7h0.6v0.6h-0.6zM324.6 66.1h0.6v0.6h-0.6z"/>
<path fill="rgb(180,180,180)" d="M330.7 67.0h0.6v0.6h-0.6zM310.5 62.6h0.6v0.6h-0.6zM337.7 68.8h0.6v0.6h-0.6zM316.8 65.8h0.6v0.6h-0.6zM325.3 59.7h0.6v0.6h-0.6zM314.5 63.5h0.6v0.6h-0.6zM331.3 71.5h0.6v0.6h-0.6zM327.4 58.5h0.6v0.6h-0.6zM327.4 69.2h0.6v0.6h-0.6zM321.0 62.3h0.6v0.6h-0.6zM328.4 68.0h0.6v0.6h-0.6zM318.5 68.8h0.6v0.6h-0.6zM327.2 60.5h0.6v0.6h-0.6zM320.1 61.5h0.6v0.6h-0.6zM338.4 60.9h0.6v0.6h-0.6zM333.1 59.0h0.6v0.6h-0.6zM322.3 74.0h0.6v0.6h-0.6zM324.3 64.1h0.6v0.6h-0.6zM332.7 69.1h0.6v0.6h-0.6zM307.1 60.1h0.6v0.6h-0.6zM338.8 64.4h0.6v0.6h-0.6zM330.5 68.2h0.6v0.6h-0.6zM327.8 65.9h0.6v0.6h-0.6zM309.0 75.3h0.6v0.6h-0.6zM330.8 60.6h0.6v0.6h-0.6zM309.0 68.9h0.6v0.6h-0.6zM326.9 63.6h0.6v0.6h-0.6zM323.9 64.4h0.6v0.6h-0.6zM324.9 67.8h0.6v0.6h-0.6zM342.3 60.9h0.6v0.6h-0.6zM319.9 56.0h0.6v0.6h-0.6zM325.7 68.1h0.6v0.6h-0.6zM331.4 65.4h0.6v0.6h-0.6zM304.9 66.1h0.6v0.6h-0.6zM310.8 60.4h0.6v0.6h-0.6zM326.4 69.1h0.6v0.6h-0.6zM331.1 63.2h0.6v0.6h-0.6zM308.7 68.6h0.6v0.6h-0.6zM319.4 73.6h0.6v0.6h-0.6zM330.1 66.0h0.6v0.6h-0.6zM321.9 69.8h0.6v0.6h-0.6zM319.2 71.8h0.6v0.6h-0.6zM321.6 67.3h0.6v0.6h-0.6zM326.6 72.3h0.6v0.6h-0.6zM314.6 62.1h0.6v0.6h-0.6zM303.3 70.1h0.6v0.6h-0.6zM327.7 64.1h0.6v0.6h-0.6zM337.2 67.2h0.6v0.6h-0.6zM326.7 76.4h0.6v0.6h-0.6zM320.3 66.5h0.6v0.6h-0.6zM340.3 64.1h0.6v0.6h-0.6zM325.2 69.4h0.6v0.6h-0.6zM318.7 65.8h0.6v0.6h-0.6zM332.9 70.3h0.6v0.6h-0.6zM317.7 62.5h0.6v0.6h-0.6zM321.7 62.3h0.6v0.6h-0.6z"/>
<path fill="rgb(192,192,192)" d="M335.7 64.9h0.6v0.6h-0.6zM324.4 64.5h0.6v0.6h-0.6zM334.5 65.9h0.6v0.6h-0.6zM311.7 72.5h0.6v0.6h-0.6zM330.6 68.1h0.6v0.6h-0.6zM319.1 65.4h0.6v0.6h-0.6zM340.2 75.8h0.6v0.6h-0.6zM329.8 59.3h0.6v0.6h-0.6zM318.0 64.2h0.6v0.6h-0.6zM323.0 72.3h0.6v0.6h-0.6zM321.5 69.6h0.6v0.6h-0.6zM330.8 66.8h0.6v0.6h-0.6zM316.0 64.3h0.6v0.6h-0.6zM325.8 63.8h0.6v0.6h-0.6zM329.8 64.7h0.6v0.6h-0.6zM320.5 62.7h0.6v0.6h-0.6zM326.6 55.5h0.6v0.6h-0.6zM320.5 62.5h0.6v0.6h-0.6zM334.4 59.5h0.6v0.6h-0.6zM321.7 61.9h0.6v0.6h-0.6zM323.9 64.8h0.6v0.6h-0.6zM336.0 62.4h0.6v0.6h-0.6zM323.2 65.7h0.6v0.6h-0.6zM320.3 64.0h0.6v0.6h-0.6zM322.6 66.6h0.6v0.6h-0.6zM310.0 61.2h0.6v0.6h-0.6zM334.7 65.2h0.6v0.6h-0.6zM327.5 64.8h0.6v0.6h-0.6zM315.3 72.2h0.6v0.6h-0.6zM308.7 70.1h0.6v0.6h-0.6zM339.2 55.3h0.6v0.6h-0.6zM331.1 69.8h0.6v0.6h-0.6zM326.2 68.8h0.6v0.6h-0.6zM331.6 63.3h0.6v0.6h-0.6zM317.3 71.5h0.6v0.6h-0.6zM339.3 64.0h0.6v0.6h-0.6zM326.5 66.1h0.6v0.6h-0.6zM320.4 66.3h0.6v0.6h-0.6zM321.8 65.3h0.6v0.6h-0.6zM338.8 69.1h0.6v0.6h-0.6zM329.3 61.9h0.6v0.6h-0.6zM314.0 62.3h0.6v0.6h-0.6zM315.9 68.4h0.6v0.6h-0.6zM321.0 70.3h0.6v0.6h-0.6zM319.7 65.4h0.6v0.6h-0.6zM317.6 58.8h0.6v0.6h-0.6zM313.5 62.6h0.6v0.6h-0.6zM325.6 66.1h0.6v0.6h-0.6zM318.7 64.0h0.6v0.6h-0.6zM311.0 72.5h0.6v0.6h-0.6zM337.5 55.8h0.6v0.6h-0.6zM318.9 63.5h0.6v0.6h-0.6zM318.5 63.6h0.6v0.6h-0.6zM302.5 67.3h0.6v0.6h-0.6zM312.9 62.4h0.6v0.6h-0.6zM327.9 71.8h0.6v0.6h-0.6zM295.1 65.9h0.6v0.6h-0.6zM336.7 66.1h0.6v0.6h-0.6zM324.4 61.5h0.6v0.6h-0.6zM318.8 69.5h0.6v0.6h-0.6zM320.5 69.8h0.6v0.6h-0.6zM314.1 59.2h0.6v0.6h-0.6zM326.6 66.2h0.6v0.6h-0.6zM322.2 62.8h0.6v0.6h-0.6z"/>
<path fill="rgb(204,204,204)" d="M333.9 61.0h0.6v0.6h-0.6zM325.2 65.1h0.6v0.6h-0.6z"/>
<path fill="rgb(144,144,144)" d="M300.9 60.0h0.6v0.6h-0.6zM328.8 62.2h0.6v0.6h-0.6zM313.6 56.5h0.6v0.6h-0.6zM332.4 58.6h0.6v0.6h-0.6zM310.6 55.4h0.6v0.6h-0.6zM323.7 59.4h0.6v0.6h-0.6zM314.3 61.0h0.6v0.6h-0.6zM329.0 55.3h0.6v0.6h-0.6zM307.4 57.1h0.6v0.6h-0.6zM320.3 58.2h0.6v0.6h-0.6z"/>
<path fill="rgb(156,156,156)" d="M326.3 60.0h0.6v0.6h-0.6zM310.8 56.2h0.6v0.6h-0.6zM309.8 53.4h0.6v0.6h-0.6zM307.0 56.9h0.6v0.6h-0.6zM299.6 55.8h0.6v0.6h-0.6zM320.6 62.5h0.6v0.6h-0.6zM336.1 56.7h0.6v0.6h-0.6zM318.1 56.1h0.6v0.6h-0.6zM312.9 58.3h0.6v0.6h-0.6zM325.3 52.2h0.6v0.6h-0.6zM301.9 60.1h0.6v0.6h-0.6zM292.5 54.5h0.6v0.6h-0.6zM309.7 56.6h0.6v0.6h-0.6zM313.7 55.0h0.6v0.6h-0.6zM323.2 55.8h0.6v0.6h-0.6zM326.4 55.8h0.6v0.6h-0.6zM317.5 52.4h0.6v0.6h-0.6z"/>
<path fill="rgb(168,168,168)" d="M328.8 51.6h0.6v0.6h-0.6zM331.9 56.9h0.6v0.6h-0.6zM308.6 60.0h0.6v0.6h-0.6zM297.4 54.0h0.6v0.6h-0.6zM309.0 59.7h0.6v0.6h-0.6zM317.1 51.8h0.6v0.6h-0.6zM333.6 55.1h0.6v0.6h-0.6zM315.0 58.6h0.6v0.6h-0.6zM317.1 58.4h0.6v0.6h-0.6zM314.1 53.8h0.6v0.6h-0.6zM310.1 53.5h0.6v0.6h-0.6zM307.6 54.5h0.6v0.6h-0.6zM312.6 51.8h0.6v0.6h-0.6zM331.5 53.8h0.6v0.6h-0.6zM316.9 57.4h0.6v0.6h-0.6zM320.9 55.9h0.6v0.6h-0.6z"/>
<path fill="rgb(180,180,180)" d="M326.9 59.4h0.6v0.6h-0.6zM341.2 50.5h0.6v0.6h-0.6zM314.1 55.9h0.6v0.6h-0.6zM308.6 54.5h0.6v0.6h-0.6zM325.0 54.8h0.6v0.6h-0.6zM306.3 57.5h0.6v0.6h-0.6zM316.6 56.8h0.6v0.6h-0.6zM314.1 55.1h0.6v0.6h-0.6zM319.2 59.2h0.6v0.6h-0.6zM326.2 53.5h0.6v0.6h-0.6zM322.2 57.3h0.6v0.6h-0.6zM330.2 53.3h0.6v0.6h-0.6zM313.5 55.2h0.6v0.6h-0.6zM301.6 54.2h0.6v0.6h-0.6zM315.4 58.3h0.6v0.6h-0.6zM314.8 53.3h0.6v0.6h-0.6zM331.5 56.5h0.6v0.6h-0.6zM308.7 56.8h0.6v0.6h-0.6zM303.2 59.9h0.6v0.6h-0.6zM329.9 57.0h0.6v0.6h-0.6zM310.4 53.8h0.6v0.6h-0.6z"/>
<path fill="rgb(192,192,192)" d="M316.8 54.2h0.6v0.6h-0.6zM314.7 52.8h0.6v0.6h-0.6zM329.6 55.4h0.6v0.6h-0.6zM299.8 59.6h0.6v0.6h-0.6zM319.9 51.1h0.6v0.6h-0.6zM309.6 61.7h0.6v0.6h-0.6zM337.1 52.7h0.6v0.6h-0.6zM317.5 57.5h0.6v0.6h-0.6zM317.6 54.5h0.6v0.6h-0.6zM330.9 57.1h0.6v0.6h-0.6zM320.3 55.0h0.6v0.6h-0.6zM312.8 54.4h0.6v0.6h-0.6zM309.6 58.4h0.6v0.6h-0.6zM313.8 57.3h0.6v0.6h-0.6zM339.4 52.9h0.6v0.6h-0.6zM311.2 58.5h0.6v0.6h-0.6zM319.1 60.6h0.6v0.6h-0.6zM316.4 59.1h0.6v0.6h-0.6zM306.6 53.6h0.6v0.6h-0.6zM304.3 56.4h0.6v0.6h-0.6zM332.0 56.7h0.6v0.6h-0.6zM308.7 56.2h0.6v0.6h-0.6zM300.4 54.0h0.6v0.6h-0.6zM346.4 55.3h0.6v0.6h-0.6zM315.8 51.4h0.6v0.6h-0.6zM314.6 56.4h0.6v0.6h-0.6z"/>
<path fill="rgb(204,204,204)" d="M317.9 56.2h0.6v0.6h-0.6zM311.3 61.9h0.6v0.6h-0.6zM327.3 56.8h0.6v0.6h-0.6zM312.8 56.1h0.6v0.6h-0.6zM303.1 53.4h0.6v0.6h-0.6zM316.5 56.9h0.6v0.6h-0.6zM316.0 55.7h0.6v0.6h-0.6zM325.0 57.4h0.6v0.6h-0.6zM318.6 54.3h0.6v0.6h-0.6zM318.8 54.0h0.6v0.6h-0.6zM302.5 57.6h0.6v0.6h-0.6zM317.9 60.6h0.6v0.6h-0.6zM319.9 61.9h0.6v0.6h-0.6zM304.6 50.6h0.6v0.6h-0.6zM295.4 52.1h0.6v0.6h-0.6zM343.0 58.6h0.6v0.6h-0.6zM324.7 52.7h0.6v0.6h-0.6zM306.2 50.5h0.6v0.6h-0.6zM323.0 57.3h0.6v0.6h-0.6zM324.0 59.2h0.6v0.6h-0.6zM337.2 60.2h0.6v0.6h-0.6zM313.5 54.8h0.6v0.6h-0.6zM304.2 59.9h0.6v0.6h-0.6zM326.1 53.8h0.6v0.6h-0.6zM331.9 58.6h0.6v0.6h-0.6zM307.9 62.6h0.6v0.6h-0.6zM323.1 59.8h0.6v0.6h-0.6zM320.7 59.7h0.6v0.6h-0.6zM317.4 63.9h0.6v0.6h-0.6z"/>
<path fill="rgb(144,144,144)" d="M328.5 91.8h0.6v0.6h-0.6zM327.9 69.8h0.6v0.6h-0.6zM303.8 83.4h0.6v0.6h-0.6zM292.5 65.7h0.6v0.6h-0.6zM332.4 92.2h0.6v0.6h-0.6zM332.8 79.6h0.6v0.6h-0.6zM332.0 63.9h0.6v0.6h-0.6zM299.0 83.5h0.6v0.6h-0.6zM326.3 81.9h0.6v0.6h-0.6zM329.6 99.4h0.6v0.6h-0.6z"/>
<path fill="rgb(156,156,156)" d="M329.5 58.2h0.6v0.6h-0.6zM346.3 77.5h0.6v0.6h-0.6zM314.3 68.1h0.6v0.6h-0.6zM332.1 94.4h0.6v0.6h-0.6zM322.3 85.9h0.6v0.6h-0.6zM342.3 68.9h0.6v0.6h-0.6zM342.5 83.4h0.6v0.6h-0.6zM308.7 80.6h0.6v0.6h-0.6zM317.1 91.3h0.6v0.6h-0.6zM339.7 92.0h0.6v0.6h-0.6zM317.7 78.2h0.6v0.6h-0.6zM346.2 87.7h0.6v0.6h-0.6zM313.2 88.3h0.6v0.6h-0.6zM302.8 62.0h0.6v0.6h-0.6zM340.6 91.0h0.6v0.6h-0.6zM326.3 95.7h0.6v0.6h-0.6zM341.0 87.0h0.6v0.6h-0.6zM315.8 84.0h0.6v0.6h-0.6zM334.7 72.1h0.6v0.6h-0.6zM290.3 86.2h0.6v0.6h-0.6zM320.5 58.5h0.6v0.6h-0.6zM328.1 81.7h0.6v0.6h-0.6zM313.6 52.5h0.6v0.6h-0.6zM312.6 94.7h0.6v0.6h-0.6zM334.5 86.3h0.6v0.6h-0.6zM322.1 78.4h0.6v0.6h-0.6zM342.7 73.0h0.6v0.6h-0.6zM314.9 66.2h0.6v0.6h-0.6zM346.2 89.2h0.6v0.6h-0.6zM337.9 78.9h0.6v0.6h-0.6zM312.3 48.7h0.6v0.6h-0.6z"/>
<path fill="rgb(168,168,168)" d="M335.6 61.5h0.6v0.6h-0.6zM332.7 67.6h0.6v0.6h-0.6zM311.3 91.1h0.6v0.6h-0.6zM297.8 51.8h0.6v0.6h-0.6zM314.2 92.8h0.6v0.6h-0.6zM320.4 90.2h0.6v0.6h-0.6zM319.1 86.5h0.6v0.6h-0.6zM322.3 61.7h0.6v0.6h-0.6zM315.9 75.5h0.6v0.6h-0.6zM327.3 100.6h0.6v0.6h-0.6zM341.5 70.3h0.6v0.6h-0.6zM306.3 78.5h0.6v0.6h-0.6zM317.9 71.8h0.6v0.6h-0.6zM318.7 72.7h0.6v0.6h-0.6zM333.2 50.0h0.6v0.6h-0.6zM311.2 65.0h0.6v0.6h-0.6zM308.5 85.3h0.6v0.6h-0.6zM322.0 61.6h0.6v0.6h-0.6zM339.9 91.6h0.6v0.6h-0.6zM326.1 97.7h0.6v0.6h-0.6zM311.7 79.2h0.6v0.6h-0.6zM307.1 78.6h0.6v0.6h-0.6zM321.2 75.1h0.6v0.6h-0.6zM327.3 75.5h0.6v0.6h-0.6zM312.9 86.9h0.6v0.6h-0.6zM302.1 77.2h0.6v0.6h-0.6zM334.5 61.8h0.6v0.6h-0.6zM322.7 64.2h0.6v0.6h-0.6zM331.5 64.8h0.6v0.6h-0.6zM313.6 55.1h0.6v0.6h-0.6z"/>
<path fill="rgb(180,180,180)" d="M321.3 52.5h0.6v0.6h-0.6zM295.3 59.6h0.6v0.6h-0.6zM324.8 73.9h0.6v0.6h-0.6zM305.7 67.2h0.6v0.6h-0.6zM321.5 50.9h0.6v0.6h-0.6zM327.2 65.0h0.6v0.6h-0.6zM324.4 95.1h0.6v0.6h-0.6zM323.2 81.5h0.6v0.6h-0.6zM341.0 51.2h0.6v0.6h-0.6zM292.6 83.2h0.6v0.6h-0.6zM316.5 77.3h0.6v0.6h-0.6zM310.7 90.4h0.6v0.6h-0.6zM318.9 72.3h0.6v0.6h-0.6zM340.5 96.2h0.6v0.6h-0.6zM291.1 71.4h0.6v0.6h-0.6zM324.1 85.2h0.6v0.6h-0.6zM306.1 61.9h0.6v0.6h-0.6zM340.0 92.0h0.6v0.6h-0.6zM345.4 72.5h0.6v0.6h-0.6zM319.0 103.0h0.6v0.6h-0.6zM326.1 76.4h0.6v0.6h-0.6zM333.8 82.2h0.6v0.6h-0.6zM317.6 78.2h0.6v0.6h-0.6zM324.7 60.6h0.6v0.6h-0.6zM305.5 83.3h0.6v0.6h-0.6zM331.0 64.2h0.6v0.6h-0.6zM337.0 88.4h0.6v0.6h-0.6z"/>
<path fill="rgb(192,192,192)" d="M336.2 57.5h0.6v0.6h-0.6zM308.9 83.6h0.6v0.6h-0.6zM308.5 86.5h0.6v0.6h-0.6zM329.0 95.5h0.6v0.6h-0.6zM342.0 67.8h0.6v0.6h-0.6zM311.7 71.3h0.6v0.6h-0.6zM338.0 87.4h0.6v0.6h-0.6zM316.1 90.4h0.6v0.6h-0.6zM299.5 80.5h0.6v0.6h-0.6zM322.6 78.3h0.6v0.6h-0.6zM298.5 79.6h0.6v0.6h-0.6zM310.0 100.6h0.6v0.6h-0.6zM298.7 59.2h0.6v0.6h-0.6zM333.3 79.6h0.6v0.6h-0.6zM301.3 79.8h0.6v0.6h-0.6zM340.1 95.3h0.6v0.6h-0.6zM327.5 79.1h0.6v0.6h-0.6zM320.3 83.6h0.6v0.6h-0.6zM327.2 53.7h0.6v0.6h-0.6zM326.0 78.8h0.6v0.6h-0.6zM305.5 49.4h0.6v0.6h-0.6z"/>
<path fill="rgb(204,204,204)" d="M318.3 76.8h0.6v0.6h-0.6zM325.3 66.2h0.6v0.6h-0.6zM333.9 100.2h0.6v0.6h-0.6zM326.7 78.6h0.6v0.6h-0.6zM313.8 74.1h0.6v0.6h-0.6zM323.4 68.7h0.6v0.6h-0.6zM324.9 59.9h0.6v0.6h-0.6zM306.1 98.4h0.6v0.6h-0.6zM299.3 78.3h0.6v0.6h-0.6zM317.8 85.4h0.6v0.6h-0.6zM322.4 74.5h0.6v0.6h-0.6zM329.0 56.1h0.6v0.6h-0.6zM332.7 52.0h0.6v0.6h-0.6zM315.6 54.9h0.6v0.6h-0.6zM340.1 69.0h0.6v0.6h-0.6zM326.1 94.5h0.6v0.6h-0.6zM307.1 78.9h0.6v0.6h-0.6zM331.0 77.1h0.6v0.6h-0.6zM331.3 87.1h0.6v0.6h-0.6zM337.5 68.0h0.6v0.6h-0.6zM336.5 82.2h0.6v0.6h-0.6z"/>
<path d="M 305.50,66.70 C 308.00,63.90 315.00,64.40 322.00,64.40 C 329.00,64.40 334.00,65.50 334.00,67.50 C 334.00,69.80 328.00,71.20 320.00,71.60 C 316.00,71.80 313.50,72.30 312.00,74.50 L 305.00,70.00 Z" fill="#fbfbfb" stroke="#111" stroke-width="2.1" stroke-linejoin="round" stroke-linecap="round"/>
<path d="M 312.30,68.40 C 318.00,67.70 326.00,67.50 330.30,67.90" fill="none" stroke="#141414" stroke-width="1.6" stroke-linejoin="round" stroke-linecap="round"/>
<path d="M 306.70,66.10 C 308.70,64.70 311.70,64.90 313.70,65.70" fill="none" stroke="#111" stroke-width="1.8" stroke-linejoin="round" stroke-linecap="round"/>
<path d="M307.10,64.50 C310.70,64.50 311.50,70.50 311.10,78.00 C310.70,80.00 311.00,84.00 310.80,90.00 C310.60,97.50 309.10,99.50 307.10,99.50 C305.10,99.50 303.40,97.50 303.30,90.00 C303.20,84.00 303.60,80.00 303.20,78.00 C302.70,70.50 303.50,64.50 307.10,64.50 Z" fill="#b5b5b5" stroke="#111" stroke-width="1.3" stroke-linejoin="round" stroke-linecap="round"/>
<ellipse cx="307.20" cy="72.10" rx="2.60" ry="5.60" fill="#a8a8a8" stroke="#2a2a2a" stroke-width="0.7"/>
<ellipse cx="307.00" cy="72.70" rx="1.60" ry="3.10" fill="#d8d8d8" stroke="#333" stroke-width="0.6"/>
<ellipse cx="306.90" cy="73.00" rx="1.10" ry="1.70" fill="#111"/>
<ellipse cx="307.10" cy="88.70" rx="2.80" ry="9.80" fill="#262626" stroke="#111" stroke-width="0.9"/>
<ellipse cx="307.10" cy="88.40" rx="1.20" ry="7.60" fill="#6a6a6a" stroke="#151515" stroke-width="0.6"/>
<ellipse cx="307.20" cy="88.20" rx="0.40" ry="5.60" fill="#1a1a1a"/>
</g>
<g clip-path="url(#c287112)">
<rect x="300.30" y="124.30" width="12.00" height="19.80" fill="none" stroke="#8c8c8c" stroke-width="0.7"/>
<rect x="312.30" y="124.30" width="25.30" height="17.20" fill="none" stroke="#8c8c8c" stroke-width="0.7"/>
<ellipse cx="317.70" cy="154.50" rx="10.00" ry="14.00" fill="url(#hz5)"/>
<ellipse cx="322.70" cy="156.50" rx="17.00" ry="16.00" fill="url(#hz6)"/>
<ellipse cx="324.70" cy="132.50" rx="14.00" ry="7.00" fill="url(#hz7)"/>
<ellipse cx="315.70" cy="142.50" rx="26.00" ry="26.00" fill="url(#hz8)"/>
<path fill="rgb(84,84,84)" d="M314.3 153.1h0.6v0.6h-0.6zM315.3 140.3h0.6v0.6h-0.6zM324.4 164.1h0.6v0.6h-0.6zM323.4 155.1h0.6v0.6h-0.6zM311.5 150.5h0.6v0.6h-0.6zM316.8 131.3h0.6v0.6h-0.6zM308.5 153.9h0.6v0.6h-0.6zM325.9 157.6h0.6v0.6h-0.6zM306.7 154.1h0.6v0.6h-0.6zM313.9 154.3h0.6v0.6h-0.6zM316.1 151.7h0.6v0.6h-0.6zM315.3 154.0h0.6v0.6h-0.6zM307.5 157.0h0.6v0.6h-0.6zM316.1 144.8h0.6v0.6h-0.6zM317.9 168.0h0.6v0.6h-0.6zM309.8 162.4h0.6v0.6h-0.6zM321.7 144.2h0.6v0.6h-0.6zM310.3 154.8h0.6v0.6h-0.6zM318.6 161.3h0.6v0.6h-0.6zM321.6 167.2h0.6v0.6h-0.6zM318.4 136.8h0.6v0.6h-0.6zM313.9 153.4h0.6v0.6h-0.6zM319.6 144.8h0.6v0.6h-0.6zM316.6 149.6h0.6v0.6h-0.6zM321.1 158.6h0.6v0.6h-0.6zM311.7 144.2h0.6v0.6h-0.6zM321.2 163.9h0.6v0.6h-0.6zM305.6 158.6h0.6v0.6h-0.6zM316.4 165.7h0.6v0.6h-0.6zM318.6 165.6h0.6v0.6h-0.6zM319.4 147.4h0.6v0.6h-0.6zM316.1 151.6h0.6v0.6h-0.6zM312.4 145.2h0.6v0.6h-0.6zM317.9 150.8h0.6v0.6h-0.6zM317.7 144.3h0.6v0.6h-0.6zM307.9 152.2h0.6v0.6h-0.6zM319.3 169.8h0.6v0.6h-0.6zM316.1 162.3h0.6v0.6h-0.6zM321.9 154.5h0.6v0.6h-0.6zM321.5 143.9h0.6v0.6h-0.6zM306.4 150.1h0.6v0.6h-0.6zM318.5 150.3h0.6v0.6h-0.6zM311.2 155.2h0.6v0.6h-0.6zM312.0 151.6h0.6v0.6h-0.6zM319.0 149.6h0.6v0.6h-0.6zM316.5 162.1h0.6v0.6h-0.6zM314.5 157.7h0.6v0.6h-0.6zM311.2 147.6h0.6v0.6h-0.6zM317.7 157.5h0.6v0.6h-0.6zM319.9 154.0h0.6v0.6h-0.6zM312.1 157.3h0.6v0.6h-0.6zM312.6 162.2h0.6v0.6h-0.6zM316.0 165.3h0.6v0.6h-0.6zM319.5 162.6h0.6v0.6h-0.6z"/>
<path fill="rgb(96,96,96)" d="M306.2 152.6h0.6v0.6h-0.6zM313.3 148.6h0.6v0.6h-0.6zM316.7 135.4h0.6v0.6h-0.6zM319.2 139.1h0.6v0.6h-0.6zM314.9 138.9h0.6v0.6h-0.6zM311.3 151.6h0.6v0.6h-0.6zM318.2 137.8h0.6v0.6h-0.6zM318.5 148.2h0.6v0.6h-0.6zM319.1 153.5h0.6v0.6h-0.6zM314.4 153.2h0.6v0.6h-0.6zM312.2 154.5h0.6v0.6h-0.6zM326.7 151.6h0.6v0.6h-0.6zM313.7 154.9h0.6v0.6h-0.6zM315.7 144.1h0.6v0.6h-0.6zM312.6 156.9h0.6v0.6h-0.6zM313.8 166.6h0.6v0.6h-0.6zM316.5 140.4h0.6v0.6h-0.6zM319.1 159.7h0.6v0.6h-0.6zM312.8 142.7h0.6v0.6h-0.6zM308.7 163.0h0.6v0.6h-0.6zM311.9 156.3h0.6v0.6h-0.6zM314.1 150.1h0.6v0.6h-0.6zM317.2 154.8h0.6v0.6h-0.6zM321.8 162.1h0.6v0.6h-0.6zM320.1 156.1h0.6v0.6h-0.6zM304.4 155.6h0.6v0.6h-0.6zM320.2 148.8h0.6v0.6h-0.6zM311.5 148.9h0.6v0.6h-0.6zM315.3 155.1h0.6v0.6h-0.6zM312.8 135.8h0.6v0.6h-0.6zM322.8 151.8h0.6v0.6h-0.6zM321.0 153.7h0.6v0.6h-0.6zM323.0 155.8h0.6v0.6h-0.6zM316.7 142.9h0.6v0.6h-0.6zM309.8 148.5h0.6v0.6h-0.6zM313.3 155.0h0.6v0.6h-0.6zM311.9 163.9h0.6v0.6h-0.6zM317.9 153.1h0.6v0.6h-0.6zM306.3 143.4h0.6v0.6h-0.6zM313.2 149.0h0.6v0.6h-0.6zM309.2 155.9h0.6v0.6h-0.6zM321.9 153.9h0.6v0.6h-0.6zM318.4 140.5h0.6v0.6h-0.6zM312.6 147.5h0.6v0.6h-0.6zM318.2 155.5h0.6v0.6h-0.6zM316.8 159.1h0.6v0.6h-0.6zM309.5 150.0h0.6v0.6h-0.6zM322.0 152.6h0.6v0.6h-0.6zM307.6 152.2h0.6v0.6h-0.6zM313.4 144.8h0.6v0.6h-0.6zM315.2 160.4h0.6v0.6h-0.6zM316.8 160.3h0.6v0.6h-0.6zM320.9 148.2h0.6v0.6h-0.6zM311.8 152.3h0.6v0.6h-0.6zM321.9 151.3h0.6v0.6h-0.6zM315.1 152.2h0.6v0.6h-0.6zM308.9 150.1h0.6v0.6h-0.6zM314.1 143.8h0.6v0.6h-0.6zM319.2 156.2h0.6v0.6h-0.6zM315.5 148.5h0.6v0.6h-0.6zM318.8 168.2h0.6v0.6h-0.6zM311.6 151.6h0.6v0.6h-0.6zM310.5 154.6h0.6v0.6h-0.6zM319.1 156.3h0.6v0.6h-0.6zM319.3 159.5h0.6v0.6h-0.6zM319.3 136.1h0.6v0.6h-0.6zM325.1 166.8h0.6v0.6h-0.6zM322.1 148.9h0.6v0.6h-0.6zM314.1 162.4h0.6v0.6h-0.6zM316.0 155.8h0.6v0.6h-0.6zM317.4 161.3h0.6v0.6h-0.6zM305.4 145.9h0.6v0.6h-0.6zM315.2 150.8h0.6v0.6h-0.6zM312.4 156.5h0.6v0.6h-0.6zM316.4 145.5h0.6v0.6h-0.6zM305.6 151.2h0.6v0.6h-0.6zM319.3 156.4h0.6v0.6h-0.6zM317.6 129.8h0.6v0.6h-0.6zM324.8 151.1h0.6v0.6h-0.6zM320.0 135.0h0.6v0.6h-0.6zM317.1 155.1h0.6v0.6h-0.6zM312.7 154.4h0.6v0.6h-0.6zM318.9 155.2h0.6v0.6h-0.6zM321.7 152.5h0.6v0.6h-0.6zM326.2 161.6h0.6v0.6h-0.6zM315.5 162.1h0.6v0.6h-0.6zM308.6 162.5h0.6v0.6h-0.6zM315.8 146.7h0.6v0.6h-0.6zM320.6 137.9h0.6v0.6h-0.6zM325.2 159.6h0.6v0.6h-0.6zM311.5 160.2h0.6v0.6h-0.6zM315.0 138.9h0.6v0.6h-0.6zM322.5 169.5h0.6v0.6h-0.6zM304.6 151.7h0.6v0.6h-0.6zM312.2 145.1h0.6v0.6h-0.6zM318.9 151.4h0.6v0.6h-0.6zM308.8 158.9h0.6v0.6h-0.6zM311.1 154.1h0.6v0.6h-0.6zM315.7 154.8h0.6v0.6h-0.6zM309.7 151.0h0.6v0.6h-0.6zM312.6 149.3h0.6v0.6h-0.6zM315.5 161.4h0.6v0.6h-0.6zM310.7 156.5h0.6v0.6h-0.6zM315.6 165.8h0.6v0.6h-0.6zM317.1 136.4h0.6v0.6h-0.6zM319.0 153.1h0.6v0.6h-0.6zM317.8 158.4h0.6v0.6h-0.6z"/>
<path fill="rgb(108,108,108)" d="M316.8 161.1h0.6v0.6h-0.6zM314.6 151.9h0.6v0.6h-0.6zM308.7 139.8h0.6v0.6h-0.6zM312.2 146.4h0.6v0.6h-0.6zM318.7 143.5h0.6v0.6h-0.6zM306.9 156.7h0.6v0.6h-0.6zM311.7 140.6h0.6v0.6h-0.6zM316.3 153.7h0.6v0.6h-0.6zM310.5 154.9h0.6v0.6h-0.6zM315.6 146.7h0.6v0.6h-0.6zM320.7 141.3h0.6v0.6h-0.6zM313.6 149.8h0.6v0.6h-0.6zM311.0 143.2h0.6v0.6h-0.6zM313.7 160.4h0.6v0.6h-0.6zM323.6 144.1h0.6v0.6h-0.6zM319.2 155.8h0.6v0.6h-0.6zM320.9 136.0h0.6v0.6h-0.6zM317.6 153.5h0.6v0.6h-0.6zM321.0 164.6h0.6v0.6h-0.6zM320.4 147.7h0.6v0.6h-0.6zM317.3 154.3h0.6v0.6h-0.6zM313.3 115.5h0.6v0.6h-0.6zM322.1 142.4h0.6v0.6h-0.6zM310.8 146.6h0.6v0.6h-0.6zM318.5 147.1h0.6v0.6h-0.6zM316.9 154.8h0.6v0.6h-0.6zM318.8 161.5h0.6v0.6h-0.6zM309.6 167.8h0.6v0.6h-0.6zM321.5 156.7h0.6v0.6h-0.6zM317.6 160.2h0.6v0.6h-0.6zM307.0 155.5h0.6v0.6h-0.6zM303.9 146.8h0.6v0.6h-0.6zM309.6 154.8h0.6v0.6h-0.6zM318.9 133.6h0.6v0.6h-0.6zM321.2 161.2h0.6v0.6h-0.6zM314.3 166.6h0.6v0.6h-0.6zM314.4 157.0h0.6v0.6h-0.6zM312.5 148.6h0.6v0.6h-0.6zM307.7 156.8h0.6v0.6h-0.6zM309.3 137.6h0.6v0.6h-0.6zM316.7 153.7h0.6v0.6h-0.6zM315.9 155.2h0.6v0.6h-0.6zM329.5 153.4h0.6v0.6h-0.6zM317.5 149.9h0.6v0.6h-0.6zM314.7 136.2h0.6v0.6h-0.6zM312.7 142.2h0.6v0.6h-0.6zM315.4 119.3h0.6v0.6h-0.6zM318.1 162.6h0.6v0.6h-0.6zM323.8 157.7h0.6v0.6h-0.6zM314.3 156.7h0.6v0.6h-0.6zM306.6 147.9h0.6v0.6h-0.6zM310.3 156.1h0.6v0.6h-0.6zM319.1 144.4h0.6v0.6h-0.6zM318.6 150.9h0.6v0.6h-0.6zM321.0 168.3h0.6v0.6h-0.6zM314.5 137.1h0.6v0.6h-0.6zM309.0 142.0h0.6v0.6h-0.6zM313.9 145.6h0.6v0.6h-0.6zM309.6 151.1h0.6v0.6h-0.6zM315.6 158.2h0.6v0.6h-0.6zM320.6 158.2h0.6v0.6h-0.6zM315.1 151.9h0.6v0.6h-0.6zM316.5 139.7h0.6v0.6h-0.6zM317.8 147.4h0.6v0.6h-0.6zM311.6 165.9h0.6v0.6h-0.6zM313.4 151.3h0.6v0.6h-0.6zM313.7 147.8h0.6v0.6h-0.6zM313.3 155.1h0.6v0.6h-0.6zM317.8 158.6h0.6v0.6h-0.6zM319.2 154.5h0.6v0.6h-0.6zM318.5 136.0h0.6v0.6h-0.6zM324.4 158.4h0.6v0.6h-0.6zM311.2 138.3h0.6v0.6h-0.6zM310.8 151.3h0.6v0.6h-0.6zM323.1 143.4h0.6v0.6h-0.6zM309.9 158.8h0.6v0.6h-0.6zM316.4 143.1h0.6v0.6h-0.6zM319.7 150.2h0.6v0.6h-0.6zM313.2 163.4h0.6v0.6h-0.6zM307.5 160.8h0.6v0.6h-0.6zM321.9 145.0h0.6v0.6h-0.6zM322.0 157.4h0.6v0.6h-0.6zM312.1 163.8h0.6v0.6h-0.6zM317.6 138.9h0.6v0.6h-0.6zM319.9 157.6h0.6v0.6h-0.6zM313.9 161.4h0.6v0.6h-0.6zM318.6 145.9h0.6v0.6h-0.6zM322.1 156.7h0.6v0.6h-0.6zM309.9 149.9h0.6v0.6h-0.6zM321.9 170.2h0.6v0.6h-0.6zM326.9 152.8h0.6v0.6h-0.6zM325.2 152.6h0.6v0.6h-0.6zM325.3 152.0h0.6v0.6h-0.6zM315.7 167.6h0.6v0.6h-0.6zM319.0 145.7h0.6v0.6h-0.6z"/>
<path fill="rgb(120,120,120)" d="M317.5 160.8h0.6v0.6h-0.6zM312.2 148.4h0.6v0.6h-0.6zM312.4 155.9h0.6v0.6h-0.6zM317.8 156.1h0.6v0.6h-0.6zM313.7 156.0h0.6v0.6h-0.6zM323.3 153.0h0.6v0.6h-0.6zM318.3 145.7h0.6v0.6h-0.6zM317.8 160.9h0.6v0.6h-0.6zM316.5 148.9h0.6v0.6h-0.6zM307.0 150.4h0.6v0.6h-0.6zM318.4 153.1h0.6v0.6h-0.6zM315.9 155.3h0.6v0.6h-0.6zM309.6 163.9h0.6v0.6h-0.6zM324.0 144.1h0.6v0.6h-0.6zM321.8 156.1h0.6v0.6h-0.6zM313.7 144.1h0.6v0.6h-0.6zM318.2 151.1h0.6v0.6h-0.6zM320.5 152.7h0.6v0.6h-0.6zM313.0 158.4h0.6v0.6h-0.6zM315.3 153.3h0.6v0.6h-0.6zM316.2 152.3h0.6v0.6h-0.6zM321.3 138.9h0.6v0.6h-0.6zM316.7 158.1h0.6v0.6h-0.6zM316.0 158.9h0.6v0.6h-0.6zM321.2 154.9h0.6v0.6h-0.6zM308.0 138.6h0.6v0.6h-0.6zM310.4 148.7h0.6v0.6h-0.6zM322.7 157.2h0.6v0.6h-0.6zM314.7 155.3h0.6v0.6h-0.6zM318.0 151.9h0.6v0.6h-0.6zM316.8 152.7h0.6v0.6h-0.6zM321.6 137.7h0.6v0.6h-0.6zM316.1 164.7h0.6v0.6h-0.6zM319.6 152.7h0.6v0.6h-0.6zM313.3 144.3h0.6v0.6h-0.6zM325.9 155.5h0.6v0.6h-0.6zM312.2 149.3h0.6v0.6h-0.6zM310.5 141.5h0.6v0.6h-0.6zM315.8 149.2h0.6v0.6h-0.6zM317.7 169.4h0.6v0.6h-0.6zM310.6 160.1h0.6v0.6h-0.6zM317.8 144.8h0.6v0.6h-0.6zM315.0 167.9h0.6v0.6h-0.6zM320.0 155.1h0.6v0.6h-0.6zM321.1 155.0h0.6v0.6h-0.6zM315.4 156.7h0.6v0.6h-0.6zM316.9 161.9h0.6v0.6h-0.6zM319.2 163.9h0.6v0.6h-0.6zM319.6 157.4h0.6v0.6h-0.6zM319.3 166.8h0.6v0.6h-0.6zM313.4 158.1h0.6v0.6h-0.6zM317.8 162.8h0.6v0.6h-0.6zM311.2 160.6h0.6v0.6h-0.6zM314.3 148.7h0.6v0.6h-0.6zM317.1 153.9h0.6v0.6h-0.6zM315.3 140.4h0.6v0.6h-0.6zM313.6 156.3h0.6v0.6h-0.6zM312.7 160.5h0.6v0.6h-0.6zM320.5 140.6h0.6v0.6h-0.6zM308.4 149.0h0.6v0.6h-0.6zM321.1 153.3h0.6v0.6h-0.6zM324.2 157.3h0.6v0.6h-0.6zM319.8 154.3h0.6v0.6h-0.6zM318.8 141.6h0.6v0.6h-0.6zM326.3 157.1h0.6v0.6h-0.6zM323.5 152.2h0.6v0.6h-0.6zM314.0 158.9h0.6v0.6h-0.6zM310.0 156.0h0.6v0.6h-0.6zM320.1 132.2h0.6v0.6h-0.6zM324.0 162.1h0.6v0.6h-0.6zM314.5 164.6h0.6v0.6h-0.6zM317.0 146.9h0.6v0.6h-0.6zM312.1 162.0h0.6v0.6h-0.6zM320.6 158.4h0.6v0.6h-0.6zM315.9 161.3h0.6v0.6h-0.6zM313.8 164.5h0.6v0.6h-0.6zM311.1 141.2h0.6v0.6h-0.6zM318.8 165.0h0.6v0.6h-0.6zM319.7 156.5h0.6v0.6h-0.6zM312.5 155.1h0.6v0.6h-0.6zM318.8 140.5h0.6v0.6h-0.6zM318.9 158.5h0.6v0.6h-0.6zM310.4 152.2h0.6v0.6h-0.6zM311.9 151.4h0.6v0.6h-0.6zM315.6 163.4h0.6v0.6h-0.6zM318.4 150.3h0.6v0.6h-0.6zM309.9 154.1h0.6v0.6h-0.6zM316.4 153.7h0.6v0.6h-0.6zM312.4 151.5h0.6v0.6h-0.6zM311.6 144.7h0.6v0.6h-0.6zM327.6 152.8h0.6v0.6h-0.6zM316.6 146.4h0.6v0.6h-0.6zM306.6 147.3h0.6v0.6h-0.6zM320.2 152.0h0.6v0.6h-0.6zM320.1 153.8h0.6v0.6h-0.6zM314.9 170.2h0.6v0.6h-0.6zM320.0 157.5h0.6v0.6h-0.6zM318.8 162.2h0.6v0.6h-0.6zM315.5 156.4h0.6v0.6h-0.6zM319.3 162.8h0.6v0.6h-0.6zM323.2 151.2h0.6v0.6h-0.6zM326.8 145.0h0.6v0.6h-0.6zM317.5 147.6h0.6v0.6h-0.6zM316.3 130.1h0.6v0.6h-0.6zM313.4 155.2h0.6v0.6h-0.6zM321.6 156.9h0.6v0.6h-0.6zM308.0 158.5h0.6v0.6h-0.6zM314.5 157.7h0.6v0.6h-0.6zM317.3 152.3h0.6v0.6h-0.6zM316.4 151.4h0.6v0.6h-0.6zM318.7 155.6h0.6v0.6h-0.6zM314.6 165.2h0.6v0.6h-0.6zM312.8 151.1h0.6v0.6h-0.6zM317.0 161.0h0.6v0.6h-0.6zM316.8 154.5h0.6v0.6h-0.6z"/>
<path fill="rgb(132,132,132)" d="M316.9 153.7h0.6v0.6h-0.6zM325.0 138.2h0.6v0.6h-0.6zM309.0 147.0h0.6v0.6h-0.6zM317.2 139.5h0.6v0.6h-0.6zM324.2 165.4h0.6v0.6h-0.6zM313.8 154.8h0.6v0.6h-0.6zM315.1 162.3h0.6v0.6h-0.6zM322.3 138.9h0.6v0.6h-0.6zM324.2 144.7h0.6v0.6h-0.6zM311.5 137.6h0.6v0.6h-0.6zM313.2 124.9h0.6v0.6h-0.6zM312.8 164.3h0.6v0.6h-0.6zM313.7 142.3h0.6v0.6h-0.6zM314.0 154.0h0.6v0.6h-0.6zM316.2 147.5h0.6v0.6h-0.6zM313.1 143.7h0.6v0.6h-0.6zM315.3 147.6h0.6v0.6h-0.6zM313.1 164.3h0.6v0.6h-0.6zM310.4 165.0h0.6v0.6h-0.6zM310.6 141.4h0.6v0.6h-0.6zM312.3 153.4h0.6v0.6h-0.6zM315.6 166.3h0.6v0.6h-0.6zM319.3 154.7h0.6v0.6h-0.6zM319.2 166.7h0.6v0.6h-0.6zM321.9 158.7h0.6v0.6h-0.6zM316.5 153.0h0.6v0.6h-0.6zM310.1 150.2h0.6v0.6h-0.6zM313.6 147.6h0.6v0.6h-0.6zM321.1 166.8h0.6v0.6h-0.6zM314.9 153.2h0.6v0.6h-0.6zM315.4 148.9h0.6v0.6h-0.6zM307.9 162.2h0.6v0.6h-0.6zM318.1 143.2h0.6v0.6h-0.6zM320.0 153.0h0.6v0.6h-0.6zM314.6 155.4h0.6v0.6h-0.6zM325.0 146.7h0.6v0.6h-0.6zM314.6 149.4h0.6v0.6h-0.6zM319.8 166.3h0.6v0.6h-0.6zM314.7 156.9h0.6v0.6h-0.6zM314.9 165.6h0.6v0.6h-0.6zM318.0 165.3h0.6v0.6h-0.6zM318.1 142.5h0.6v0.6h-0.6zM306.9 143.1h0.6v0.6h-0.6zM322.4 144.6h0.6v0.6h-0.6zM318.6 146.6h0.6v0.6h-0.6zM316.9 148.0h0.6v0.6h-0.6zM315.5 158.5h0.6v0.6h-0.6zM319.5 141.0h0.6v0.6h-0.6zM314.0 157.6h0.6v0.6h-0.6zM305.6 158.0h0.6v0.6h-0.6zM308.6 146.3h0.6v0.6h-0.6zM319.8 149.1h0.6v0.6h-0.6zM314.2 160.3h0.6v0.6h-0.6zM326.4 146.7h0.6v0.6h-0.6zM323.7 143.2h0.6v0.6h-0.6zM309.7 164.7h0.6v0.6h-0.6zM305.4 149.5h0.6v0.6h-0.6zM307.0 153.5h0.6v0.6h-0.6zM315.4 155.0h0.6v0.6h-0.6zM311.1 152.5h0.6v0.6h-0.6zM313.8 163.1h0.6v0.6h-0.6zM320.4 153.5h0.6v0.6h-0.6zM319.5 146.6h0.6v0.6h-0.6zM319.2 153.0h0.6v0.6h-0.6zM320.9 154.9h0.6v0.6h-0.6zM323.1 153.7h0.6v0.6h-0.6zM307.9 145.7h0.6v0.6h-0.6zM314.2 155.3h0.6v0.6h-0.6zM313.0 168.2h0.6v0.6h-0.6zM320.0 168.0h0.6v0.6h-0.6zM314.7 166.6h0.6v0.6h-0.6zM330.1 165.2h0.6v0.6h-0.6zM309.2 148.6h0.6v0.6h-0.6zM312.1 163.9h0.6v0.6h-0.6zM319.5 166.7h0.6v0.6h-0.6zM311.9 135.4h0.6v0.6h-0.6zM320.0 140.6h0.6v0.6h-0.6zM311.9 155.5h0.6v0.6h-0.6zM308.1 162.9h0.6v0.6h-0.6zM316.0 157.1h0.6v0.6h-0.6zM319.4 139.3h0.6v0.6h-0.6zM320.3 151.2h0.6v0.6h-0.6zM320.3 147.7h0.6v0.6h-0.6zM318.7 148.9h0.6v0.6h-0.6zM312.3 154.6h0.6v0.6h-0.6zM315.0 146.4h0.6v0.6h-0.6zM309.8 164.2h0.6v0.6h-0.6zM317.1 157.4h0.6v0.6h-0.6zM317.1 137.6h0.6v0.6h-0.6zM322.1 148.0h0.6v0.6h-0.6zM315.2 158.4h0.6v0.6h-0.6zM316.1 152.0h0.6v0.6h-0.6zM319.5 143.8h0.6v0.6h-0.6zM315.8 147.8h0.6v0.6h-0.6zM314.6 150.0h0.6v0.6h-0.6zM312.2 147.8h0.6v0.6h-0.6zM312.3 147.6h0.6v0.6h-0.6zM309.2 163.2h0.6v0.6h-0.6z"/>
<path fill="rgb(144,144,144)" d="M316.5 142.4h0.6v0.6h-0.6zM311.0 167.3h0.6v0.6h-0.6zM312.9 150.4h0.6v0.6h-0.6zM311.2 146.7h0.6v0.6h-0.6zM317.8 155.9h0.6v0.6h-0.6zM321.1 143.3h0.6v0.6h-0.6zM320.9 146.7h0.6v0.6h-0.6zM311.2 147.3h0.6v0.6h-0.6zM322.0 155.5h0.6v0.6h-0.6zM321.5 135.8h0.6v0.6h-0.6zM314.9 158.7h0.6v0.6h-0.6zM317.1 135.7h0.6v0.6h-0.6zM318.7 152.0h0.6v0.6h-0.6zM314.3 163.6h0.6v0.6h-0.6zM315.9 154.9h0.6v0.6h-0.6zM307.3 168.9h0.6v0.6h-0.6zM314.2 161.9h0.6v0.6h-0.6zM313.3 153.0h0.6v0.6h-0.6zM311.5 153.5h0.6v0.6h-0.6zM315.4 145.5h0.6v0.6h-0.6zM316.0 161.5h0.6v0.6h-0.6zM310.5 149.5h0.6v0.6h-0.6zM315.6 168.9h0.6v0.6h-0.6zM308.9 144.9h0.6v0.6h-0.6zM318.3 146.8h0.6v0.6h-0.6zM309.7 150.3h0.6v0.6h-0.6zM311.1 151.7h0.6v0.6h-0.6zM309.7 146.9h0.6v0.6h-0.6zM318.6 162.8h0.6v0.6h-0.6zM314.6 149.8h0.6v0.6h-0.6zM319.0 150.0h0.6v0.6h-0.6zM315.2 139.6h0.6v0.6h-0.6zM318.8 165.6h0.6v0.6h-0.6zM316.7 139.2h0.6v0.6h-0.6zM303.6 157.7h0.6v0.6h-0.6zM312.3 151.3h0.6v0.6h-0.6zM321.1 152.2h0.6v0.6h-0.6zM310.5 145.6h0.6v0.6h-0.6zM318.1 156.9h0.6v0.6h-0.6zM313.3 153.3h0.6v0.6h-0.6zM319.9 155.7h0.6v0.6h-0.6zM313.8 158.5h0.6v0.6h-0.6zM313.1 148.0h0.6v0.6h-0.6zM321.7 148.0h0.6v0.6h-0.6zM314.9 142.2h0.6v0.6h-0.6zM325.7 161.8h0.6v0.6h-0.6zM317.2 157.0h0.6v0.6h-0.6zM311.6 153.7h0.6v0.6h-0.6zM313.8 156.4h0.6v0.6h-0.6zM323.1 139.8h0.6v0.6h-0.6zM312.9 169.2h0.6v0.6h-0.6zM313.7 142.8h0.6v0.6h-0.6zM305.3 152.8h0.6v0.6h-0.6zM317.4 154.6h0.6v0.6h-0.6zM313.9 155.6h0.6v0.6h-0.6zM327.4 159.2h0.6v0.6h-0.6zM316.6 148.5h0.6v0.6h-0.6zM314.1 147.1h0.6v0.6h-0.6zM317.6 159.7h0.6v0.6h-0.6zM319.0 147.4h0.6v0.6h-0.6zM309.1 147.6h0.6v0.6h-0.6zM323.7 157.1h0.6v0.6h-0.6zM314.8 134.4h0.6v0.6h-0.6zM320.4 157.5h0.6v0.6h-0.6zM307.2 132.7h0.6v0.6h-0.6zM312.1 137.3h0.6v0.6h-0.6zM315.8 149.6h0.6v0.6h-0.6zM311.7 144.9h0.6v0.6h-0.6zM316.5 149.4h0.6v0.6h-0.6zM318.5 150.6h0.6v0.6h-0.6zM310.2 144.3h0.6v0.6h-0.6zM318.5 154.2h0.6v0.6h-0.6zM320.9 157.2h0.6v0.6h-0.6zM318.0 158.9h0.6v0.6h-0.6zM319.2 170.2h0.6v0.6h-0.6zM311.5 165.4h0.6v0.6h-0.6zM326.1 153.8h0.6v0.6h-0.6zM308.4 166.5h0.6v0.6h-0.6zM321.1 149.5h0.6v0.6h-0.6zM309.9 149.2h0.6v0.6h-0.6zM315.6 161.9h0.6v0.6h-0.6zM319.0 149.6h0.6v0.6h-0.6zM312.9 158.2h0.6v0.6h-0.6zM312.2 142.4h0.6v0.6h-0.6zM309.4 151.8h0.6v0.6h-0.6zM331.3 164.7h0.6v0.6h-0.6zM322.9 157.1h0.6v0.6h-0.6zM321.3 151.8h0.6v0.6h-0.6zM325.0 151.6h0.6v0.6h-0.6zM311.0 148.6h0.6v0.6h-0.6zM318.8 150.9h0.6v0.6h-0.6zM318.1 159.8h0.6v0.6h-0.6zM311.4 150.1h0.6v0.6h-0.6zM310.6 164.6h0.6v0.6h-0.6z"/>
<path fill="rgb(156,156,156)" d="M316.3 153.7h0.6v0.6h-0.6zM314.2 157.3h0.6v0.6h-0.6zM315.3 145.1h0.6v0.6h-0.6zM319.1 159.7h0.6v0.6h-0.6zM310.3 153.7h0.6v0.6h-0.6zM307.3 153.7h0.6v0.6h-0.6zM315.8 160.5h0.6v0.6h-0.6zM315.9 167.9h0.6v0.6h-0.6zM319.2 158.2h0.6v0.6h-0.6zM301.0 154.0h0.6v0.6h-0.6zM308.9 163.2h0.6v0.6h-0.6zM305.4 144.3h0.6v0.6h-0.6zM321.3 163.1h0.6v0.6h-0.6zM309.4 162.9h0.6v0.6h-0.6zM321.6 139.9h0.6v0.6h-0.6zM317.4 164.3h0.6v0.6h-0.6zM302.0 156.7h0.6v0.6h-0.6zM317.5 164.2h0.6v0.6h-0.6zM321.4 164.0h0.6v0.6h-0.6zM314.1 157.4h0.6v0.6h-0.6zM319.8 144.9h0.6v0.6h-0.6zM313.2 152.1h0.6v0.6h-0.6zM310.0 164.4h0.6v0.6h-0.6zM324.6 151.6h0.6v0.6h-0.6zM304.2 166.2h0.6v0.6h-0.6zM316.0 149.5h0.6v0.6h-0.6zM315.6 160.8h0.6v0.6h-0.6zM317.0 151.3h0.6v0.6h-0.6zM310.9 146.5h0.6v0.6h-0.6zM320.4 148.7h0.6v0.6h-0.6zM313.7 164.2h0.6v0.6h-0.6zM315.4 158.0h0.6v0.6h-0.6zM317.6 159.0h0.6v0.6h-0.6zM310.5 143.4h0.6v0.6h-0.6zM314.1 148.5h0.6v0.6h-0.6zM315.0 145.9h0.6v0.6h-0.6zM316.1 156.9h0.6v0.6h-0.6zM305.8 155.7h0.6v0.6h-0.6zM311.4 158.5h0.6v0.6h-0.6zM315.0 151.7h0.6v0.6h-0.6zM323.9 152.3h0.6v0.6h-0.6zM310.7 141.1h0.6v0.6h-0.6zM316.3 158.6h0.6v0.6h-0.6zM316.3 145.3h0.6v0.6h-0.6zM316.1 152.2h0.6v0.6h-0.6zM315.2 134.9h0.6v0.6h-0.6zM311.6 130.2h0.6v0.6h-0.6zM309.3 152.3h0.6v0.6h-0.6zM315.8 147.7h0.6v0.6h-0.6zM323.7 152.5h0.6v0.6h-0.6zM304.3 155.5h0.6v0.6h-0.6zM313.6 155.8h0.6v0.6h-0.6zM318.8 154.6h0.6v0.6h-0.6zM316.0 151.0h0.6v0.6h-0.6zM317.5 154.0h0.6v0.6h-0.6zM318.4 161.5h0.6v0.6h-0.6zM317.1 154.5h0.6v0.6h-0.6zM306.5 158.9h0.6v0.6h-0.6zM305.4 154.0h0.6v0.6h-0.6zM314.0 156.7h0.6v0.6h-0.6zM314.2 160.8h0.6v0.6h-0.6zM312.0 157.6h0.6v0.6h-0.6zM317.0 143.2h0.6v0.6h-0.6zM313.7 155.4h0.6v0.6h-0.6zM317.1 161.0h0.6v0.6h-0.6zM311.1 160.0h0.6v0.6h-0.6zM325.7 159.3h0.6v0.6h-0.6zM301.5 150.6h0.6v0.6h-0.6zM311.6 152.5h0.6v0.6h-0.6zM312.8 141.3h0.6v0.6h-0.6zM322.7 150.8h0.6v0.6h-0.6zM310.5 154.1h0.6v0.6h-0.6zM315.1 150.6h0.6v0.6h-0.6zM314.4 144.5h0.6v0.6h-0.6zM312.8 137.6h0.6v0.6h-0.6zM321.8 149.8h0.6v0.6h-0.6zM315.0 154.3h0.6v0.6h-0.6zM310.5 143.4h0.6v0.6h-0.6zM314.3 150.8h0.6v0.6h-0.6zM321.9 156.4h0.6v0.6h-0.6zM315.6 151.2h0.6v0.6h-0.6zM320.6 148.5h0.6v0.6h-0.6zM317.3 145.3h0.6v0.6h-0.6zM313.9 165.4h0.6v0.6h-0.6zM318.9 154.6h0.6v0.6h-0.6zM321.9 150.3h0.6v0.6h-0.6zM310.1 135.2h0.6v0.6h-0.6zM312.8 161.7h0.6v0.6h-0.6zM316.3 151.7h0.6v0.6h-0.6zM323.1 136.9h0.6v0.6h-0.6zM321.5 149.2h0.6v0.6h-0.6zM308.5 156.1h0.6v0.6h-0.6zM311.8 151.7h0.6v0.6h-0.6zM321.6 161.9h0.6v0.6h-0.6zM310.1 146.9h0.6v0.6h-0.6zM321.9 154.8h0.6v0.6h-0.6zM317.3 140.0h0.6v0.6h-0.6zM309.5 167.4h0.6v0.6h-0.6zM325.5 155.9h0.6v0.6h-0.6zM317.4 152.6h0.6v0.6h-0.6zM312.6 139.8h0.6v0.6h-0.6zM306.2 164.3h0.6v0.6h-0.6zM320.6 151.8h0.6v0.6h-0.6zM317.5 158.7h0.6v0.6h-0.6zM317.8 163.6h0.6v0.6h-0.6z"/>
<path fill="rgb(168,168,168)" d="M308.0 132.5h0.6v0.6h-0.6zM314.7 137.8h0.6v0.6h-0.6zM305.1 166.2h0.6v0.6h-0.6zM316.7 155.8h0.6v0.6h-0.6zM309.6 163.6h0.6v0.6h-0.6zM318.0 153.1h0.6v0.6h-0.6zM307.1 143.7h0.6v0.6h-0.6zM322.4 148.9h0.6v0.6h-0.6zM321.9 158.2h0.6v0.6h-0.6zM313.2 158.9h0.6v0.6h-0.6zM316.1 162.1h0.6v0.6h-0.6zM313.8 143.7h0.6v0.6h-0.6zM318.5 154.0h0.6v0.6h-0.6zM319.2 155.0h0.6v0.6h-0.6zM313.5 148.8h0.6v0.6h-0.6zM310.8 140.1h0.6v0.6h-0.6zM313.7 155.2h0.6v0.6h-0.6zM313.3 154.3h0.6v0.6h-0.6zM321.5 160.6h0.6v0.6h-0.6zM309.5 156.4h0.6v0.6h-0.6zM308.6 153.4h0.6v0.6h-0.6zM323.7 150.2h0.6v0.6h-0.6zM306.5 166.6h0.6v0.6h-0.6zM311.7 153.1h0.6v0.6h-0.6zM316.1 158.2h0.6v0.6h-0.6zM317.4 156.5h0.6v0.6h-0.6zM317.2 157.3h0.6v0.6h-0.6zM308.0 159.6h0.6v0.6h-0.6zM309.2 163.1h0.6v0.6h-0.6zM315.3 146.0h0.6v0.6h-0.6zM314.2 152.5h0.6v0.6h-0.6zM316.0 146.5h0.6v0.6h-0.6zM314.2 147.0h0.6v0.6h-0.6zM314.7 164.6h0.6v0.6h-0.6zM323.2 148.9h0.6v0.6h-0.6zM314.6 149.1h0.6v0.6h-0.6zM313.3 158.8h0.6v0.6h-0.6zM310.2 164.7h0.6v0.6h-0.6zM315.7 150.8h0.6v0.6h-0.6zM319.3 160.5h0.6v0.6h-0.6zM312.9 160.4h0.6v0.6h-0.6zM314.2 139.9h0.6v0.6h-0.6zM320.0 134.2h0.6v0.6h-0.6zM320.9 162.4h0.6v0.6h-0.6zM309.1 142.3h0.6v0.6h-0.6zM313.8 157.5h0.6v0.6h-0.6zM318.1 155.5h0.6v0.6h-0.6zM316.5 155.9h0.6v0.6h-0.6zM306.9 158.4h0.6v0.6h-0.6zM317.2 157.8h0.6v0.6h-0.6zM313.8 156.7h0.6v0.6h-0.6zM309.8 153.4h0.6v0.6h-0.6zM314.4 159.4h0.6v0.6h-0.6zM311.0 161.4h0.6v0.6h-0.6zM313.9 143.8h0.6v0.6h-0.6zM317.2 155.6h0.6v0.6h-0.6zM319.1 152.2h0.6v0.6h-0.6zM322.4 160.9h0.6v0.6h-0.6zM319.9 167.8h0.6v0.6h-0.6zM315.7 148.7h0.6v0.6h-0.6zM309.5 156.5h0.6v0.6h-0.6zM318.2 163.5h0.6v0.6h-0.6zM327.8 148.4h0.6v0.6h-0.6zM321.9 140.2h0.6v0.6h-0.6zM318.0 160.2h0.6v0.6h-0.6zM312.6 154.4h0.6v0.6h-0.6zM316.4 159.0h0.6v0.6h-0.6zM315.0 163.3h0.6v0.6h-0.6zM310.8 146.3h0.6v0.6h-0.6zM319.6 139.6h0.6v0.6h-0.6zM318.5 139.0h0.6v0.6h-0.6zM317.2 167.3h0.6v0.6h-0.6zM310.5 160.2h0.6v0.6h-0.6zM313.4 157.3h0.6v0.6h-0.6zM322.5 157.9h0.6v0.6h-0.6zM312.9 150.2h0.6v0.6h-0.6zM308.8 157.5h0.6v0.6h-0.6zM311.9 142.1h0.6v0.6h-0.6zM316.0 153.1h0.6v0.6h-0.6zM312.8 161.0h0.6v0.6h-0.6zM314.2 158.4h0.6v0.6h-0.6zM312.0 142.3h0.6v0.6h-0.6zM322.6 156.7h0.6v0.6h-0.6zM315.1 157.5h0.6v0.6h-0.6zM309.2 147.2h0.6v0.6h-0.6zM321.5 148.7h0.6v0.6h-0.6zM310.1 153.3h0.6v0.6h-0.6zM314.7 154.1h0.6v0.6h-0.6zM314.8 157.5h0.6v0.6h-0.6zM309.1 160.7h0.6v0.6h-0.6zM321.0 149.7h0.6v0.6h-0.6zM311.8 152.0h0.6v0.6h-0.6zM304.7 165.4h0.6v0.6h-0.6zM309.1 153.0h0.6v0.6h-0.6zM323.4 144.9h0.6v0.6h-0.6zM309.6 164.1h0.6v0.6h-0.6zM321.9 148.6h0.6v0.6h-0.6zM302.6 157.7h0.6v0.6h-0.6zM310.0 157.0h0.6v0.6h-0.6zM311.4 154.8h0.6v0.6h-0.6zM301.5 145.4h0.6v0.6h-0.6zM313.7 154.9h0.6v0.6h-0.6zM313.5 139.2h0.6v0.6h-0.6zM311.2 143.7h0.6v0.6h-0.6zM319.3 152.3h0.6v0.6h-0.6zM317.7 161.5h0.6v0.6h-0.6zM312.2 157.4h0.6v0.6h-0.6zM318.6 138.5h0.6v0.6h-0.6zM321.5 168.1h0.6v0.6h-0.6zM304.8 150.1h0.6v0.6h-0.6zM317.1 159.1h0.6v0.6h-0.6zM315.8 138.3h0.6v0.6h-0.6zM309.1 155.7h0.6v0.6h-0.6zM321.3 166.3h0.6v0.6h-0.6zM318.9 159.7h0.6v0.6h-0.6z"/>
<path fill="rgb(180,180,180)" d="M325.0 163.9h0.6v0.6h-0.6zM319.5 153.1h0.6v0.6h-0.6zM304.5 143.6h0.6v0.6h-0.6zM322.4 161.5h0.6v0.6h-0.6zM315.4 150.3h0.6v0.6h-0.6zM319.1 155.7h0.6v0.6h-0.6zM311.9 156.6h0.6v0.6h-0.6zM314.7 145.4h0.6v0.6h-0.6zM317.2 158.0h0.6v0.6h-0.6zM314.3 154.2h0.6v0.6h-0.6zM318.1 147.0h0.6v0.6h-0.6zM324.0 150.7h0.6v0.6h-0.6zM314.9 151.5h0.6v0.6h-0.6zM323.1 157.1h0.6v0.6h-0.6zM314.5 162.4h0.6v0.6h-0.6zM320.0 145.6h0.6v0.6h-0.6zM318.6 137.6h0.6v0.6h-0.6zM316.4 155.4h0.6v0.6h-0.6zM314.2 145.3h0.6v0.6h-0.6zM315.4 161.0h0.6v0.6h-0.6zM314.5 153.7h0.6v0.6h-0.6zM319.5 157.9h0.6v0.6h-0.6zM312.8 161.3h0.6v0.6h-0.6zM310.8 154.6h0.6v0.6h-0.6zM317.1 139.3h0.6v0.6h-0.6zM320.8 150.6h0.6v0.6h-0.6zM309.9 148.0h0.6v0.6h-0.6zM319.9 161.8h0.6v0.6h-0.6zM305.8 154.0h0.6v0.6h-0.6zM320.2 156.6h0.6v0.6h-0.6zM314.4 168.4h0.6v0.6h-0.6zM313.4 153.2h0.6v0.6h-0.6zM310.3 148.2h0.6v0.6h-0.6zM317.2 144.4h0.6v0.6h-0.6zM319.4 140.4h0.6v0.6h-0.6zM308.3 147.9h0.6v0.6h-0.6zM315.7 158.3h0.6v0.6h-0.6zM310.8 161.5h0.6v0.6h-0.6zM317.5 143.1h0.6v0.6h-0.6zM320.8 163.4h0.6v0.6h-0.6zM318.5 130.2h0.6v0.6h-0.6zM323.9 163.0h0.6v0.6h-0.6zM320.1 161.0h0.6v0.6h-0.6zM309.3 147.2h0.6v0.6h-0.6zM323.8 140.2h0.6v0.6h-0.6zM325.9 159.8h0.6v0.6h-0.6zM312.6 168.0h0.6v0.6h-0.6zM320.7 142.9h0.6v0.6h-0.6zM304.2 158.5h0.6v0.6h-0.6zM313.7 156.0h0.6v0.6h-0.6zM322.1 153.9h0.6v0.6h-0.6zM310.8 145.3h0.6v0.6h-0.6zM314.8 154.2h0.6v0.6h-0.6zM320.5 149.4h0.6v0.6h-0.6zM318.0 147.6h0.6v0.6h-0.6zM310.3 149.6h0.6v0.6h-0.6zM323.2 144.2h0.6v0.6h-0.6zM322.9 152.7h0.6v0.6h-0.6zM319.4 145.3h0.6v0.6h-0.6zM316.6 158.9h0.6v0.6h-0.6zM309.6 158.5h0.6v0.6h-0.6zM312.4 156.3h0.6v0.6h-0.6zM310.5 155.0h0.6v0.6h-0.6zM309.4 166.4h0.6v0.6h-0.6zM316.5 153.4h0.6v0.6h-0.6zM310.2 154.4h0.6v0.6h-0.6zM320.7 148.7h0.6v0.6h-0.6zM305.9 150.4h0.6v0.6h-0.6zM316.9 154.1h0.6v0.6h-0.6zM315.2 159.9h0.6v0.6h-0.6zM318.1 152.7h0.6v0.6h-0.6zM322.1 145.7h0.6v0.6h-0.6zM312.7 161.0h0.6v0.6h-0.6zM321.5 141.1h0.6v0.6h-0.6zM310.0 140.3h0.6v0.6h-0.6zM315.4 146.4h0.6v0.6h-0.6zM305.2 157.0h0.6v0.6h-0.6zM315.8 155.8h0.6v0.6h-0.6zM308.4 150.6h0.6v0.6h-0.6zM317.8 160.9h0.6v0.6h-0.6zM318.3 164.9h0.6v0.6h-0.6zM318.5 156.9h0.6v0.6h-0.6zM316.6 163.1h0.6v0.6h-0.6zM312.4 136.7h0.6v0.6h-0.6zM314.8 137.9h0.6v0.6h-0.6zM316.9 153.1h0.6v0.6h-0.6zM318.6 160.0h0.6v0.6h-0.6zM308.7 161.7h0.6v0.6h-0.6zM313.7 125.3h0.6v0.6h-0.6zM321.2 151.9h0.6v0.6h-0.6zM317.4 147.7h0.6v0.6h-0.6zM318.9 149.3h0.6v0.6h-0.6zM322.1 154.6h0.6v0.6h-0.6zM306.3 166.6h0.6v0.6h-0.6zM324.1 157.4h0.6v0.6h-0.6zM318.5 145.8h0.6v0.6h-0.6zM322.4 154.2h0.6v0.6h-0.6zM312.7 148.0h0.6v0.6h-0.6zM314.3 163.0h0.6v0.6h-0.6zM319.2 163.2h0.6v0.6h-0.6zM318.2 138.0h0.6v0.6h-0.6zM319.9 156.8h0.6v0.6h-0.6zM319.0 150.5h0.6v0.6h-0.6zM321.8 136.1h0.6v0.6h-0.6zM318.2 164.7h0.6v0.6h-0.6zM321.7 137.6h0.6v0.6h-0.6zM313.3 139.5h0.6v0.6h-0.6zM318.9 156.6h0.6v0.6h-0.6zM319.8 155.7h0.6v0.6h-0.6zM320.4 160.0h0.6v0.6h-0.6zM315.1 159.0h0.6v0.6h-0.6z"/>
<path fill="rgb(192,192,192)" d="M327.3 129.0h0.6v0.6h-0.6zM328.9 153.8h0.6v0.6h-0.6zM312.7 152.0h0.6v0.6h-0.6zM308.3 148.5h0.6v0.6h-0.6zM315.8 150.9h0.6v0.6h-0.6zM324.0 144.1h0.6v0.6h-0.6zM320.8 160.2h0.6v0.6h-0.6zM318.7 162.0h0.6v0.6h-0.6zM316.9 145.2h0.6v0.6h-0.6zM322.4 157.9h0.6v0.6h-0.6zM312.6 156.8h0.6v0.6h-0.6zM323.5 148.8h0.6v0.6h-0.6zM319.3 143.2h0.6v0.6h-0.6zM306.9 137.1h0.6v0.6h-0.6zM328.3 150.2h0.6v0.6h-0.6zM318.6 150.7h0.6v0.6h-0.6zM318.8 153.3h0.6v0.6h-0.6zM315.8 160.1h0.6v0.6h-0.6zM315.3 137.2h0.6v0.6h-0.6zM318.3 148.6h0.6v0.6h-0.6zM312.1 148.6h0.6v0.6h-0.6zM307.4 148.2h0.6v0.6h-0.6zM321.3 168.8h0.6v0.6h-0.6zM324.9 150.1h0.6v0.6h-0.6zM320.2 149.8h0.6v0.6h-0.6zM317.1 164.0h0.6v0.6h-0.6zM321.0 151.2h0.6v0.6h-0.6zM318.9 149.4h0.6v0.6h-0.6zM327.3 144.0h0.6v0.6h-0.6zM330.8 144.3h0.6v0.6h-0.6z"/>
<path fill="rgb(120,120,120)" d="M318.5 152.6h0.6v0.6h-0.6zM289.5 168.0h0.6v0.6h-0.6zM327.1 152.7h0.6v0.6h-0.6zM312.5 159.9h0.6v0.6h-0.6zM335.0 159.1h0.6v0.6h-0.6zM335.0 149.9h0.6v0.6h-0.6zM330.4 149.7h0.6v0.6h-0.6zM327.3 151.1h0.6v0.6h-0.6zM331.6 156.0h0.6v0.6h-0.6zM318.8 157.9h0.6v0.6h-0.6zM318.2 158.7h0.6v0.6h-0.6zM311.5 159.5h0.6v0.6h-0.6zM323.8 151.0h0.6v0.6h-0.6z"/>
<path fill="rgb(132,132,132)" d="M318.8 152.2h0.6v0.6h-0.6zM316.6 164.6h0.6v0.6h-0.6zM339.6 153.9h0.6v0.6h-0.6zM326.1 133.5h0.6v0.6h-0.6zM333.9 148.9h0.6v0.6h-0.6zM329.2 168.4h0.6v0.6h-0.6zM325.8 144.0h0.6v0.6h-0.6zM318.0 153.5h0.6v0.6h-0.6zM323.0 143.5h0.6v0.6h-0.6zM316.5 150.7h0.6v0.6h-0.6zM322.0 153.1h0.6v0.6h-0.6zM319.4 170.1h0.6v0.6h-0.6zM316.8 137.5h0.6v0.6h-0.6zM327.2 160.2h0.6v0.6h-0.6zM327.2 163.5h0.6v0.6h-0.6zM305.6 161.1h0.6v0.6h-0.6zM337.1 149.0h0.6v0.6h-0.6zM320.7 151.5h0.6v0.6h-0.6zM305.5 139.3h0.6v0.6h-0.6zM334.9 155.1h0.6v0.6h-0.6zM313.2 160.4h0.6v0.6h-0.6zM312.0 152.6h0.6v0.6h-0.6zM310.9 159.6h0.6v0.6h-0.6zM321.9 162.8h0.6v0.6h-0.6zM316.3 138.3h0.6v0.6h-0.6zM319.0 146.1h0.6v0.6h-0.6zM321.9 163.2h0.6v0.6h-0.6zM328.3 147.7h0.6v0.6h-0.6zM321.9 153.8h0.6v0.6h-0.6zM315.9 160.8h0.6v0.6h-0.6zM323.4 151.6h0.6v0.6h-0.6zM323.1 149.0h0.6v0.6h-0.6zM311.0 159.9h0.6v0.6h-0.6zM332.9 161.1h0.6v0.6h-0.6zM342.7 158.4h0.6v0.6h-0.6zM333.8 145.5h0.6v0.6h-0.6zM304.3 139.3h0.6v0.6h-0.6zM321.7 161.5h0.6v0.6h-0.6zM324.6 154.9h0.6v0.6h-0.6zM318.0 152.6h0.6v0.6h-0.6zM310.3 169.4h0.6v0.6h-0.6zM325.8 148.5h0.6v0.6h-0.6zM325.8 149.8h0.6v0.6h-0.6zM333.1 140.2h0.6v0.6h-0.6zM324.6 160.4h0.6v0.6h-0.6zM319.2 148.0h0.6v0.6h-0.6zM329.4 155.1h0.6v0.6h-0.6zM332.5 149.8h0.6v0.6h-0.6zM340.1 168.6h0.6v0.6h-0.6zM336.2 148.8h0.6v0.6h-0.6zM332.6 162.5h0.6v0.6h-0.6z"/>
<path fill="rgb(144,144,144)" d="M331.3 165.7h0.6v0.6h-0.6zM323.2 149.6h0.6v0.6h-0.6zM310.4 150.6h0.6v0.6h-0.6zM328.5 169.5h0.6v0.6h-0.6zM325.1 147.7h0.6v0.6h-0.6zM334.9 144.0h0.6v0.6h-0.6zM319.5 161.2h0.6v0.6h-0.6zM315.0 148.7h0.6v0.6h-0.6zM326.6 153.2h0.6v0.6h-0.6zM312.5 158.8h0.6v0.6h-0.6zM318.7 133.8h0.6v0.6h-0.6zM315.4 164.6h0.6v0.6h-0.6zM315.6 138.2h0.6v0.6h-0.6zM313.8 159.2h0.6v0.6h-0.6zM326.6 165.5h0.6v0.6h-0.6zM326.0 149.3h0.6v0.6h-0.6zM327.2 145.1h0.6v0.6h-0.6zM316.2 146.6h0.6v0.6h-0.6zM321.7 152.9h0.6v0.6h-0.6zM328.0 168.6h0.6v0.6h-0.6zM309.2 163.1h0.6v0.6h-0.6zM313.4 145.8h0.6v0.6h-0.6zM312.0 156.7h0.6v0.6h-0.6zM326.5 148.4h0.6v0.6h-0.6zM339.5 169.6h0.6v0.6h-0.6zM314.1 160.2h0.6v0.6h-0.6zM317.6 154.0h0.6v0.6h-0.6zM330.3 160.2h0.6v0.6h-0.6zM326.2 135.3h0.6v0.6h-0.6zM325.1 148.2h0.6v0.6h-0.6zM312.1 153.4h0.6v0.6h-0.6zM324.9 161.5h0.6v0.6h-0.6zM314.7 158.6h0.6v0.6h-0.6zM319.7 159.2h0.6v0.6h-0.6zM311.5 140.3h0.6v0.6h-0.6zM319.2 165.8h0.6v0.6h-0.6zM328.1 150.8h0.6v0.6h-0.6zM334.6 165.0h0.6v0.6h-0.6zM323.7 162.1h0.6v0.6h-0.6zM316.8 158.2h0.6v0.6h-0.6zM324.0 155.3h0.6v0.6h-0.6zM327.2 150.9h0.6v0.6h-0.6zM319.7 149.7h0.6v0.6h-0.6zM329.1 151.4h0.6v0.6h-0.6zM338.1 161.2h0.6v0.6h-0.6zM321.5 169.6h0.6v0.6h-0.6zM324.4 166.0h0.6v0.6h-0.6zM329.6 148.5h0.6v0.6h-0.6zM336.0 160.8h0.6v0.6h-0.6zM329.9 150.5h0.6v0.6h-0.6zM328.3 153.4h0.6v0.6h-0.6zM322.0 153.0h0.6v0.6h-0.6zM328.5 146.0h0.6v0.6h-0.6zM343.0 147.5h0.6v0.6h-0.6zM323.2 130.1h0.6v0.6h-0.6zM316.3 165.9h0.6v0.6h-0.6zM342.8 165.2h0.6v0.6h-0.6zM326.0 146.8h0.6v0.6h-0.6z"/>
<path fill="rgb(156,156,156)" d="M308.2 167.4h0.6v0.6h-0.6zM322.2 162.3h0.6v0.6h-0.6zM329.7 158.8h0.6v0.6h-0.6zM326.1 153.7h0.6v0.6h-0.6zM338.3 151.0h0.6v0.6h-0.6zM340.1 166.1h0.6v0.6h-0.6zM314.1 141.5h0.6v0.6h-0.6zM315.8 160.0h0.6v0.6h-0.6zM335.3 149.1h0.6v0.6h-0.6zM319.4 139.1h0.6v0.6h-0.6zM309.1 157.8h0.6v0.6h-0.6zM321.0 167.0h0.6v0.6h-0.6zM317.0 162.4h0.6v0.6h-0.6zM315.2 167.2h0.6v0.6h-0.6zM335.6 158.5h0.6v0.6h-0.6zM331.0 167.2h0.6v0.6h-0.6zM314.6 140.5h0.6v0.6h-0.6zM322.2 148.1h0.6v0.6h-0.6zM317.3 146.1h0.6v0.6h-0.6zM327.5 164.7h0.6v0.6h-0.6zM305.4 156.7h0.6v0.6h-0.6zM319.2 155.3h0.6v0.6h-0.6zM315.0 148.6h0.6v0.6h-0.6zM317.2 156.9h0.6v0.6h-0.6zM315.2 162.7h0.6v0.6h-0.6zM323.3 169.2h0.6v0.6h-0.6zM321.8 151.4h0.6v0.6h-0.6zM324.9 146.2h0.6v0.6h-0.6zM304.8 139.3h0.6v0.6h-0.6zM325.7 142.6h0.6v0.6h-0.6zM326.7 155.8h0.6v0.6h-0.6zM325.0 152.0h0.6v0.6h-0.6zM319.5 146.9h0.6v0.6h-0.6zM339.8 142.8h0.6v0.6h-0.6zM314.2 155.9h0.6v0.6h-0.6zM333.1 143.8h0.6v0.6h-0.6zM304.8 154.5h0.6v0.6h-0.6zM321.2 165.9h0.6v0.6h-0.6zM320.0 160.3h0.6v0.6h-0.6zM315.5 119.4h0.6v0.6h-0.6zM317.9 156.0h0.6v0.6h-0.6zM329.9 151.8h0.6v0.6h-0.6zM326.8 144.0h0.6v0.6h-0.6zM314.5 159.1h0.6v0.6h-0.6zM308.5 154.5h0.6v0.6h-0.6zM322.7 155.4h0.6v0.6h-0.6zM321.3 166.5h0.6v0.6h-0.6zM323.9 133.9h0.6v0.6h-0.6zM327.1 164.7h0.6v0.6h-0.6zM335.1 164.6h0.6v0.6h-0.6zM333.2 153.8h0.6v0.6h-0.6zM315.2 150.5h0.6v0.6h-0.6zM328.4 142.5h0.6v0.6h-0.6zM323.6 146.9h0.6v0.6h-0.6zM329.5 146.4h0.6v0.6h-0.6zM327.0 143.5h0.6v0.6h-0.6zM331.2 158.0h0.6v0.6h-0.6z"/>
<path fill="rgb(168,168,168)" d="M343.8 147.0h0.6v0.6h-0.6zM320.7 151.1h0.6v0.6h-0.6zM312.5 161.2h0.6v0.6h-0.6zM326.6 156.5h0.6v0.6h-0.6zM323.1 146.8h0.6v0.6h-0.6zM294.1 158.0h0.6v0.6h-0.6zM324.9 155.2h0.6v0.6h-0.6zM322.2 158.1h0.6v0.6h-0.6zM328.7 145.9h0.6v0.6h-0.6zM320.8 150.8h0.6v0.6h-0.6zM329.5 166.5h0.6v0.6h-0.6zM320.7 147.4h0.6v0.6h-0.6zM323.1 159.8h0.6v0.6h-0.6zM326.6 153.4h0.6v0.6h-0.6zM320.6 158.1h0.6v0.6h-0.6zM336.7 143.9h0.6v0.6h-0.6zM307.3 160.0h0.6v0.6h-0.6zM316.3 160.3h0.6v0.6h-0.6zM318.1 159.3h0.6v0.6h-0.6zM327.1 149.0h0.6v0.6h-0.6zM328.4 166.3h0.6v0.6h-0.6zM322.0 156.1h0.6v0.6h-0.6zM325.5 136.8h0.6v0.6h-0.6zM299.0 156.8h0.6v0.6h-0.6zM334.9 146.9h0.6v0.6h-0.6zM302.2 160.1h0.6v0.6h-0.6zM306.9 139.2h0.6v0.6h-0.6zM301.8 143.4h0.6v0.6h-0.6zM331.5 164.5h0.6v0.6h-0.6zM330.8 148.7h0.6v0.6h-0.6zM325.2 166.1h0.6v0.6h-0.6zM309.0 155.0h0.6v0.6h-0.6zM321.5 149.7h0.6v0.6h-0.6zM321.7 161.8h0.6v0.6h-0.6zM338.7 168.4h0.6v0.6h-0.6zM321.9 154.1h0.6v0.6h-0.6zM320.1 158.3h0.6v0.6h-0.6zM330.8 158.0h0.6v0.6h-0.6zM314.0 159.8h0.6v0.6h-0.6zM305.1 166.3h0.6v0.6h-0.6zM342.7 143.7h0.6v0.6h-0.6zM321.7 151.3h0.6v0.6h-0.6zM344.8 137.2h0.6v0.6h-0.6zM341.9 155.1h0.6v0.6h-0.6zM334.3 164.2h0.6v0.6h-0.6zM299.4 162.3h0.6v0.6h-0.6zM327.6 151.9h0.6v0.6h-0.6zM297.8 151.2h0.6v0.6h-0.6zM322.9 156.8h0.6v0.6h-0.6zM303.5 151.5h0.6v0.6h-0.6zM328.6 151.9h0.6v0.6h-0.6zM319.9 159.9h0.6v0.6h-0.6zM319.8 155.3h0.6v0.6h-0.6zM339.0 160.5h0.6v0.6h-0.6zM316.3 164.7h0.6v0.6h-0.6zM325.7 133.8h0.6v0.6h-0.6zM321.1 160.1h0.6v0.6h-0.6zM337.9 150.8h0.6v0.6h-0.6zM313.6 149.4h0.6v0.6h-0.6zM345.1 160.6h0.6v0.6h-0.6zM301.0 152.8h0.6v0.6h-0.6z"/>
<path fill="rgb(180,180,180)" d="M337.2 156.6h0.6v0.6h-0.6zM316.5 157.6h0.6v0.6h-0.6zM308.6 130.8h0.6v0.6h-0.6zM304.1 153.2h0.6v0.6h-0.6zM328.8 153.9h0.6v0.6h-0.6zM324.5 147.4h0.6v0.6h-0.6zM300.5 153.3h0.6v0.6h-0.6zM324.3 155.8h0.6v0.6h-0.6zM316.9 156.6h0.6v0.6h-0.6zM328.9 134.0h0.6v0.6h-0.6zM325.7 154.9h0.6v0.6h-0.6zM311.1 149.6h0.6v0.6h-0.6zM337.1 163.5h0.6v0.6h-0.6zM334.3 152.3h0.6v0.6h-0.6zM318.5 140.8h0.6v0.6h-0.6zM322.7 151.5h0.6v0.6h-0.6zM324.9 151.1h0.6v0.6h-0.6zM313.4 142.3h0.6v0.6h-0.6zM316.3 167.7h0.6v0.6h-0.6zM327.7 159.6h0.6v0.6h-0.6zM326.4 155.2h0.6v0.6h-0.6zM309.4 145.1h0.6v0.6h-0.6zM322.7 130.0h0.6v0.6h-0.6zM326.7 154.5h0.6v0.6h-0.6zM322.7 161.7h0.6v0.6h-0.6zM313.7 145.0h0.6v0.6h-0.6zM327.4 140.4h0.6v0.6h-0.6zM318.6 142.2h0.6v0.6h-0.6zM316.1 163.7h0.6v0.6h-0.6zM293.8 143.1h0.6v0.6h-0.6zM322.8 146.0h0.6v0.6h-0.6zM310.0 144.1h0.6v0.6h-0.6zM316.9 149.9h0.6v0.6h-0.6zM320.3 154.0h0.6v0.6h-0.6zM322.8 149.8h0.6v0.6h-0.6zM328.6 158.2h0.6v0.6h-0.6zM339.9 149.7h0.6v0.6h-0.6zM304.2 154.4h0.6v0.6h-0.6zM344.4 161.0h0.6v0.6h-0.6zM325.0 155.9h0.6v0.6h-0.6zM325.5 166.1h0.6v0.6h-0.6zM328.8 159.2h0.6v0.6h-0.6zM305.3 165.2h0.6v0.6h-0.6zM324.9 143.1h0.6v0.6h-0.6zM309.6 163.5h0.6v0.6h-0.6zM326.4 162.8h0.6v0.6h-0.6zM323.1 144.9h0.6v0.6h-0.6zM329.9 149.0h0.6v0.6h-0.6zM318.4 149.8h0.6v0.6h-0.6zM301.4 154.9h0.6v0.6h-0.6zM333.5 155.5h0.6v0.6h-0.6zM306.0 148.9h0.6v0.6h-0.6zM315.0 137.2h0.6v0.6h-0.6zM313.7 161.7h0.6v0.6h-0.6zM320.9 161.9h0.6v0.6h-0.6zM306.1 148.4h0.6v0.6h-0.6zM336.4 136.6h0.6v0.6h-0.6zM332.4 144.3h0.6v0.6h-0.6zM332.5 163.7h0.6v0.6h-0.6zM314.7 155.6h0.6v0.6h-0.6zM321.6 141.5h0.6v0.6h-0.6zM334.9 155.7h0.6v0.6h-0.6zM323.7 155.7h0.6v0.6h-0.6z"/>
<path fill="rgb(192,192,192)" d="M333.1 157.5h0.6v0.6h-0.6zM319.2 145.7h0.6v0.6h-0.6zM318.2 140.7h0.6v0.6h-0.6zM322.5 150.2h0.6v0.6h-0.6zM315.6 162.2h0.6v0.6h-0.6zM315.1 151.3h0.6v0.6h-0.6zM338.7 154.9h0.6v0.6h-0.6zM345.3 160.9h0.6v0.6h-0.6zM324.6 142.8h0.6v0.6h-0.6zM321.7 137.5h0.6v0.6h-0.6zM326.1 137.8h0.6v0.6h-0.6zM324.5 162.8h0.6v0.6h-0.6zM303.8 164.3h0.6v0.6h-0.6zM324.9 155.4h0.6v0.6h-0.6zM324.9 149.4h0.6v0.6h-0.6zM325.9 157.9h0.6v0.6h-0.6zM326.6 154.1h0.6v0.6h-0.6zM314.7 129.0h0.6v0.6h-0.6zM300.8 167.4h0.6v0.6h-0.6zM330.7 168.2h0.6v0.6h-0.6zM296.9 144.4h0.6v0.6h-0.6zM321.1 134.0h0.6v0.6h-0.6zM312.6 155.4h0.6v0.6h-0.6zM319.7 153.7h0.6v0.6h-0.6zM305.5 164.6h0.6v0.6h-0.6zM317.7 146.3h0.6v0.6h-0.6zM314.6 164.6h0.6v0.6h-0.6zM313.6 144.9h0.6v0.6h-0.6zM319.4 153.3h0.6v0.6h-0.6zM317.5 158.5h0.6v0.6h-0.6zM325.2 169.2h0.6v0.6h-0.6zM310.2 159.3h0.6v0.6h-0.6zM335.6 167.3h0.6v0.6h-0.6zM296.9 146.7h0.6v0.6h-0.6zM345.1 154.4h0.6v0.6h-0.6zM324.1 161.7h0.6v0.6h-0.6zM314.6 157.2h0.6v0.6h-0.6zM329.1 158.7h0.6v0.6h-0.6zM329.7 153.4h0.6v0.6h-0.6zM324.1 162.4h0.6v0.6h-0.6zM315.0 155.2h0.6v0.6h-0.6zM332.2 155.6h0.6v0.6h-0.6zM321.8 151.5h0.6v0.6h-0.6zM327.6 153.6h0.6v0.6h-0.6zM327.9 150.5h0.6v0.6h-0.6zM319.0 138.4h0.6v0.6h-0.6zM345.7 134.8h0.6v0.6h-0.6zM332.9 142.3h0.6v0.6h-0.6zM316.4 150.6h0.6v0.6h-0.6zM329.2 153.6h0.6v0.6h-0.6zM325.8 165.9h0.6v0.6h-0.6zM325.2 136.7h0.6v0.6h-0.6zM323.8 162.1h0.6v0.6h-0.6zM317.6 162.0h0.6v0.6h-0.6zM307.1 155.4h0.6v0.6h-0.6zM322.8 153.2h0.6v0.6h-0.6zM323.5 166.3h0.6v0.6h-0.6zM329.0 144.3h0.6v0.6h-0.6zM311.7 158.7h0.6v0.6h-0.6zM318.3 159.3h0.6v0.6h-0.6zM323.7 159.5h0.6v0.6h-0.6zM323.0 143.5h0.6v0.6h-0.6zM318.8 154.3h0.6v0.6h-0.6zM323.7 153.2h0.6v0.6h-0.6zM323.8 167.4h0.6v0.6h-0.6zM326.8 145.9h0.6v0.6h-0.6z"/>
<path fill="rgb(204,204,204)" d="M339.0 143.3h0.6v0.6h-0.6zM318.1 155.4h0.6v0.6h-0.6zM322.3 156.7h0.6v0.6h-0.6zM321.6 155.7h0.6v0.6h-0.6zM340.1 150.4h0.6v0.6h-0.6zM309.4 153.6h0.6v0.6h-0.6zM310.0 168.4h0.6v0.6h-0.6zM316.7 162.9h0.6v0.6h-0.6zM325.4 156.6h0.6v0.6h-0.6zM314.9 157.2h0.6v0.6h-0.6zM317.6 147.4h0.6v0.6h-0.6zM327.0 161.7h0.6v0.6h-0.6zM323.4 166.4h0.6v0.6h-0.6zM308.8 127.1h0.6v0.6h-0.6zM332.3 168.1h0.6v0.6h-0.6zM323.5 150.9h0.6v0.6h-0.6zM329.2 146.7h0.6v0.6h-0.6zM308.4 167.3h0.6v0.6h-0.6zM333.9 144.0h0.6v0.6h-0.6zM316.2 151.0h0.6v0.6h-0.6zM318.6 168.0h0.6v0.6h-0.6zM329.0 150.2h0.6v0.6h-0.6zM337.2 160.1h0.6v0.6h-0.6zM322.8 128.4h0.6v0.6h-0.6zM339.6 165.9h0.6v0.6h-0.6zM340.0 155.3h0.6v0.6h-0.6zM331.3 147.7h0.6v0.6h-0.6zM335.7 160.3h0.6v0.6h-0.6zM311.4 145.5h0.6v0.6h-0.6zM338.6 136.4h0.6v0.6h-0.6zM321.1 168.5h0.6v0.6h-0.6zM305.7 166.7h0.6v0.6h-0.6zM343.7 156.7h0.6v0.6h-0.6zM326.2 162.1h0.6v0.6h-0.6zM321.3 158.8h0.6v0.6h-0.6z"/>
<path fill="rgb(168,168,168)" d="M312.1 122.2h0.6v0.6h-0.6zM334.0 117.0h0.6v0.6h-0.6zM304.3 116.0h0.6v0.6h-0.6zM309.3 123.4h0.6v0.6h-0.6zM301.2 117.6h0.6v0.6h-0.6zM337.1 119.1h0.6v0.6h-0.6zM310.7 121.8h0.6v0.6h-0.6zM305.5 121.1h0.6v0.6h-0.6zM316.4 121.9h0.6v0.6h-0.6zM321.9 122.9h0.6v0.6h-0.6zM311.3 120.5h0.6v0.6h-0.6zM300.9 118.4h0.6v0.6h-0.6zM319.6 115.2h0.6v0.6h-0.6zM294.3 121.4h0.6v0.6h-0.6zM298.2 122.1h0.6v0.6h-0.6zM316.9 123.3h0.6v0.6h-0.6zM315.6 114.6h0.6v0.6h-0.6zM328.8 122.9h0.6v0.6h-0.6zM298.6 121.4h0.6v0.6h-0.6zM303.0 124.7h0.6v0.6h-0.6zM314.8 119.8h0.6v0.6h-0.6zM316.0 114.1h0.6v0.6h-0.6zM312.8 125.1h0.6v0.6h-0.6zM310.8 118.2h0.6v0.6h-0.6zM320.1 123.9h0.6v0.6h-0.6zM293.7 124.6h0.6v0.6h-0.6z"/>
<path fill="rgb(180,180,180)" d="M314.5 119.7h0.6v0.6h-0.6zM330.9 120.0h0.6v0.6h-0.6zM315.1 119.0h0.6v0.6h-0.6zM339.7 127.0h0.6v0.6h-0.6zM310.4 120.4h0.6v0.6h-0.6zM317.2 118.4h0.6v0.6h-0.6zM330.9 122.5h0.6v0.6h-0.6zM319.4 116.4h0.6v0.6h-0.6zM312.6 114.7h0.6v0.6h-0.6zM308.7 114.6h0.6v0.6h-0.6zM333.9 119.5h0.6v0.6h-0.6zM319.2 122.8h0.6v0.6h-0.6zM328.9 121.8h0.6v0.6h-0.6zM318.6 120.4h0.6v0.6h-0.6zM319.3 115.1h0.6v0.6h-0.6zM316.2 128.1h0.6v0.6h-0.6zM317.3 115.4h0.6v0.6h-0.6zM334.9 117.8h0.6v0.6h-0.6zM304.1 118.7h0.6v0.6h-0.6zM317.6 115.2h0.6v0.6h-0.6zM321.6 120.5h0.6v0.6h-0.6zM322.2 119.3h0.6v0.6h-0.6zM310.4 118.7h0.6v0.6h-0.6zM316.1 116.5h0.6v0.6h-0.6zM323.6 125.2h0.6v0.6h-0.6zM312.7 120.2h0.6v0.6h-0.6z"/>
<path fill="rgb(192,192,192)" d="M310.7 125.2h0.6v0.6h-0.6zM320.2 114.1h0.6v0.6h-0.6zM333.3 120.5h0.6v0.6h-0.6zM314.9 122.7h0.6v0.6h-0.6zM306.2 124.0h0.6v0.6h-0.6zM300.0 121.6h0.6v0.6h-0.6zM304.8 118.7h0.6v0.6h-0.6zM317.1 119.9h0.6v0.6h-0.6zM300.7 119.1h0.6v0.6h-0.6zM311.0 114.4h0.6v0.6h-0.6zM328.2 116.9h0.6v0.6h-0.6zM336.3 120.2h0.6v0.6h-0.6zM310.7 122.8h0.6v0.6h-0.6zM322.2 119.1h0.6v0.6h-0.6zM309.5 119.6h0.6v0.6h-0.6zM330.0 121.2h0.6v0.6h-0.6zM328.8 121.5h0.6v0.6h-0.6zM302.9 121.1h0.6v0.6h-0.6zM296.6 119.8h0.6v0.6h-0.6zM331.4 118.7h0.6v0.6h-0.6zM313.1 121.0h0.6v0.6h-0.6zM318.7 119.1h0.6v0.6h-0.6zM325.9 115.3h0.6v0.6h-0.6zM304.7 122.6h0.6v0.6h-0.6zM304.4 119.7h0.6v0.6h-0.6zM315.6 116.9h0.6v0.6h-0.6zM312.2 115.2h0.6v0.6h-0.6zM290.3 118.3h0.6v0.6h-0.6zM337.7 120.6h0.6v0.6h-0.6zM323.6 115.9h0.6v0.6h-0.6zM307.1 122.2h0.6v0.6h-0.6zM320.4 118.0h0.6v0.6h-0.6z"/>
<path fill="rgb(204,204,204)" d="M316.4 121.6h0.6v0.6h-0.6zM326.0 121.9h0.6v0.6h-0.6zM308.5 121.0h0.6v0.6h-0.6zM310.5 117.5h0.6v0.6h-0.6zM304.8 114.5h0.6v0.6h-0.6zM344.1 118.7h0.6v0.6h-0.6zM322.3 117.8h0.6v0.6h-0.6zM308.8 123.3h0.6v0.6h-0.6zM309.4 118.2h0.6v0.6h-0.6zM331.2 120.6h0.6v0.6h-0.6zM314.2 126.0h0.6v0.6h-0.6zM312.1 116.3h0.6v0.6h-0.6zM326.3 119.3h0.6v0.6h-0.6zM341.4 119.8h0.6v0.6h-0.6zM323.4 120.0h0.6v0.6h-0.6zM312.2 121.7h0.6v0.6h-0.6zM319.9 118.4h0.6v0.6h-0.6zM314.0 118.1h0.6v0.6h-0.6zM312.5 122.2h0.6v0.6h-0.6zM321.3 119.4h0.6v0.6h-0.6zM301.6 118.3h0.6v0.6h-0.6z"/>
<path fill="rgb(216,216,216)" d="M312.4 118.3h0.6v0.6h-0.6zM319.6 121.4h0.6v0.6h-0.6zM315.3 119.9h0.6v0.6h-0.6zM301.2 119.2h0.6v0.6h-0.6zM317.2 126.4h0.6v0.6h-0.6zM313.6 118.4h0.6v0.6h-0.6zM312.4 119.2h0.6v0.6h-0.6zM296.8 113.8h0.6v0.6h-0.6z"/>
<path fill="rgb(120,120,120)" d="M330.0 125.6h0.6v0.6h-0.6zM343.5 134.4h0.6v0.6h-0.6zM341.4 126.4h0.6v0.6h-0.6zM318.7 133.6h0.6v0.6h-0.6zM327.7 136.0h0.6v0.6h-0.6zM345.7 123.8h0.6v0.6h-0.6zM329.7 126.9h0.6v0.6h-0.6zM325.1 129.8h0.6v0.6h-0.6zM333.9 123.9h0.6v0.6h-0.6zM315.2 128.1h0.6v0.6h-0.6zM325.0 129.4h0.6v0.6h-0.6zM323.9 136.4h0.6v0.6h-0.6zM341.9 134.5h0.6v0.6h-0.6zM321.1 131.5h0.6v0.6h-0.6zM316.2 128.8h0.6v0.6h-0.6zM318.5 138.6h0.6v0.6h-0.6zM337.2 130.6h0.6v0.6h-0.6zM320.3 129.8h0.6v0.6h-0.6zM330.8 122.6h0.6v0.6h-0.6zM328.3 128.2h0.6v0.6h-0.6zM326.9 122.5h0.6v0.6h-0.6zM315.3 130.7h0.6v0.6h-0.6zM330.0 133.0h0.6v0.6h-0.6zM331.0 134.6h0.6v0.6h-0.6zM316.7 136.5h0.6v0.6h-0.6zM321.7 130.3h0.6v0.6h-0.6zM317.7 126.8h0.6v0.6h-0.6zM322.0 133.8h0.6v0.6h-0.6zM332.1 141.0h0.6v0.6h-0.6zM325.9 127.8h0.6v0.6h-0.6zM339.7 129.5h0.6v0.6h-0.6zM318.4 128.9h0.6v0.6h-0.6zM331.4 128.4h0.6v0.6h-0.6zM319.2 136.6h0.6v0.6h-0.6zM327.5 129.4h0.6v0.6h-0.6zM326.3 130.5h0.6v0.6h-0.6zM315.8 132.5h0.6v0.6h-0.6zM331.5 131.4h0.6v0.6h-0.6zM338.7 132.2h0.6v0.6h-0.6zM323.8 133.9h0.6v0.6h-0.6zM326.1 121.7h0.6v0.6h-0.6zM331.4 134.1h0.6v0.6h-0.6zM316.5 133.5h0.6v0.6h-0.6zM327.8 131.2h0.6v0.6h-0.6zM332.7 132.7h0.6v0.6h-0.6zM331.8 128.4h0.6v0.6h-0.6zM337.7 130.5h0.6v0.6h-0.6zM325.8 132.0h0.6v0.6h-0.6zM326.1 128.1h0.6v0.6h-0.6zM339.9 130.6h0.6v0.6h-0.6zM320.5 132.4h0.6v0.6h-0.6zM328.7 131.3h0.6v0.6h-0.6zM341.8 134.3h0.6v0.6h-0.6zM343.6 129.1h0.6v0.6h-0.6z"/>
<path fill="rgb(132,132,132)" d="M314.7 131.0h0.6v0.6h-0.6zM315.8 134.8h0.6v0.6h-0.6zM321.3 129.8h0.6v0.6h-0.6zM323.3 133.1h0.6v0.6h-0.6zM323.0 133.9h0.6v0.6h-0.6zM324.9 130.3h0.6v0.6h-0.6zM329.6 128.9h0.6v0.6h-0.6zM326.5 131.5h0.6v0.6h-0.6zM328.4 126.0h0.6v0.6h-0.6zM322.5 129.2h0.6v0.6h-0.6zM324.7 133.4h0.6v0.6h-0.6zM323.0 135.1h0.6v0.6h-0.6zM332.4 125.9h0.6v0.6h-0.6zM336.7 133.4h0.6v0.6h-0.6zM326.1 125.1h0.6v0.6h-0.6zM315.8 130.9h0.6v0.6h-0.6zM324.1 134.9h0.6v0.6h-0.6zM343.2 126.6h0.6v0.6h-0.6zM326.3 124.8h0.6v0.6h-0.6zM315.1 130.3h0.6v0.6h-0.6zM317.7 133.8h0.6v0.6h-0.6zM328.7 134.5h0.6v0.6h-0.6zM325.9 133.7h0.6v0.6h-0.6zM324.3 133.2h0.6v0.6h-0.6zM334.2 124.6h0.6v0.6h-0.6zM329.6 132.7h0.6v0.6h-0.6zM320.8 136.2h0.6v0.6h-0.6zM321.3 140.0h0.6v0.6h-0.6zM313.0 129.7h0.6v0.6h-0.6zM332.6 126.8h0.6v0.6h-0.6zM322.4 131.3h0.6v0.6h-0.6zM339.9 132.8h0.6v0.6h-0.6zM325.9 121.7h0.6v0.6h-0.6zM310.9 136.4h0.6v0.6h-0.6zM331.1 137.2h0.6v0.6h-0.6zM326.1 132.1h0.6v0.6h-0.6zM320.3 131.6h0.6v0.6h-0.6zM332.7 130.3h0.6v0.6h-0.6zM323.1 129.9h0.6v0.6h-0.6zM318.8 133.3h0.6v0.6h-0.6zM328.8 131.9h0.6v0.6h-0.6zM323.8 132.6h0.6v0.6h-0.6zM308.2 125.4h0.6v0.6h-0.6zM327.6 130.3h0.6v0.6h-0.6z"/>
<path fill="rgb(144,144,144)" d="M315.9 133.6h0.6v0.6h-0.6zM328.3 129.4h0.6v0.6h-0.6zM310.7 132.1h0.6v0.6h-0.6zM308.4 130.3h0.6v0.6h-0.6zM335.1 123.6h0.6v0.6h-0.6zM332.4 131.8h0.6v0.6h-0.6zM325.3 133.4h0.6v0.6h-0.6zM328.2 125.8h0.6v0.6h-0.6zM325.2 139.2h0.6v0.6h-0.6zM322.2 133.3h0.6v0.6h-0.6zM327.1 132.8h0.6v0.6h-0.6zM326.2 130.6h0.6v0.6h-0.6zM331.9 128.8h0.6v0.6h-0.6zM328.7 131.1h0.6v0.6h-0.6zM314.6 132.2h0.6v0.6h-0.6zM327.6 123.1h0.6v0.6h-0.6zM328.5 129.4h0.6v0.6h-0.6zM306.3 128.0h0.6v0.6h-0.6zM335.4 137.4h0.6v0.6h-0.6zM333.1 133.5h0.6v0.6h-0.6zM321.2 127.1h0.6v0.6h-0.6zM326.3 127.8h0.6v0.6h-0.6zM329.7 135.5h0.6v0.6h-0.6zM326.7 123.0h0.6v0.6h-0.6zM317.7 129.8h0.6v0.6h-0.6zM327.9 133.4h0.6v0.6h-0.6zM321.0 130.9h0.6v0.6h-0.6zM305.3 124.4h0.6v0.6h-0.6zM314.1 127.4h0.6v0.6h-0.6zM336.2 131.4h0.6v0.6h-0.6zM326.5 134.7h0.6v0.6h-0.6zM320.6 130.9h0.6v0.6h-0.6zM318.0 132.7h0.6v0.6h-0.6zM323.4 128.6h0.6v0.6h-0.6zM327.1 121.9h0.6v0.6h-0.6zM329.4 129.6h0.6v0.6h-0.6zM318.9 131.6h0.6v0.6h-0.6zM337.5 135.3h0.6v0.6h-0.6zM318.3 131.8h0.6v0.6h-0.6zM331.0 127.5h0.6v0.6h-0.6zM317.3 122.9h0.6v0.6h-0.6zM312.9 132.1h0.6v0.6h-0.6zM333.5 129.1h0.6v0.6h-0.6zM332.7 127.6h0.6v0.6h-0.6zM315.4 131.3h0.6v0.6h-0.6zM324.1 128.1h0.6v0.6h-0.6zM309.6 134.6h0.6v0.6h-0.6zM328.0 127.2h0.6v0.6h-0.6z"/>
<path fill="rgb(156,156,156)" d="M324.4 127.5h0.6v0.6h-0.6zM325.8 135.5h0.6v0.6h-0.6zM312.7 126.2h0.6v0.6h-0.6zM327.0 133.3h0.6v0.6h-0.6zM336.0 134.4h0.6v0.6h-0.6zM330.6 131.3h0.6v0.6h-0.6zM316.3 134.2h0.6v0.6h-0.6zM334.7 134.6h0.6v0.6h-0.6zM337.9 135.0h0.6v0.6h-0.6zM336.0 122.7h0.6v0.6h-0.6zM314.3 134.9h0.6v0.6h-0.6zM325.4 131.5h0.6v0.6h-0.6zM326.2 136.3h0.6v0.6h-0.6zM327.3 134.2h0.6v0.6h-0.6zM331.9 127.7h0.6v0.6h-0.6zM322.5 133.8h0.6v0.6h-0.6zM323.2 135.8h0.6v0.6h-0.6zM327.9 127.3h0.6v0.6h-0.6zM302.3 124.6h0.6v0.6h-0.6zM333.8 125.2h0.6v0.6h-0.6zM308.0 126.7h0.6v0.6h-0.6zM311.6 131.4h0.6v0.6h-0.6zM326.5 124.3h0.6v0.6h-0.6zM335.0 131.7h0.6v0.6h-0.6zM309.4 134.1h0.6v0.6h-0.6zM333.7 126.7h0.6v0.6h-0.6zM324.1 137.4h0.6v0.6h-0.6zM318.9 132.0h0.6v0.6h-0.6zM340.8 134.1h0.6v0.6h-0.6zM343.3 129.5h0.6v0.6h-0.6zM326.0 131.6h0.6v0.6h-0.6zM328.3 129.3h0.6v0.6h-0.6zM327.2 131.5h0.6v0.6h-0.6zM310.2 130.3h0.6v0.6h-0.6zM319.5 132.0h0.6v0.6h-0.6zM333.1 128.1h0.6v0.6h-0.6zM314.0 138.0h0.6v0.6h-0.6zM325.3 128.6h0.6v0.6h-0.6zM325.8 130.6h0.6v0.6h-0.6zM311.1 127.9h0.6v0.6h-0.6zM319.9 128.9h0.6v0.6h-0.6zM324.9 126.1h0.6v0.6h-0.6zM327.3 133.1h0.6v0.6h-0.6zM330.2 131.1h0.6v0.6h-0.6zM325.3 125.4h0.6v0.6h-0.6z"/>
<path fill="rgb(168,168,168)" d="M317.1 137.9h0.6v0.6h-0.6zM325.4 127.3h0.6v0.6h-0.6zM322.5 132.0h0.6v0.6h-0.6zM307.9 133.3h0.6v0.6h-0.6zM327.6 130.3h0.6v0.6h-0.6zM314.8 126.7h0.6v0.6h-0.6zM325.1 131.7h0.6v0.6h-0.6zM341.6 131.0h0.6v0.6h-0.6zM323.5 132.5h0.6v0.6h-0.6zM320.3 132.6h0.6v0.6h-0.6zM332.3 130.7h0.6v0.6h-0.6zM321.0 129.8h0.6v0.6h-0.6zM321.4 128.4h0.6v0.6h-0.6zM339.2 134.1h0.6v0.6h-0.6zM307.3 125.0h0.6v0.6h-0.6zM334.1 137.7h0.6v0.6h-0.6zM320.9 133.5h0.6v0.6h-0.6zM318.1 124.8h0.6v0.6h-0.6zM327.9 129.5h0.6v0.6h-0.6zM327.4 135.2h0.6v0.6h-0.6zM326.2 133.6h0.6v0.6h-0.6zM333.9 135.7h0.6v0.6h-0.6zM328.2 139.5h0.6v0.6h-0.6zM324.2 129.7h0.6v0.6h-0.6zM330.1 129.9h0.6v0.6h-0.6zM326.4 129.7h0.6v0.6h-0.6zM309.8 124.2h0.6v0.6h-0.6zM341.4 121.3h0.6v0.6h-0.6zM324.3 128.0h0.6v0.6h-0.6zM316.2 136.2h0.6v0.6h-0.6zM331.4 130.2h0.6v0.6h-0.6zM319.2 134.8h0.6v0.6h-0.6zM333.2 128.7h0.6v0.6h-0.6zM330.3 132.9h0.6v0.6h-0.6zM313.1 129.8h0.6v0.6h-0.6zM319.3 123.2h0.6v0.6h-0.6zM327.3 129.8h0.6v0.6h-0.6zM329.2 136.2h0.6v0.6h-0.6zM340.2 136.1h0.6v0.6h-0.6zM319.3 131.8h0.6v0.6h-0.6zM327.6 131.5h0.6v0.6h-0.6zM326.7 131.4h0.6v0.6h-0.6zM338.5 125.9h0.6v0.6h-0.6zM319.9 133.6h0.6v0.6h-0.6zM321.9 126.8h0.6v0.6h-0.6zM318.3 130.8h0.6v0.6h-0.6zM303.5 135.8h0.6v0.6h-0.6zM323.1 132.9h0.6v0.6h-0.6zM339.7 135.4h0.6v0.6h-0.6zM333.7 132.9h0.6v0.6h-0.6zM328.2 128.0h0.6v0.6h-0.6zM327.6 131.6h0.6v0.6h-0.6z"/>
<path fill="rgb(180,180,180)" d="M311.8 129.4h0.6v0.6h-0.6zM319.0 132.6h0.6v0.6h-0.6zM326.9 132.9h0.6v0.6h-0.6zM314.1 130.2h0.6v0.6h-0.6zM326.5 128.2h0.6v0.6h-0.6zM327.7 131.4h0.6v0.6h-0.6zM323.0 135.1h0.6v0.6h-0.6zM324.7 136.2h0.6v0.6h-0.6zM325.4 133.3h0.6v0.6h-0.6zM329.6 127.8h0.6v0.6h-0.6zM313.5 132.2h0.6v0.6h-0.6zM324.2 134.0h0.6v0.6h-0.6zM317.5 130.2h0.6v0.6h-0.6zM315.2 139.3h0.6v0.6h-0.6zM334.7 127.2h0.6v0.6h-0.6zM325.2 130.5h0.6v0.6h-0.6zM319.1 133.0h0.6v0.6h-0.6zM309.1 128.4h0.6v0.6h-0.6zM320.5 133.4h0.6v0.6h-0.6zM330.7 125.8h0.6v0.6h-0.6zM313.6 135.6h0.6v0.6h-0.6zM321.7 127.2h0.6v0.6h-0.6zM336.7 135.1h0.6v0.6h-0.6zM316.8 131.8h0.6v0.6h-0.6zM313.6 131.4h0.6v0.6h-0.6zM315.2 138.5h0.6v0.6h-0.6zM332.7 133.7h0.6v0.6h-0.6zM311.5 136.4h0.6v0.6h-0.6zM335.2 135.2h0.6v0.6h-0.6zM329.5 130.6h0.6v0.6h-0.6zM326.7 133.5h0.6v0.6h-0.6zM322.3 133.3h0.6v0.6h-0.6zM319.0 130.1h0.6v0.6h-0.6zM331.6 134.8h0.6v0.6h-0.6zM335.5 134.6h0.6v0.6h-0.6zM325.6 126.6h0.6v0.6h-0.6zM330.3 124.6h0.6v0.6h-0.6zM316.7 128.7h0.6v0.6h-0.6zM324.7 133.0h0.6v0.6h-0.6zM326.8 132.2h0.6v0.6h-0.6zM324.1 131.3h0.6v0.6h-0.6zM338.7 125.3h0.6v0.6h-0.6zM314.7 133.7h0.6v0.6h-0.6zM310.8 126.1h0.6v0.6h-0.6zM334.6 131.7h0.6v0.6h-0.6zM327.2 131.8h0.6v0.6h-0.6zM311.9 126.4h0.6v0.6h-0.6zM320.0 122.8h0.6v0.6h-0.6zM334.1 130.4h0.6v0.6h-0.6zM306.3 127.4h0.6v0.6h-0.6zM334.3 136.7h0.6v0.6h-0.6zM323.5 132.7h0.6v0.6h-0.6zM318.8 129.9h0.6v0.6h-0.6zM340.8 128.8h0.6v0.6h-0.6zM343.1 130.1h0.6v0.6h-0.6z"/>
<path fill="rgb(192,192,192)" d="M322.1 129.5h0.6v0.6h-0.6zM324.8 126.3h0.6v0.6h-0.6zM343.5 125.0h0.6v0.6h-0.6zM331.7 129.7h0.6v0.6h-0.6zM308.1 132.5h0.6v0.6h-0.6zM330.1 134.0h0.6v0.6h-0.6zM315.9 129.0h0.6v0.6h-0.6zM327.8 126.2h0.6v0.6h-0.6zM314.0 132.1h0.6v0.6h-0.6zM317.6 134.2h0.6v0.6h-0.6zM338.6 128.9h0.6v0.6h-0.6zM332.1 128.9h0.6v0.6h-0.6zM322.2 135.0h0.6v0.6h-0.6zM323.0 132.7h0.6v0.6h-0.6zM320.0 127.2h0.6v0.6h-0.6zM319.7 132.1h0.6v0.6h-0.6zM325.5 138.9h0.6v0.6h-0.6zM328.8 132.0h0.6v0.6h-0.6zM334.3 127.4h0.6v0.6h-0.6zM322.9 123.4h0.6v0.6h-0.6zM323.6 130.2h0.6v0.6h-0.6zM324.1 125.1h0.6v0.6h-0.6zM308.2 130.0h0.6v0.6h-0.6zM329.7 130.5h0.6v0.6h-0.6zM327.2 132.4h0.6v0.6h-0.6zM343.6 129.8h0.6v0.6h-0.6zM332.3 137.3h0.6v0.6h-0.6zM332.6 130.0h0.6v0.6h-0.6zM322.8 135.8h0.6v0.6h-0.6zM337.2 118.8h0.6v0.6h-0.6zM317.4 129.0h0.6v0.6h-0.6zM315.8 132.2h0.6v0.6h-0.6zM325.6 136.1h0.6v0.6h-0.6zM334.7 131.5h0.6v0.6h-0.6zM308.9 126.1h0.6v0.6h-0.6zM342.4 129.2h0.6v0.6h-0.6zM308.6 130.7h0.6v0.6h-0.6zM336.6 135.2h0.6v0.6h-0.6zM329.6 123.0h0.6v0.6h-0.6zM318.6 132.3h0.6v0.6h-0.6zM314.9 133.7h0.6v0.6h-0.6z"/>
<path fill="rgb(204,204,204)" d="M321.4 133.8h0.6v0.6h-0.6zM336.5 129.2h0.6v0.6h-0.6zM306.9 128.7h0.6v0.6h-0.6zM333.9 127.8h0.6v0.6h-0.6zM321.6 132.3h0.6v0.6h-0.6zM331.6 125.5h0.6v0.6h-0.6zM327.5 132.8h0.6v0.6h-0.6zM322.8 134.0h0.6v0.6h-0.6z"/>
<path fill="rgb(144,144,144)" d="M321.7 152.7h0.6v0.6h-0.6zM333.6 138.7h0.6v0.6h-0.6zM319.2 144.6h0.6v0.6h-0.6zM338.8 159.7h0.6v0.6h-0.6zM313.9 165.7h0.6v0.6h-0.6zM303.9 132.9h0.6v0.6h-0.6zM331.0 133.3h0.6v0.6h-0.6zM338.7 122.2h0.6v0.6h-0.6zM327.0 144.0h0.6v0.6h-0.6zM316.6 167.8h0.6v0.6h-0.6zM336.8 158.0h0.6v0.6h-0.6zM330.5 163.3h0.6v0.6h-0.6zM322.7 123.3h0.6v0.6h-0.6zM322.5 145.2h0.6v0.6h-0.6zM301.6 130.0h0.6v0.6h-0.6zM305.4 146.6h0.6v0.6h-0.6zM300.9 151.1h0.6v0.6h-0.6z"/>
<path fill="rgb(156,156,156)" d="M309.4 159.6h0.6v0.6h-0.6zM305.5 134.9h0.6v0.6h-0.6zM330.8 142.9h0.6v0.6h-0.6zM308.3 156.0h0.6v0.6h-0.6zM330.7 142.6h0.6v0.6h-0.6zM324.4 141.6h0.6v0.6h-0.6zM328.4 137.5h0.6v0.6h-0.6zM341.0 153.8h0.6v0.6h-0.6zM320.1 141.0h0.6v0.6h-0.6zM319.6 156.0h0.6v0.6h-0.6zM320.1 163.2h0.6v0.6h-0.6zM342.0 140.0h0.6v0.6h-0.6zM322.8 120.2h0.6v0.6h-0.6zM303.6 147.9h0.6v0.6h-0.6zM328.1 150.5h0.6v0.6h-0.6zM325.7 152.4h0.6v0.6h-0.6zM312.9 160.0h0.6v0.6h-0.6zM334.4 144.5h0.6v0.6h-0.6zM329.3 161.2h0.6v0.6h-0.6zM336.4 145.9h0.6v0.6h-0.6zM336.8 166.6h0.6v0.6h-0.6zM298.8 161.6h0.6v0.6h-0.6zM329.7 150.5h0.6v0.6h-0.6zM324.7 134.7h0.6v0.6h-0.6zM322.3 159.3h0.6v0.6h-0.6zM330.6 154.5h0.6v0.6h-0.6zM330.5 154.5h0.6v0.6h-0.6zM330.5 159.5h0.6v0.6h-0.6zM331.8 157.6h0.6v0.6h-0.6zM318.2 133.3h0.6v0.6h-0.6z"/>
<path fill="rgb(168,168,168)" d="M303.6 143.0h0.6v0.6h-0.6zM333.7 142.4h0.6v0.6h-0.6zM319.3 151.5h0.6v0.6h-0.6zM328.1 147.0h0.6v0.6h-0.6zM318.3 143.1h0.6v0.6h-0.6zM309.7 158.9h0.6v0.6h-0.6zM324.8 153.3h0.6v0.6h-0.6zM331.3 138.4h0.6v0.6h-0.6zM304.5 146.2h0.6v0.6h-0.6zM339.4 120.7h0.6v0.6h-0.6zM316.2 142.4h0.6v0.6h-0.6zM310.0 142.9h0.6v0.6h-0.6zM339.7 131.4h0.6v0.6h-0.6zM321.2 144.5h0.6v0.6h-0.6zM320.0 145.6h0.6v0.6h-0.6zM343.2 153.2h0.6v0.6h-0.6zM346.2 141.2h0.6v0.6h-0.6zM297.4 144.8h0.6v0.6h-0.6zM305.1 137.3h0.6v0.6h-0.6zM311.1 161.8h0.6v0.6h-0.6zM313.6 139.2h0.6v0.6h-0.6zM310.2 141.8h0.6v0.6h-0.6zM318.7 137.7h0.6v0.6h-0.6z"/>
<path fill="rgb(180,180,180)" d="M339.8 146.4h0.6v0.6h-0.6zM344.3 128.7h0.6v0.6h-0.6zM326.7 159.2h0.6v0.6h-0.6zM324.2 159.1h0.6v0.6h-0.6zM339.0 140.2h0.6v0.6h-0.6zM332.9 136.4h0.6v0.6h-0.6zM306.2 160.3h0.6v0.6h-0.6zM334.6 154.4h0.6v0.6h-0.6zM308.7 164.6h0.6v0.6h-0.6zM341.5 146.7h0.6v0.6h-0.6zM313.5 121.8h0.6v0.6h-0.6zM310.8 147.4h0.6v0.6h-0.6zM337.5 146.4h0.6v0.6h-0.6zM314.3 169.7h0.6v0.6h-0.6zM327.0 156.0h0.6v0.6h-0.6zM307.3 131.3h0.6v0.6h-0.6zM321.2 163.2h0.6v0.6h-0.6zM333.1 139.0h0.6v0.6h-0.6zM321.3 143.7h0.6v0.6h-0.6zM305.9 130.6h0.6v0.6h-0.6zM346.4 152.1h0.6v0.6h-0.6zM322.2 154.8h0.6v0.6h-0.6zM314.4 156.5h0.6v0.6h-0.6zM328.9 141.0h0.6v0.6h-0.6z"/>
<path fill="rgb(192,192,192)" d="M309.2 145.1h0.6v0.6h-0.6zM340.2 156.3h0.6v0.6h-0.6zM335.2 151.1h0.6v0.6h-0.6zM325.9 167.7h0.6v0.6h-0.6zM338.7 148.4h0.6v0.6h-0.6zM332.0 130.4h0.6v0.6h-0.6zM340.0 160.4h0.6v0.6h-0.6zM338.9 155.9h0.6v0.6h-0.6zM305.3 135.9h0.6v0.6h-0.6zM310.6 118.5h0.6v0.6h-0.6zM334.5 158.1h0.6v0.6h-0.6zM311.8 134.8h0.6v0.6h-0.6zM331.6 137.3h0.6v0.6h-0.6zM305.7 154.3h0.6v0.6h-0.6zM312.8 142.1h0.6v0.6h-0.6zM310.9 146.6h0.6v0.6h-0.6zM324.5 140.4h0.6v0.6h-0.6zM313.4 139.5h0.6v0.6h-0.6zM300.9 165.6h0.6v0.6h-0.6zM315.3 117.9h0.6v0.6h-0.6zM320.9 142.6h0.6v0.6h-0.6zM321.4 154.4h0.6v0.6h-0.6zM317.2 140.3h0.6v0.6h-0.6zM344.8 153.6h0.6v0.6h-0.6zM303.6 145.3h0.6v0.6h-0.6z"/>
<path fill="rgb(204,204,204)" d="M306.9 153.8h0.6v0.6h-0.6zM319.4 160.5h0.6v0.6h-0.6zM315.7 137.8h0.6v0.6h-0.6zM338.6 118.6h0.6v0.6h-0.6zM326.2 140.3h0.6v0.6h-0.6zM328.4 126.8h0.6v0.6h-0.6zM329.0 119.0h0.6v0.6h-0.6zM322.2 128.0h0.6v0.6h-0.6zM335.0 154.8h0.6v0.6h-0.6zM311.4 140.4h0.6v0.6h-0.6zM325.4 149.7h0.6v0.6h-0.6zM335.2 136.6h0.6v0.6h-0.6zM308.1 147.2h0.6v0.6h-0.6zM308.3 120.1h0.6v0.6h-0.6zM326.9 163.0h0.6v0.6h-0.6zM327.2 156.2h0.6v0.6h-0.6zM342.2 134.2h0.6v0.6h-0.6zM329.1 157.7h0.6v0.6h-0.6zM340.4 157.4h0.6v0.6h-0.6zM317.1 123.7h0.6v0.6h-0.6zM302.2 154.9h0.6v0.6h-0.6zM324.6 152.5h0.6v0.6h-0.6zM319.7 142.1h0.6v0.6h-0.6zM323.3 126.0h0.6v0.6h-0.6z"/>
<path d="M 310.20,137.00 C 311.70,130.00 318.00,128.30 325.00,128.30 C 331.00,128.30 334.50,130.00 334.50,132.50 C 334.50,135.50 330.00,137.80 323.00,138.00 C 318.00,138.20 314.50,138.30 311.20,140.00 Z" fill="#fbfbfb" stroke="#111" stroke-width="1.6" stroke-linejoin="round" stroke-linecap="round"/>
<path d="M 313.00,132.30 C 314.70,129.30 321.00,128.70 326.00,128.80 C 330.00,128.90 333.00,129.70 333.70,131.50" fill="none" stroke="#111" stroke-width="2.4" stroke-linejoin="round" stroke-linecap="round"/>
<ellipse cx="324.00" cy="132.90" rx="5.60" ry="1.70" fill="#f4f4f4" stroke="#151515" stroke-width="1.1"/>
<path d="M 313.70,135.70 C 317.70,135.10 325.70,135.20 331.20,134.00" fill="none" stroke="#333" stroke-width="0.8" stroke-linejoin="round" stroke-linecap="round"/>
<path d="M307.10,130.10 C310.70,130.10 311.50,136.10 311.10,143.60 C310.70,145.60 311.00,149.60 310.80,155.60 C310.60,162.80 309.10,164.80 307.10,164.80 C305.10,164.80 303.40,162.80 303.30,155.60 C303.20,149.60 303.60,145.60 303.20,143.60 C302.70,136.10 303.50,130.10 307.10,130.10 Z" fill="#b5b5b5" stroke="#111" stroke-width="1.3" stroke-linejoin="round" stroke-linecap="round"/>
<ellipse cx="307.20" cy="137.70" rx="2.60" ry="5.60" fill="#a8a8a8" stroke="#2a2a2a" stroke-width="0.7"/>
<ellipse cx="307.00" cy="138.30" rx="1.60" ry="3.10" fill="#d8d8d8" stroke="#333" stroke-width="0.6"/>
<ellipse cx="306.90" cy="138.60" rx="1.10" ry="1.70" fill="#111"/>
<ellipse cx="307.10" cy="154.00" rx="2.80" ry="9.80" fill="#262626" stroke="#111" stroke-width="0.9"/>
<ellipse cx="307.10" cy="153.70" rx="1.20" ry="7.60" fill="#6a6a6a" stroke="#151515" stroke-width="0.6"/>
<ellipse cx="307.20" cy="153.50" rx="0.40" ry="5.60" fill="#1a1a1a"/>
</g>
<g clip-path="url(#c37047)">
<rect x="379.40" y="53.60" width="26.20" height="33.60" fill="none" stroke="#8c8c8c" stroke-width="0.7"/>
<rect x="405.60" y="54.60" width="21.90" height="32.60" fill="none" stroke="#8c8c8c" stroke-width="0.7"/>
<ellipse cx="400.60" cy="71.10" rx="20.00" ry="11.00" fill="url(#hz9)"/>
<path fill="rgb(120,120,120)" d="M395.8 63.1h0.6v0.6h-0.6zM415.7 79.4h0.6v0.6h-0.6zM405.7 67.6h0.6v0.6h-0.6zM407.6 73.5h0.6v0.6h-0.6zM393.3 70.5h0.6v0.6h-0.6zM402.2 74.2h0.6v0.6h-0.6zM388.4 71.9h0.6v0.6h-0.6zM390.9 75.8h0.6v0.6h-0.6zM403.0 73.2h0.6v0.6h-0.6zM393.8 71.3h0.6v0.6h-0.6zM396.6 67.4h0.6v0.6h-0.6zM401.9 61.7h0.6v0.6h-0.6zM411.6 71.4h0.6v0.6h-0.6zM408.9 74.9h0.6v0.6h-0.6zM382.8 76.1h0.6v0.6h-0.6zM404.9 65.1h0.6v0.6h-0.6zM386.8 66.1h0.6v0.6h-0.6zM389.5 63.4h0.6v0.6h-0.6zM396.4 66.6h0.6v0.6h-0.6zM385.1 71.3h0.6v0.6h-0.6zM411.4 72.6h0.6v0.6h-0.6zM389.9 66.4h0.6v0.6h-0.6zM407.1 74.3h0.6v0.6h-0.6zM409.6 71.8h0.6v0.6h-0.6zM394.0 74.6h0.6v0.6h-0.6zM400.4 66.6h0.6v0.6h-0.6zM396.9 68.4h0.6v0.6h-0.6zM391.1 77.2h0.6v0.6h-0.6zM392.7 76.1h0.6v0.6h-0.6zM409.0 71.0h0.6v0.6h-0.6zM401.6 68.5h0.6v0.6h-0.6zM413.4 65.4h0.6v0.6h-0.6zM387.5 64.0h0.6v0.6h-0.6zM405.6 72.1h0.6v0.6h-0.6zM409.3 72.5h0.6v0.6h-0.6z"/>
<path fill="rgb(132,132,132)" d="M391.9 74.4h0.6v0.6h-0.6zM401.5 72.1h0.6v0.6h-0.6zM400.2 79.2h0.6v0.6h-0.6zM401.6 72.5h0.6v0.6h-0.6zM387.9 73.9h0.6v0.6h-0.6zM414.5 76.7h0.6v0.6h-0.6zM401.2 78.3h0.6v0.6h-0.6zM400.3 74.0h0.6v0.6h-0.6zM401.9 72.7h0.6v0.6h-0.6zM394.1 69.7h0.6v0.6h-0.6zM407.4 74.9h0.6v0.6h-0.6zM394.4 67.7h0.6v0.6h-0.6zM400.4 73.5h0.6v0.6h-0.6zM403.3 72.5h0.6v0.6h-0.6zM405.1 71.2h0.6v0.6h-0.6zM396.9 72.5h0.6v0.6h-0.6zM396.6 76.4h0.6v0.6h-0.6zM398.6 66.6h0.6v0.6h-0.6zM395.3 79.7h0.6v0.6h-0.6zM391.2 63.6h0.6v0.6h-0.6zM412.3 70.7h0.6v0.6h-0.6zM398.1 58.3h0.6v0.6h-0.6zM392.6 66.7h0.6v0.6h-0.6zM420.0 66.6h0.6v0.6h-0.6zM407.5 69.0h0.6v0.6h-0.6zM398.3 76.8h0.6v0.6h-0.6zM421.6 63.2h0.6v0.6h-0.6z"/>
<path fill="rgb(144,144,144)" d="M405.1 75.1h0.6v0.6h-0.6zM399.8 71.8h0.6v0.6h-0.6zM403.7 65.7h0.6v0.6h-0.6zM402.2 81.2h0.6v0.6h-0.6zM416.9 81.8h0.6v0.6h-0.6zM396.6 68.2h0.6v0.6h-0.6zM404.6 69.5h0.6v0.6h-0.6zM395.9 70.9h0.6v0.6h-0.6zM394.4 75.4h0.6v0.6h-0.6zM404.4 73.0h0.6v0.6h-0.6zM394.7 66.7h0.6v0.6h-0.6zM417.5 67.4h0.6v0.6h-0.6zM398.0 69.7h0.6v0.6h-0.6zM390.9 67.0h0.6v0.6h-0.6zM401.6 66.1h0.6v0.6h-0.6zM398.9 66.6h0.6v0.6h-0.6zM392.3 74.3h0.6v0.6h-0.6zM401.6 71.6h0.6v0.6h-0.6zM413.6 75.7h0.6v0.6h-0.6zM407.8 70.1h0.6v0.6h-0.6zM418.7 74.6h0.6v0.6h-0.6zM393.3 76.7h0.6v0.6h-0.6zM398.4 67.8h0.6v0.6h-0.6zM409.5 69.1h0.6v0.6h-0.6zM408.1 73.4h0.6v0.6h-0.6zM391.9 77.3h0.6v0.6h-0.6zM410.7 72.5h0.6v0.6h-0.6zM389.9 72.0h0.6v0.6h-0.6zM407.3 71.3h0.6v0.6h-0.6zM407.1 79.9h0.6v0.6h-0.6zM413.0 67.1h0.6v0.6h-0.6zM404.5 69.9h0.6v0.6h-0.6zM390.6 79.7h0.6v0.6h-0.6zM389.5 69.5h0.6v0.6h-0.6z"/>
<path fill="rgb(156,156,156)" d="M394.8 72.4h0.6v0.6h-0.6zM386.9 80.5h0.6v0.6h-0.6zM406.5 64.5h0.6v0.6h-0.6zM391.4 61.3h0.6v0.6h-0.6zM415.4 69.1h0.6v0.6h-0.6zM399.5 67.4h0.6v0.6h-0.6zM380.1 74.3h0.6v0.6h-0.6zM403.1 66.0h0.6v0.6h-0.6zM408.8 71.2h0.6v0.6h-0.6zM406.1 60.1h0.6v0.6h-0.6zM403.3 73.6h0.6v0.6h-0.6zM400.3 74.5h0.6v0.6h-0.6zM409.0 69.7h0.6v0.6h-0.6zM409.7 74.8h0.6v0.6h-0.6zM412.0 70.9h0.6v0.6h-0.6zM386.0 66.6h0.6v0.6h-0.6zM408.2 76.0h0.6v0.6h-0.6zM394.1 73.7h0.6v0.6h-0.6zM414.0 67.7h0.6v0.6h-0.6zM390.4 74.1h0.6v0.6h-0.6zM399.0 74.5h0.6v0.6h-0.6zM392.0 75.5h0.6v0.6h-0.6zM396.5 69.4h0.6v0.6h-0.6zM405.0 64.9h0.6v0.6h-0.6zM413.0 71.8h0.6v0.6h-0.6zM398.0 63.7h0.6v0.6h-0.6zM386.9 67.4h0.6v0.6h-0.6zM408.9 74.8h0.6v0.6h-0.6zM413.4 64.1h0.6v0.6h-0.6zM406.2 58.7h0.6v0.6h-0.6zM387.8 62.3h0.6v0.6h-0.6zM417.4 65.0h0.6v0.6h-0.6zM400.6 69.9h0.6v0.6h-0.6zM400.6 59.3h0.6v0.6h-0.6zM400.8 73.3h0.6v0.6h-0.6zM387.1 64.6h0.6v0.6h-0.6zM401.4 68.6h0.6v0.6h-0.6zM403.5 63.0h0.6v0.6h-0.6z"/>
<path fill="rgb(168,168,168)" d="M383.7 62.3h0.6v0.6h-0.6zM388.9 68.1h0.6v0.6h-0.6zM398.2 68.7h0.6v0.6h-0.6zM405.6 73.3h0.6v0.6h-0.6zM392.6 60.3h0.6v0.6h-0.6zM397.2 78.1h0.6v0.6h-0.6zM389.7 66.5h0.6v0.6h-0.6zM394.2 61.8h0.6v0.6h-0.6zM398.3 74.5h0.6v0.6h-0.6zM400.0 71.2h0.6v0.6h-0.6zM395.2 78.1h0.6v0.6h-0.6zM380.8 73.6h0.6v0.6h-0.6zM391.0 67.9h0.6v0.6h-0.6zM409.0 77.0h0.6v0.6h-0.6zM402.7 69.5h0.6v0.6h-0.6zM390.1 67.9h0.6v0.6h-0.6zM414.1 62.9h0.6v0.6h-0.6zM410.5 66.6h0.6v0.6h-0.6zM405.0 64.2h0.6v0.6h-0.6zM406.7 68.5h0.6v0.6h-0.6zM417.2 72.9h0.6v0.6h-0.6zM409.7 69.4h0.6v0.6h-0.6zM401.0 79.0h0.6v0.6h-0.6zM406.2 74.7h0.6v0.6h-0.6zM401.9 69.0h0.6v0.6h-0.6zM387.5 61.2h0.6v0.6h-0.6zM405.0 70.1h0.6v0.6h-0.6zM417.7 66.3h0.6v0.6h-0.6zM413.7 69.9h0.6v0.6h-0.6zM388.3 64.6h0.6v0.6h-0.6zM407.7 70.9h0.6v0.6h-0.6zM398.5 68.2h0.6v0.6h-0.6zM411.7 81.0h0.6v0.6h-0.6zM406.7 64.8h0.6v0.6h-0.6zM403.0 70.0h0.6v0.6h-0.6zM398.3 67.2h0.6v0.6h-0.6zM405.4 69.3h0.6v0.6h-0.6zM401.4 63.6h0.6v0.6h-0.6zM400.8 74.6h0.6v0.6h-0.6zM402.2 74.3h0.6v0.6h-0.6z"/>
<path fill="rgb(180,180,180)" d="M397.6 72.2h0.6v0.6h-0.6zM411.0 71.0h0.6v0.6h-0.6zM393.1 65.9h0.6v0.6h-0.6zM416.6 63.8h0.6v0.6h-0.6zM409.2 71.3h0.6v0.6h-0.6zM396.5 76.8h0.6v0.6h-0.6zM400.6 69.0h0.6v0.6h-0.6zM405.9 77.0h0.6v0.6h-0.6zM410.3 60.6h0.6v0.6h-0.6zM416.9 66.4h0.6v0.6h-0.6zM408.7 62.2h0.6v0.6h-0.6zM396.4 69.1h0.6v0.6h-0.6zM416.5 68.7h0.6v0.6h-0.6zM386.1 71.3h0.6v0.6h-0.6zM400.2 72.2h0.6v0.6h-0.6zM397.9 68.0h0.6v0.6h-0.6zM410.3 74.3h0.6v0.6h-0.6zM416.1 75.9h0.6v0.6h-0.6zM401.3 68.1h0.6v0.6h-0.6zM415.7 62.2h0.6v0.6h-0.6zM391.6 64.9h0.6v0.6h-0.6zM404.3 74.3h0.6v0.6h-0.6zM418.5 71.2h0.6v0.6h-0.6zM410.1 68.7h0.6v0.6h-0.6zM396.1 78.5h0.6v0.6h-0.6zM397.0 67.1h0.6v0.6h-0.6zM403.3 68.3h0.6v0.6h-0.6zM400.3 76.1h0.6v0.6h-0.6zM403.0 73.9h0.6v0.6h-0.6zM403.3 68.7h0.6v0.6h-0.6zM393.2 67.1h0.6v0.6h-0.6zM397.1 67.2h0.6v0.6h-0.6zM402.6 71.1h0.6v0.6h-0.6zM404.9 73.0h0.6v0.6h-0.6zM395.9 68.5h0.6v0.6h-0.6zM417.5 71.2h0.6v0.6h-0.6zM401.7 70.8h0.6v0.6h-0.6zM400.5 72.1h0.6v0.6h-0.6zM390.9 78.3h0.6v0.6h-0.6z"/>
<path fill="rgb(192,192,192)" d="M419.2 64.5h0.6v0.6h-0.6zM399.3 63.1h0.6v0.6h-0.6zM411.9 74.2h0.6v0.6h-0.6zM403.7 71.5h0.6v0.6h-0.6zM392.8 67.6h0.6v0.6h-0.6zM386.1 67.5h0.6v0.6h-0.6zM402.3 77.1h0.6v0.6h-0.6zM385.3 70.3h0.6v0.6h-0.6zM401.1 65.1h0.6v0.6h-0.6zM394.6 59.7h0.6v0.6h-0.6zM412.2 76.9h0.6v0.6h-0.6zM416.7 66.6h0.6v0.6h-0.6zM395.8 72.1h0.6v0.6h-0.6zM394.9 64.8h0.6v0.6h-0.6zM403.9 68.4h0.6v0.6h-0.6zM396.2 76.4h0.6v0.6h-0.6zM386.3 75.5h0.6v0.6h-0.6zM400.4 65.0h0.6v0.6h-0.6zM418.4 71.5h0.6v0.6h-0.6zM400.4 76.6h0.6v0.6h-0.6zM406.7 71.8h0.6v0.6h-0.6zM393.2 67.9h0.6v0.6h-0.6zM395.7 64.4h0.6v0.6h-0.6zM400.6 64.4h0.6v0.6h-0.6zM392.4 67.3h0.6v0.6h-0.6zM397.8 73.6h0.6v0.6h-0.6zM414.1 69.9h0.6v0.6h-0.6zM387.2 62.8h0.6v0.6h-0.6zM394.3 73.6h0.6v0.6h-0.6zM399.0 77.7h0.6v0.6h-0.6zM398.8 73.2h0.6v0.6h-0.6zM411.8 74.3h0.6v0.6h-0.6zM407.7 78.8h0.6v0.6h-0.6z"/>
<path fill="rgb(204,204,204)" d="M406.1 69.4h0.6v0.6h-0.6zM401.1 66.9h0.6v0.6h-0.6zM379.9 75.9h0.6v0.6h-0.6zM403.0 69.2h0.6v0.6h-0.6z"/>
<path fill="rgb(156,156,156)" d="M392.3 60.8h0.6v0.6h-0.6zM398.6 75.4h0.6v0.6h-0.6zM421.0 53.2h0.6v0.6h-0.6zM404.8 73.9h0.6v0.6h-0.6zM414.7 67.8h0.6v0.6h-0.6zM380.7 94.9h0.6v0.6h-0.6zM388.3 79.6h0.6v0.6h-0.6zM421.6 87.2h0.6v0.6h-0.6z"/>
<path fill="rgb(168,168,168)" d="M380.2 63.7h0.6v0.6h-0.6zM387.8 91.4h0.6v0.6h-0.6zM378.9 72.4h0.6v0.6h-0.6zM391.0 59.8h0.6v0.6h-0.6zM428.3 71.2h0.6v0.6h-0.6zM402.7 64.5h0.6v0.6h-0.6zM424.9 76.5h0.6v0.6h-0.6zM387.1 82.2h0.6v0.6h-0.6zM381.4 84.0h0.6v0.6h-0.6zM401.9 81.3h0.6v0.6h-0.6zM383.7 63.7h0.6v0.6h-0.6z"/>
<path fill="rgb(180,180,180)" d="M379.9 80.3h0.6v0.6h-0.6zM382.2 64.4h0.6v0.6h-0.6zM408.3 74.1h0.6v0.6h-0.6zM390.7 68.7h0.6v0.6h-0.6zM395.4 72.0h0.6v0.6h-0.6zM397.5 86.5h0.6v0.6h-0.6zM415.8 67.8h0.6v0.6h-0.6zM380.6 59.9h0.6v0.6h-0.6z"/>
<path fill="rgb(192,192,192)" d="M398.9 55.8h0.6v0.6h-0.6zM402.7 73.1h0.6v0.6h-0.6zM407.2 73.7h0.6v0.6h-0.6zM397.9 68.4h0.6v0.6h-0.6zM373.9 81.6h0.6v0.6h-0.6zM423.7 65.6h0.6v0.6h-0.6zM407.4 68.5h0.6v0.6h-0.6zM384.4 83.6h0.6v0.6h-0.6zM410.5 76.2h0.6v0.6h-0.6zM417.7 83.6h0.6v0.6h-0.6zM394.1 64.7h0.6v0.6h-0.6zM405.3 63.9h0.6v0.6h-0.6z"/>
<path fill="rgb(204,204,204)" d="M397.4 76.4h0.6v0.6h-0.6zM402.7 59.9h0.6v0.6h-0.6zM395.8 67.3h0.6v0.6h-0.6zM389.1 72.1h0.6v0.6h-0.6zM387.4 56.3h0.6v0.6h-0.6zM387.5 80.4h0.6v0.6h-0.6zM407.8 80.7h0.6v0.6h-0.6zM414.7 81.8h0.6v0.6h-0.6zM398.9 59.4h0.6v0.6h-0.6zM395.0 75.5h0.6v0.6h-0.6zM377.4 67.0h0.6v0.6h-0.6zM423.9 79.2h0.6v0.6h-0.6zM423.6 89.0h0.6v0.6h-0.6zM378.0 75.6h0.6v0.6h-0.6zM425.3 65.1h0.6v0.6h-0.6z"/>
<path d="M412.0 65.9l-0.5 -3.7M389.7 66.9l-0.9 -3.4M391.6 65.9l-0.7 -1.7M410.8 65.1l1.9 -2.9M396.4 65.4l0.7 -1.4M408.3 65.4l-0.3 -1.6M401.7 65.5l-0.5 -2.0M391.7 66.5l0.4 -1.3M405.6 66.4l-0.2 -2.7M405.1 64.6l-1.7 -2.9M394.6 66.2l-0.7 -2.6M397.1 65.6l-0.4 -3.7M414.7 67.0l0.8 -1.5M407.2 65.2l-0.7 -3.4M388.4 66.8l-1.5 -2.1M408.0 66.5l0.7 -3.0M414.6 66.3l-0.4 -3.2M407.4 65.5l-2.1 -2.8M413.5 65.3l1.3 -2.9M405.4 66.1l0.9 -2.8M397.7 67.1l-0.5 -3.5M405.4 66.6l-1.0 -2.3M394.5 65.4l0.3 -1.3M400.3 65.9l0.2 -1.8M392.3 65.7l-1.7 -3.2M407.3 65.5l-0.1 -3.4M415.1 66.4l-1.5 -2.6M405.2 66.9l0.5 -3.0M399.0 66.6l0.1 -3.5M401.6 65.2l-1.2 -1.8M408.4 65.5l1.7 -2.4M406.4 67.1l-1.4 -3.3M403.3 65.3l1.2 -2.0M402.1 66.0l0.8 -1.7M409.1 65.4l0.0 -1.6M403.1 67.0l-0.7 -2.7M398.7 64.9l-1.2 -2.1M399.4 66.5l1.0 -2.3M393.1 65.4l-0.0 -2.8M407.1 65.0l-1.4 -2.1M386.7 75.4l-2.0 -0.1M386.6 74.0l-1.2 -0.2M385.0 74.6l-2.0 -0.1M384.9 74.2l-1.4 -0.4M386.2 71.5l-2.3 -0.7M387.0 70.3l-2.7 0.3M384.7 70.5l-2.3 1.2M385.6 70.7l-1.6 -0.1M384.9 72.5l-1.8 0.2M384.6 70.5l-1.4 -0.6M385.0 72.7l-3.1 0.7M386.9 70.3l-2.6 0.3M386.8 71.2l-1.4 0.6M385.3 74.8l-2.1 -0.3M385.5 75.0l-2.0 -0.0M387.5 69.2l-2.5 1.3M385.0 74.6l-1.8 -0.4M387.1 68.5l-1.5 0.8" stroke="#8a8a8a" stroke-width="0.45" fill="none"/>
<path d="M383.80,73.40 C383.80,71.32 388.30,67.70 391.60,66.10 C394.90,64.50 400.43,64.15 403.60,63.80 C406.77,63.45 408.30,63.03 410.60,64.00 C412.90,64.97 416.40,67.17 417.40,69.60 C418.40,72.03 418.73,77.05 416.60,78.60 C414.47,80.15 408.77,78.90 404.60,78.90 C400.43,78.90 395.07,79.52 391.60,78.60 C388.13,77.68 383.80,75.48 383.80,73.40 Z" fill="#c4c4c4" stroke="#666" stroke-width="0.6" stroke-linejoin="round" stroke-linecap="round"/>
<path d="M386.01,73.29 C386.01,71.50 389.88,68.39 392.72,67.01 C395.56,65.63 400.32,65.33 403.04,65.03 C405.76,64.73 407.08,64.37 409.06,65.20 C411.04,66.04 414.05,67.93 414.91,70.02 C415.77,72.11 416.05,76.43 414.22,77.76 C412.39,79.09 407.48,78.02 403.90,78.02 C400.32,78.02 395.70,78.55 392.72,77.76 C389.74,76.97 386.01,75.08 386.01,73.29 Z" fill="#a8a8a8" stroke="#333" stroke-width="0.8" stroke-linejoin="round" stroke-linecap="round"/>
<path d="M387.62,73.48 C387.62,71.98 390.86,69.37 393.24,68.22 C395.62,67.07 399.60,66.82 401.88,66.56 C404.16,66.31 405.26,66.01 406.92,66.71 C408.58,67.40 411.10,68.99 411.82,70.74 C412.54,72.49 412.78,76.10 411.24,77.22 C409.70,78.34 405.60,77.44 402.60,77.44 C399.60,77.44 395.74,77.88 393.24,77.22 C390.74,76.56 387.62,74.98 387.62,73.48 Z" fill="#bdbdbd" stroke="#1a1a1a" stroke-width="1.1" stroke-linejoin="round" stroke-linecap="round"/>
<ellipse cx="398.80" cy="72.90" rx="9.00" ry="3.50" fill="#161616"/>
<ellipse cx="399.00" cy="72.40" rx="6.50" ry="1.10" fill="#8a8a8a"/>
<ellipse cx="398.60" cy="72.45" rx="4.20" ry="0.40" fill="#1a1a1a"/>
<path d="M407.10,66.90 C411.10,65.50 413.80,68.60 413.20,76.60" fill="none" stroke="#1a1a1a" stroke-width="1.1" stroke-linejoin="round" stroke-linecap="round"/>
<path d="M408.90,69.10 C410.80,68.50 411.60,70.60 411.00,75.60" fill="none" stroke="#444" stroke-width="0.8" stroke-linejoin="round" stroke-linecap="round"/>
</g>
<g clip-path="url(#c370112)">
<rect x="379.20" y="118.40" width="26.20" height="33.60" fill="none" stroke="#8c8c8c" stroke-width="0.7"/>
<rect x="405.40" y="119.40" width="21.90" height="32.60" fill="none" stroke="#8c8c8c" stroke-width="0.7"/>
<ellipse cx="400.40" cy="136.70" rx="20.00" ry="11.00" fill="url(#hz10)"/>
<path fill="rgb(120,120,120)" d="M397.9 133.6h0.6v0.6h-0.6zM409.6 130.8h0.6v0.6h-0.6zM402.9 130.5h0.6v0.6h-0.6zM423.6 132.4h0.6v0.6h-0.6zM417.6 135.6h0.6v0.6h-0.6zM415.3 133.5h0.6v0.6h-0.6zM408.5 137.8h0.6v0.6h-0.6zM384.8 130.1h0.6v0.6h-0.6zM391.3 140.0h0.6v0.6h-0.6zM412.5 139.9h0.6v0.6h-0.6zM400.7 130.8h0.6v0.6h-0.6zM409.9 137.4h0.6v0.6h-0.6zM391.4 135.1h0.6v0.6h-0.6zM401.6 129.6h0.6v0.6h-0.6zM403.7 140.9h0.6v0.6h-0.6zM394.0 139.0h0.6v0.6h-0.6zM406.4 139.2h0.6v0.6h-0.6zM384.8 135.8h0.6v0.6h-0.6zM400.6 138.8h0.6v0.6h-0.6zM397.3 140.1h0.6v0.6h-0.6zM400.3 129.4h0.6v0.6h-0.6zM418.5 135.7h0.6v0.6h-0.6zM399.6 135.1h0.6v0.6h-0.6zM388.3 124.1h0.6v0.6h-0.6zM402.3 133.9h0.6v0.6h-0.6zM407.3 135.5h0.6v0.6h-0.6zM398.3 129.4h0.6v0.6h-0.6zM410.9 135.0h0.6v0.6h-0.6zM411.3 143.6h0.6v0.6h-0.6zM403.2 125.9h0.6v0.6h-0.6zM421.4 143.1h0.6v0.6h-0.6zM406.9 139.3h0.6v0.6h-0.6zM397.9 128.5h0.6v0.6h-0.6zM396.8 139.4h0.6v0.6h-0.6z"/>
<path fill="rgb(132,132,132)" d="M388.8 135.2h0.6v0.6h-0.6zM404.7 144.3h0.6v0.6h-0.6zM405.5 134.1h0.6v0.6h-0.6zM400.3 132.8h0.6v0.6h-0.6zM417.5 132.1h0.6v0.6h-0.6zM400.9 139.4h0.6v0.6h-0.6zM395.0 131.5h0.6v0.6h-0.6zM398.3 135.3h0.6v0.6h-0.6zM397.4 130.5h0.6v0.6h-0.6zM389.7 138.0h0.6v0.6h-0.6zM393.2 146.5h0.6v0.6h-0.6zM391.0 127.6h0.6v0.6h-0.6zM409.1 142.9h0.6v0.6h-0.6zM417.9 130.3h0.6v0.6h-0.6zM398.4 134.6h0.6v0.6h-0.6zM396.6 126.7h0.6v0.6h-0.6zM381.9 122.9h0.6v0.6h-0.6zM397.3 136.1h0.6v0.6h-0.6zM397.5 132.8h0.6v0.6h-0.6zM397.2 129.9h0.6v0.6h-0.6zM419.1 134.5h0.6v0.6h-0.6zM407.2 135.2h0.6v0.6h-0.6zM407.2 133.7h0.6v0.6h-0.6zM402.7 137.3h0.6v0.6h-0.6zM406.2 135.1h0.6v0.6h-0.6zM401.0 132.0h0.6v0.6h-0.6zM392.3 140.5h0.6v0.6h-0.6zM395.1 142.2h0.6v0.6h-0.6zM381.0 127.3h0.6v0.6h-0.6zM405.5 139.1h0.6v0.6h-0.6zM406.6 134.6h0.6v0.6h-0.6zM393.5 133.8h0.6v0.6h-0.6zM398.7 125.3h0.6v0.6h-0.6zM397.7 144.5h0.6v0.6h-0.6zM411.6 124.4h0.6v0.6h-0.6zM381.8 129.9h0.6v0.6h-0.6zM400.5 138.6h0.6v0.6h-0.6zM391.0 138.1h0.6v0.6h-0.6zM392.3 139.7h0.6v0.6h-0.6zM397.2 135.5h0.6v0.6h-0.6zM411.3 135.4h0.6v0.6h-0.6z"/>
<path fill="rgb(144,144,144)" d="M402.2 139.6h0.6v0.6h-0.6zM387.6 140.5h0.6v0.6h-0.6zM411.7 136.1h0.6v0.6h-0.6zM416.7 136.8h0.6v0.6h-0.6zM397.0 128.9h0.6v0.6h-0.6zM405.8 129.0h0.6v0.6h-0.6zM402.8 133.6h0.6v0.6h-0.6zM388.1 134.6h0.6v0.6h-0.6zM406.8 134.8h0.6v0.6h-0.6zM414.1 141.5h0.6v0.6h-0.6zM399.0 132.0h0.6v0.6h-0.6zM393.3 137.0h0.6v0.6h-0.6zM401.6 134.4h0.6v0.6h-0.6zM394.9 138.9h0.6v0.6h-0.6zM413.9 130.2h0.6v0.6h-0.6zM392.7 143.7h0.6v0.6h-0.6zM401.9 135.5h0.6v0.6h-0.6zM391.9 141.1h0.6v0.6h-0.6zM403.5 139.0h0.6v0.6h-0.6zM394.1 136.7h0.6v0.6h-0.6zM393.7 132.5h0.6v0.6h-0.6zM385.0 130.4h0.6v0.6h-0.6zM394.5 133.2h0.6v0.6h-0.6zM401.0 133.6h0.6v0.6h-0.6zM401.8 138.7h0.6v0.6h-0.6zM396.0 135.2h0.6v0.6h-0.6zM407.5 132.0h0.6v0.6h-0.6zM418.4 138.0h0.6v0.6h-0.6zM400.7 140.0h0.6v0.6h-0.6zM400.7 137.3h0.6v0.6h-0.6zM391.3 134.9h0.6v0.6h-0.6zM402.7 134.6h0.6v0.6h-0.6zM405.8 144.3h0.6v0.6h-0.6zM401.3 134.0h0.6v0.6h-0.6zM403.7 131.7h0.6v0.6h-0.6zM406.7 140.8h0.6v0.6h-0.6zM384.7 135.7h0.6v0.6h-0.6zM389.9 135.8h0.6v0.6h-0.6zM398.5 132.6h0.6v0.6h-0.6z"/>
<path fill="rgb(156,156,156)" d="M397.3 135.9h0.6v0.6h-0.6zM396.5 131.1h0.6v0.6h-0.6zM387.7 131.4h0.6v0.6h-0.6zM400.9 132.4h0.6v0.6h-0.6zM409.5 130.8h0.6v0.6h-0.6zM399.4 138.3h0.6v0.6h-0.6zM390.3 133.2h0.6v0.6h-0.6zM411.7 139.0h0.6v0.6h-0.6zM404.7 143.1h0.6v0.6h-0.6zM409.3 138.2h0.6v0.6h-0.6zM405.5 139.7h0.6v0.6h-0.6zM393.9 127.3h0.6v0.6h-0.6zM411.3 130.9h0.6v0.6h-0.6zM405.8 131.7h0.6v0.6h-0.6zM393.5 138.1h0.6v0.6h-0.6zM390.2 135.2h0.6v0.6h-0.6zM409.4 136.2h0.6v0.6h-0.6zM403.3 146.0h0.6v0.6h-0.6zM402.0 138.3h0.6v0.6h-0.6zM392.6 133.4h0.6v0.6h-0.6zM387.8 129.7h0.6v0.6h-0.6zM396.4 138.8h0.6v0.6h-0.6zM409.7 144.1h0.6v0.6h-0.6zM396.3 132.3h0.6v0.6h-0.6zM393.8 140.5h0.6v0.6h-0.6zM385.4 128.5h0.6v0.6h-0.6zM410.4 132.4h0.6v0.6h-0.6zM392.7 135.2h0.6v0.6h-0.6zM406.2 134.8h0.6v0.6h-0.6zM383.4 138.9h0.6v0.6h-0.6zM383.4 128.4h0.6v0.6h-0.6zM405.7 130.7h0.6v0.6h-0.6zM391.9 128.8h0.6v0.6h-0.6zM397.7 129.5h0.6v0.6h-0.6zM405.1 131.1h0.6v0.6h-0.6z"/>
<path fill="rgb(168,168,168)" d="M401.5 137.0h0.6v0.6h-0.6zM398.7 132.6h0.6v0.6h-0.6zM406.5 141.7h0.6v0.6h-0.6zM402.7 135.1h0.6v0.6h-0.6zM391.5 136.1h0.6v0.6h-0.6zM387.1 133.0h0.6v0.6h-0.6zM393.7 133.4h0.6v0.6h-0.6zM380.5 131.6h0.6v0.6h-0.6zM393.3 135.0h0.6v0.6h-0.6zM400.5 132.6h0.6v0.6h-0.6zM399.5 141.8h0.6v0.6h-0.6zM394.9 135.5h0.6v0.6h-0.6zM404.1 136.0h0.6v0.6h-0.6zM401.6 137.8h0.6v0.6h-0.6zM409.9 134.7h0.6v0.6h-0.6zM405.1 136.7h0.6v0.6h-0.6zM409.3 139.0h0.6v0.6h-0.6zM405.4 137.3h0.6v0.6h-0.6zM415.3 132.4h0.6v0.6h-0.6zM387.6 130.6h0.6v0.6h-0.6zM399.3 134.4h0.6v0.6h-0.6zM424.7 133.7h0.6v0.6h-0.6zM383.0 135.3h0.6v0.6h-0.6zM401.8 133.2h0.6v0.6h-0.6zM411.1 129.0h0.6v0.6h-0.6zM394.7 134.3h0.6v0.6h-0.6zM398.1 136.4h0.6v0.6h-0.6zM402.0 138.9h0.6v0.6h-0.6zM415.8 133.6h0.6v0.6h-0.6zM407.2 140.9h0.6v0.6h-0.6zM392.4 139.3h0.6v0.6h-0.6zM400.4 143.9h0.6v0.6h-0.6zM401.9 133.8h0.6v0.6h-0.6zM397.7 138.5h0.6v0.6h-0.6zM396.1 134.7h0.6v0.6h-0.6zM409.4 139.5h0.6v0.6h-0.6zM404.3 137.8h0.6v0.6h-0.6zM422.1 136.9h0.6v0.6h-0.6zM402.7 137.4h0.6v0.6h-0.6zM397.9 139.0h0.6v0.6h-0.6zM385.7 131.3h0.6v0.6h-0.6zM388.9 131.9h0.6v0.6h-0.6zM395.8 134.3h0.6v0.6h-0.6z"/>
<path fill="rgb(180,180,180)" d="M395.5 139.5h0.6v0.6h-0.6zM391.4 138.7h0.6v0.6h-0.6zM411.5 131.2h0.6v0.6h-0.6zM385.4 140.8h0.6v0.6h-0.6zM396.8 134.5h0.6v0.6h-0.6zM395.6 146.5h0.6v0.6h-0.6zM386.4 134.9h0.6v0.6h-0.6zM401.0 133.5h0.6v0.6h-0.6zM387.3 134.2h0.6v0.6h-0.6zM382.1 138.5h0.6v0.6h-0.6zM387.6 136.6h0.6v0.6h-0.6zM411.6 140.3h0.6v0.6h-0.6zM397.6 133.6h0.6v0.6h-0.6zM394.9 138.9h0.6v0.6h-0.6zM385.5 131.3h0.6v0.6h-0.6zM389.8 131.6h0.6v0.6h-0.6zM381.6 139.4h0.6v0.6h-0.6z"/>
<path fill="rgb(192,192,192)" d="M389.6 143.0h0.6v0.6h-0.6zM397.1 126.3h0.6v0.6h-0.6zM399.8 134.6h0.6v0.6h-0.6zM402.5 137.2h0.6v0.6h-0.6zM395.7 136.1h0.6v0.6h-0.6zM388.9 130.4h0.6v0.6h-0.6zM407.7 141.6h0.6v0.6h-0.6zM395.0 130.9h0.6v0.6h-0.6zM415.0 137.2h0.6v0.6h-0.6zM416.6 138.4h0.6v0.6h-0.6zM410.3 137.1h0.6v0.6h-0.6zM396.7 133.1h0.6v0.6h-0.6zM398.1 136.6h0.6v0.6h-0.6zM395.0 133.6h0.6v0.6h-0.6zM400.3 144.7h0.6v0.6h-0.6zM415.8 139.7h0.6v0.6h-0.6zM397.9 132.2h0.6v0.6h-0.6zM398.9 133.2h0.6v0.6h-0.6zM388.1 133.0h0.6v0.6h-0.6zM396.8 139.7h0.6v0.6h-0.6zM417.2 146.5h0.6v0.6h-0.6zM398.2 130.6h0.6v0.6h-0.6zM404.8 140.1h0.6v0.6h-0.6zM404.5 137.0h0.6v0.6h-0.6zM389.2 135.6h0.6v0.6h-0.6zM392.8 143.2h0.6v0.6h-0.6zM402.9 135.3h0.6v0.6h-0.6zM403.1 137.1h0.6v0.6h-0.6zM404.1 143.6h0.6v0.6h-0.6zM391.3 137.2h0.6v0.6h-0.6zM416.4 131.7h0.6v0.6h-0.6zM405.4 136.0h0.6v0.6h-0.6zM386.3 136.6h0.6v0.6h-0.6z"/>
<path fill="rgb(204,204,204)" d="M396.0 128.5h0.6v0.6h-0.6zM385.7 137.1h0.6v0.6h-0.6zM416.9 135.2h0.6v0.6h-0.6zM404.1 136.9h0.6v0.6h-0.6zM404.7 143.9h0.6v0.6h-0.6zM399.0 141.3h0.6v0.6h-0.6zM419.9 128.3h0.6v0.6h-0.6zM394.0 133.6h0.6v0.6h-0.6z"/>
<path fill="rgb(156,156,156)" d="M404.4 147.8h0.6v0.6h-0.6zM406.7 146.1h0.6v0.6h-0.6zM402.8 133.8h0.6v0.6h-0.6zM389.7 130.6h0.6v0.6h-0.6zM399.6 135.3h0.6v0.6h-0.6zM409.3 137.4h0.6v0.6h-0.6z"/>
<path fill="rgb(168,168,168)" d="M389.0 135.5h0.6v0.6h-0.6zM391.3 129.1h0.6v0.6h-0.6zM382.6 137.3h0.6v0.6h-0.6zM392.4 143.6h0.6v0.6h-0.6zM410.3 149.0h0.6v0.6h-0.6zM401.8 130.7h0.6v0.6h-0.6zM387.5 140.3h0.6v0.6h-0.6zM402.9 122.8h0.6v0.6h-0.6zM380.3 148.8h0.6v0.6h-0.6zM417.7 145.1h0.6v0.6h-0.6zM410.2 150.1h0.6v0.6h-0.6zM400.9 146.7h0.6v0.6h-0.6z"/>
<path fill="rgb(180,180,180)" d="M402.4 130.0h0.6v0.6h-0.6zM422.8 137.6h0.6v0.6h-0.6zM405.1 147.3h0.6v0.6h-0.6zM386.0 146.1h0.6v0.6h-0.6zM413.4 146.7h0.6v0.6h-0.6zM376.6 153.3h0.6v0.6h-0.6zM429.2 131.9h0.6v0.6h-0.6zM387.6 146.5h0.6v0.6h-0.6zM395.2 138.6h0.6v0.6h-0.6zM393.5 135.1h0.6v0.6h-0.6zM390.1 133.6h0.6v0.6h-0.6zM405.8 154.2h0.6v0.6h-0.6zM420.0 140.6h0.6v0.6h-0.6zM405.5 138.5h0.6v0.6h-0.6zM399.4 124.8h0.6v0.6h-0.6zM405.0 136.7h0.6v0.6h-0.6z"/>
<path fill="rgb(192,192,192)" d="M395.3 140.9h0.6v0.6h-0.6zM405.0 135.9h0.6v0.6h-0.6zM424.3 124.5h0.6v0.6h-0.6zM408.8 124.4h0.6v0.6h-0.6zM407.2 143.5h0.6v0.6h-0.6zM396.6 125.1h0.6v0.6h-0.6zM409.9 127.0h0.6v0.6h-0.6zM398.3 126.8h0.6v0.6h-0.6z"/>
<path fill="rgb(204,204,204)" d="M407.2 120.8h0.6v0.6h-0.6zM403.3 136.8h0.6v0.6h-0.6zM380.8 128.2h0.6v0.6h-0.6zM382.5 134.2h0.6v0.6h-0.6zM394.6 139.6h0.6v0.6h-0.6zM411.6 127.1h0.6v0.6h-0.6zM384.6 143.5h0.6v0.6h-0.6zM404.2 133.6h0.6v0.6h-0.6zM375.4 138.0h0.6v0.6h-0.6zM393.3 151.0h0.6v0.6h-0.6zM395.6 146.2h0.6v0.6h-0.6zM420.3 127.2h0.6v0.6h-0.6zM392.6 133.4h0.6v0.6h-0.6z"/>
<path d="M386.1 132.0l-0.3 -1.4M396.7 130.5l-1.7 -3.0M388.1 132.5l-0.7 -2.1M387.6 132.6l-2.0 -3.2M407.1 131.4l0.4 -1.6M397.6 130.5l-1.3 -3.3M398.7 131.1l-0.6 -1.4M394.0 131.2l-0.8 -1.3M404.8 132.0l0.5 -2.1M389.2 132.5l-0.8 -1.2M409.0 130.7l-0.7 -1.4M392.4 131.7l-0.0 -2.8M414.0 132.6l-1.0 -2.9M397.6 131.1l-1.4 -3.5M415.2 130.9l0.9 -1.8M387.2 131.7l2.1 -2.6M386.2 132.0l2.2 -2.7M407.1 131.1l-0.8 -1.6M395.1 131.4l-1.6 -2.3M406.8 132.6l-1.5 -3.3M387.9 130.4l-0.1 -2.3M409.5 131.6l0.3 -3.7M387.8 131.9l-1.0 -3.2M390.8 131.4l1.0 -1.5M404.8 131.1l1.6 -2.0M395.3 132.3l0.7 -1.0M408.2 131.8l-0.5 -3.2M411.1 132.5l-1.6 -2.9M411.0 130.9l0.5 -1.3M412.5 130.6l0.4 -1.2M399.8 131.6l-0.6 -1.1M385.7 131.5l-2.0 -3.0M401.6 131.5l-0.4 -1.5M402.0 131.1l-0.6 -2.4M390.4 132.6l-0.6 -2.4M412.3 131.9l0.3 -2.2M413.7 130.4l0.5 -2.6M395.6 131.5l-0.1 -3.2M391.8 131.6l0.6 -1.3M404.9 131.1l-1.8 -3.3M386.9 140.7l-1.6 -0.9M385.3 140.0l-2.3 -1.3M384.6 135.0l-1.6 -0.1M385.2 136.9l-1.9 -0.4M384.5 137.9l-2.7 -0.7M387.3 133.8l-2.1 0.4M386.9 141.4l-2.0 -0.8M386.2 137.1l-1.4 -0.2M384.5 135.6l-2.6 0.8M387.0 141.3l-2.2 0.9M386.5 133.2l-1.7 -1.1M385.7 141.5l-2.0 1.2M387.3 133.4l-1.2 -0.7M385.7 138.2l-3.1 -0.4M386.4 138.8l-2.6 -0.6M385.4 140.8l-2.4 -0.0M386.0 133.1l-2.7 -0.9M384.9 136.3l-2.2 -0.4" stroke="#8a8a8a" stroke-width="0.45" fill="none"/>
<path d="M383.60,139.00 C383.60,136.92 388.10,133.30 391.40,131.70 C394.70,130.10 400.23,129.75 403.40,129.40 C406.57,129.05 408.10,128.63 410.40,129.60 C412.70,130.57 416.20,132.77 417.20,135.20 C418.20,137.63 418.53,142.65 416.40,144.20 C414.27,145.75 408.57,144.50 404.40,144.50 C400.23,144.50 394.87,145.12 391.40,144.20 C387.93,143.28 383.60,141.08 383.60,139.00 Z" fill="#c4c4c4" stroke="#666" stroke-width="0.6" stroke-linejoin="round" stroke-linecap="round"/>
<path d="M385.81,138.89 C385.81,137.10 389.68,133.99 392.52,132.61 C395.36,131.23 400.12,130.93 402.84,130.63 C405.56,130.33 406.88,129.97 408.86,130.80 C410.84,131.64 413.85,133.53 414.71,135.62 C415.57,137.71 415.85,142.03 414.02,143.36 C412.19,144.69 407.28,143.62 403.70,143.62 C400.12,143.62 395.50,144.15 392.52,143.36 C389.54,142.57 385.81,140.68 385.81,138.89 Z" fill="#a8a8a8" stroke="#333" stroke-width="0.8" stroke-linejoin="round" stroke-linecap="round"/>
<path d="M387.42,139.08 C387.42,137.58 390.66,134.97 393.04,133.82 C395.42,132.67 399.40,132.42 401.68,132.16 C403.96,131.91 405.06,131.61 406.72,132.31 C408.38,133.00 410.90,134.59 411.62,136.34 C412.34,138.09 412.58,141.70 411.04,142.82 C409.50,143.94 405.40,143.04 402.40,143.04 C399.40,143.04 395.54,143.48 393.04,142.82 C390.54,142.16 387.42,140.58 387.42,139.08 Z" fill="#bdbdbd" stroke="#1a1a1a" stroke-width="1.1" stroke-linejoin="round" stroke-linecap="round"/>
<ellipse cx="398.60" cy="138.50" rx="9.00" ry="3.50" fill="#161616"/>
<ellipse cx="398.80" cy="138.00" rx="6.50" ry="1.10" fill="#8a8a8a"/>
<ellipse cx="398.40" cy="138.05" rx="4.20" ry="0.40" fill="#1a1a1a"/>
<path d="M406.90,132.50 C410.90,131.10 413.60,134.20 413.00,142.20" fill="none" stroke="#1a1a1a" stroke-width="1.1" stroke-linejoin="round" stroke-linecap="round"/>
<path d="M408.70,134.70 C410.60,134.10 411.40,136.20 410.80,141.20" fill="none" stroke="#444" stroke-width="0.8" stroke-linejoin="round" stroke-linecap="round"/>
</g>
<g clip-path="url(#c45247)">
<rect x="464.10" y="83.30" width="25.40" height="11.80" fill="none" stroke="#8c8c8c" stroke-width="0.7"/>
<rect x="489.50" y="59.50" width="21.10" height="35.60" fill="none" stroke="#8c8c8c" stroke-width="0.7"/>
<line x1="489.50" y1="83.30" x2="510.60" y2="83.30" stroke="#8c8c8c" stroke-width="0.7"/>
<ellipse cx="488.30" cy="76.50" rx="18.00" ry="12.00" fill="url(#hz11)"/>
<path fill="rgb(168,168,168)" d="M491.6 77.3h0.6v0.6h-0.6zM485.0 58.7h0.6v0.6h-0.6zM481.3 84.5h0.6v0.6h-0.6zM495.8 84.7h0.6v0.6h-0.6zM484.4 74.2h0.6v0.6h-0.6zM474.6 85.6h0.6v0.6h-0.6zM489.8 93.3h0.6v0.6h-0.6zM485.5 92.4h0.6v0.6h-0.6zM468.4 77.2h0.6v0.6h-0.6zM465.8 75.4h0.6v0.6h-0.6zM496.6 70.9h0.6v0.6h-0.6zM508.9 57.8h0.6v0.6h-0.6zM472.8 77.0h0.6v0.6h-0.6zM484.8 55.5h0.6v0.6h-0.6zM505.0 78.8h0.6v0.6h-0.6zM484.3 72.3h0.6v0.6h-0.6zM470.8 84.0h0.6v0.6h-0.6zM488.9 83.6h0.6v0.6h-0.6zM483.5 84.3h0.6v0.6h-0.6zM492.2 84.1h0.6v0.6h-0.6zM476.0 81.0h0.6v0.6h-0.6z"/>
<path fill="rgb(180,180,180)" d="M458.5 80.0h0.6v0.6h-0.6zM483.5 79.2h0.6v0.6h-0.6zM483.0 70.4h0.6v0.6h-0.6zM482.8 74.2h0.6v0.6h-0.6zM486.2 66.4h0.6v0.6h-0.6zM478.9 75.4h0.6v0.6h-0.6zM484.9 82.4h0.6v0.6h-0.6zM465.2 70.1h0.6v0.6h-0.6zM482.8 82.5h0.6v0.6h-0.6zM504.9 77.7h0.6v0.6h-0.6zM484.3 66.4h0.6v0.6h-0.6zM473.6 64.1h0.6v0.6h-0.6zM477.2 73.9h0.6v0.6h-0.6zM485.9 70.7h0.6v0.6h-0.6zM479.5 80.8h0.6v0.6h-0.6zM469.7 85.2h0.6v0.6h-0.6zM479.3 65.0h0.6v0.6h-0.6zM488.6 78.7h0.6v0.6h-0.6zM487.0 78.1h0.6v0.6h-0.6zM477.3 91.4h0.6v0.6h-0.6zM474.3 79.4h0.6v0.6h-0.6zM483.9 80.0h0.6v0.6h-0.6zM474.1 71.5h0.6v0.6h-0.6zM467.9 93.1h0.6v0.6h-0.6zM507.0 80.1h0.6v0.6h-0.6zM487.0 75.0h0.6v0.6h-0.6zM492.5 80.5h0.6v0.6h-0.6zM490.8 89.8h0.6v0.6h-0.6zM473.4 77.2h0.6v0.6h-0.6zM483.0 65.0h0.6v0.6h-0.6zM484.3 71.4h0.6v0.6h-0.6zM482.3 82.4h0.6v0.6h-0.6z"/>
<path fill="rgb(192,192,192)" d="M498.8 72.9h0.6v0.6h-0.6zM468.3 86.5h0.6v0.6h-0.6zM501.9 96.2h0.6v0.6h-0.6zM460.7 57.2h0.6v0.6h-0.6zM460.9 62.6h0.6v0.6h-0.6zM499.9 55.0h0.6v0.6h-0.6zM489.8 64.3h0.6v0.6h-0.6zM501.3 74.8h0.6v0.6h-0.6zM492.9 89.8h0.6v0.6h-0.6zM489.2 84.5h0.6v0.6h-0.6zM503.3 83.7h0.6v0.6h-0.6zM484.4 79.1h0.6v0.6h-0.6zM483.3 69.7h0.6v0.6h-0.6zM491.4 70.2h0.6v0.6h-0.6zM481.1 80.4h0.6v0.6h-0.6zM481.4 81.7h0.6v0.6h-0.6zM491.7 65.8h0.6v0.6h-0.6zM491.7 62.5h0.6v0.6h-0.6zM455.3 74.7h0.6v0.6h-0.6zM496.7 68.8h0.6v0.6h-0.6zM489.1 85.6h0.6v0.6h-0.6zM490.5 63.4h0.6v0.6h-0.6zM499.1 66.2h0.6v0.6h-0.6zM472.9 82.2h0.6v0.6h-0.6zM469.8 83.3h0.6v0.6h-0.6zM488.3 84.7h0.6v0.6h-0.6zM497.0 78.7h0.6v0.6h-0.6zM493.3 88.0h0.6v0.6h-0.6zM485.7 60.5h0.6v0.6h-0.6zM475.0 101.4h0.6v0.6h-0.6zM473.1 84.6h0.6v0.6h-0.6z"/>
<path fill="rgb(204,204,204)" d="M487.4 75.8h0.6v0.6h-0.6zM504.9 59.8h0.6v0.6h-0.6zM473.5 78.1h0.6v0.6h-0.6zM467.3 69.0h0.6v0.6h-0.6zM480.5 73.3h0.6v0.6h-0.6zM483.5 69.4h0.6v0.6h-0.6zM494.7 80.6h0.6v0.6h-0.6zM500.4 54.1h0.6v0.6h-0.6zM489.9 72.6h0.6v0.6h-0.6zM489.5 66.1h0.6v0.6h-0.6zM500.6 82.4h0.6v0.6h-0.6zM486.1 83.8h0.6v0.6h-0.6zM484.5 83.4h0.6v0.6h-0.6zM488.5 80.5h0.6v0.6h-0.6zM494.8 56.2h0.6v0.6h-0.6zM480.4 70.8h0.6v0.6h-0.6zM494.6 62.5h0.6v0.6h-0.6zM491.6 93.7h0.6v0.6h-0.6zM485.9 85.0h0.6v0.6h-0.6zM501.2 79.7h0.6v0.6h-0.6zM485.7 76.1h0.6v0.6h-0.6zM508.2 65.2h0.6v0.6h-0.6zM509.7 89.1h0.6v0.6h-0.6zM500.3 69.3h0.6v0.6h-0.6z"/>
<path fill="rgb(216,216,216)" d="M503.2 81.0h0.6v0.6h-0.6zM499.2 82.1h0.6v0.6h-0.6zM481.0 93.1h0.6v0.6h-0.6zM464.6 64.8h0.6v0.6h-0.6zM506.7 70.1h0.6v0.6h-0.6zM485.5 80.6h0.6v0.6h-0.6zM474.5 60.7h0.6v0.6h-0.6zM471.5 89.5h0.6v0.6h-0.6zM464.0 83.4h0.6v0.6h-0.6zM457.6 65.7h0.6v0.6h-0.6zM484.9 96.7h0.6v0.6h-0.6zM490.9 74.1h0.6v0.6h-0.6zM498.7 75.6h0.6v0.6h-0.6zM492.9 56.6h0.6v0.6h-0.6zM497.8 93.4h0.6v0.6h-0.6zM473.6 67.6h0.6v0.6h-0.6zM479.2 70.1h0.6v0.6h-0.6zM494.8 93.9h0.6v0.6h-0.6zM492.5 77.1h0.6v0.6h-0.6zM500.7 79.8h0.6v0.6h-0.6zM498.3 78.6h0.6v0.6h-0.6zM469.7 76.5h0.6v0.6h-0.6zM490.3 64.7h0.6v0.6h-0.6zM479.1 74.8h0.6v0.6h-0.6zM499.0 82.7h0.6v0.6h-0.6zM490.9 67.6h0.6v0.6h-0.6zM489.7 90.2h0.6v0.6h-0.6zM470.9 70.4h0.6v0.6h-0.6z"/>
<path fill="rgb(144,144,144)" d="M498.9 85.8h0.6v0.6h-0.6zM484.3 64.0h0.6v0.6h-0.6zM502.6 69.6h0.6v0.6h-0.6zM500.0 76.2h0.6v0.6h-0.6zM500.7 76.2h0.6v0.6h-0.6zM497.0 76.7h0.6v0.6h-0.6zM496.1 78.0h0.6v0.6h-0.6zM505.2 79.3h0.6v0.6h-0.6zM498.1 71.4h0.6v0.6h-0.6zM498.8 89.0h0.6v0.6h-0.6zM498.8 88.4h0.6v0.6h-0.6zM496.9 68.3h0.6v0.6h-0.6z"/>
<path fill="rgb(156,156,156)" d="M499.0 71.5h0.6v0.6h-0.6zM499.1 73.1h0.6v0.6h-0.6zM494.1 88.7h0.6v0.6h-0.6zM496.1 74.3h0.6v0.6h-0.6zM493.8 84.3h0.6v0.6h-0.6zM498.5 72.3h0.6v0.6h-0.6zM486.7 81.1h0.6v0.6h-0.6zM498.5 64.7h0.6v0.6h-0.6zM495.1 74.6h0.6v0.6h-0.6zM503.4 78.4h0.6v0.6h-0.6zM496.4 79.6h0.6v0.6h-0.6zM500.2 75.5h0.6v0.6h-0.6zM486.8 61.8h0.6v0.6h-0.6zM493.6 68.7h0.6v0.6h-0.6zM501.3 89.6h0.6v0.6h-0.6zM497.7 72.6h0.6v0.6h-0.6zM503.1 75.7h0.6v0.6h-0.6zM496.9 65.2h0.6v0.6h-0.6zM497.4 76.3h0.6v0.6h-0.6zM502.8 78.6h0.6v0.6h-0.6zM497.7 80.0h0.6v0.6h-0.6zM500.4 72.8h0.6v0.6h-0.6zM497.3 74.6h0.6v0.6h-0.6zM494.5 77.1h0.6v0.6h-0.6zM493.8 70.5h0.6v0.6h-0.6zM491.9 82.1h0.6v0.6h-0.6zM502.3 76.9h0.6v0.6h-0.6zM497.9 81.1h0.6v0.6h-0.6z"/>
<path fill="rgb(168,168,168)" d="M498.8 64.6h0.6v0.6h-0.6zM501.5 87.5h0.6v0.6h-0.6zM495.7 78.1h0.6v0.6h-0.6zM496.3 81.0h0.6v0.6h-0.6zM498.7 82.9h0.6v0.6h-0.6zM505.4 78.1h0.6v0.6h-0.6zM498.0 72.9h0.6v0.6h-0.6zM500.0 73.2h0.6v0.6h-0.6zM491.8 66.7h0.6v0.6h-0.6zM492.2 82.1h0.6v0.6h-0.6zM499.0 53.3h0.6v0.6h-0.6zM497.9 76.8h0.6v0.6h-0.6zM499.2 80.2h0.6v0.6h-0.6zM488.0 83.6h0.6v0.6h-0.6zM502.0 71.9h0.6v0.6h-0.6zM491.2 72.4h0.6v0.6h-0.6zM501.3 79.3h0.6v0.6h-0.6zM497.3 85.8h0.6v0.6h-0.6zM498.2 69.8h0.6v0.6h-0.6zM499.2 80.5h0.6v0.6h-0.6zM502.6 75.8h0.6v0.6h-0.6zM504.0 76.6h0.6v0.6h-0.6zM492.4 74.5h0.6v0.6h-0.6zM495.1 76.3h0.6v0.6h-0.6z"/>
<path fill="rgb(180,180,180)" d="M494.9 77.3h0.6v0.6h-0.6zM500.7 80.1h0.6v0.6h-0.6zM498.3 72.6h0.6v0.6h-0.6zM500.8 66.3h0.6v0.6h-0.6zM499.4 67.5h0.6v0.6h-0.6zM490.9 75.9h0.6v0.6h-0.6zM492.1 80.6h0.6v0.6h-0.6zM499.0 80.1h0.6v0.6h-0.6zM506.8 77.2h0.6v0.6h-0.6zM495.6 66.5h0.6v0.6h-0.6zM501.0 67.4h0.6v0.6h-0.6zM495.5 72.9h0.6v0.6h-0.6zM491.5 62.6h0.6v0.6h-0.6zM501.7 76.6h0.6v0.6h-0.6zM497.7 90.5h0.6v0.6h-0.6zM499.0 64.4h0.6v0.6h-0.6zM505.9 76.1h0.6v0.6h-0.6zM494.5 73.4h0.6v0.6h-0.6zM495.5 79.7h0.6v0.6h-0.6zM495.0 83.1h0.6v0.6h-0.6zM499.5 68.4h0.6v0.6h-0.6zM499.6 71.9h0.6v0.6h-0.6zM498.9 71.7h0.6v0.6h-0.6zM495.6 71.2h0.6v0.6h-0.6zM499.8 72.6h0.6v0.6h-0.6zM501.7 78.9h0.6v0.6h-0.6zM497.3 74.6h0.6v0.6h-0.6z"/>
<path fill="rgb(192,192,192)" d="M495.5 61.0h0.6v0.6h-0.6zM496.7 67.5h0.6v0.6h-0.6zM496.1 78.2h0.6v0.6h-0.6zM505.5 69.8h0.6v0.6h-0.6zM498.2 81.9h0.6v0.6h-0.6zM498.5 68.9h0.6v0.6h-0.6zM505.5 77.8h0.6v0.6h-0.6zM496.4 69.4h0.6v0.6h-0.6zM494.6 75.6h0.6v0.6h-0.6zM494.5 73.4h0.6v0.6h-0.6zM492.2 72.2h0.6v0.6h-0.6zM495.2 75.6h0.6v0.6h-0.6zM493.5 84.8h0.6v0.6h-0.6zM500.0 72.7h0.6v0.6h-0.6z"/>
<path fill="rgb(204,204,204)" d="M488.2 81.7h0.6v0.6h-0.6zM494.3 73.4h0.6v0.6h-0.6zM494.5 78.5h0.6v0.6h-0.6zM500.6 75.7h0.6v0.6h-0.6zM495.3 85.9h0.6v0.6h-0.6zM499.5 67.5h0.6v0.6h-0.6zM495.4 78.5h0.6v0.6h-0.6zM496.3 66.4h0.6v0.6h-0.6zM502.1 78.2h0.6v0.6h-0.6zM496.2 78.2h0.6v0.6h-0.6zM506.9 61.2h0.6v0.6h-0.6zM497.7 86.5h0.6v0.6h-0.6zM499.1 76.2h0.6v0.6h-0.6zM496.0 73.8h0.6v0.6h-0.6zM501.5 72.0h0.6v0.6h-0.6z"/>
<path d="M493.80,85.50 C492.30,76.50 493.30,65.50 499.30,64.50 C504.80,64.50 505.60,76.50 504.30,85.50" fill="none" stroke="#8a8a8a" stroke-width="0.8" stroke-linejoin="round" stroke-linecap="round"/>
<path d="M495.80,84.50 C494.30,78.50 494.80,69.50 498.80,68.50 C502.80,68.50 503.60,78.50 502.80,85.50" fill="none" stroke="#7a7a7a" stroke-width="0.8" stroke-linejoin="round" stroke-linecap="round"/>
<path d="M500.80,83.50 C499.80,78.50 500.80,73.50 502.20,73.50" fill="none" stroke="#444" stroke-width="1.0" stroke-linejoin="round" stroke-linecap="round"/>
<path d="M497.60,81.50 C496.00,77.50 497.60,72.50 499.80,71.50" fill="none" stroke="#777" stroke-width="0.8" stroke-linejoin="round" stroke-linecap="round"/>
<path d="M469.30,86.70 C473.30,84.80 481.30,84.60 489.30,85.40 C493.30,85.90 496.30,84.70 501.30,84.80 C505.30,85.00 505.30,91.80 501.30,91.80 C496.30,92.00 493.30,91.40 489.30,91.60 C481.30,92.30 473.30,92.20 469.30,90.30 C466.70,89.30 466.70,87.70 469.30,86.70 Z" fill="#121212"/>
<path d="M472.30,88.20 L488.30,88.20" stroke="#777" stroke-width="0.5" stroke-dasharray="3 1.2"/>
<path d="M492.30,88.70 L500.80,88.70" stroke="#666" stroke-width="0.5" stroke-dasharray="2.5 1.2"/>
<ellipse cx="492.60" cy="88.50" rx="2.20" ry="2.20" fill="#3a3a3a" opacity="0.7"/>
</g>
<g clip-path="url(#c452112)">
<rect x="464.10" y="148.90" width="25.40" height="12.70" fill="none" stroke="#8c8c8c" stroke-width="0.7"/>
<rect x="489.50" y="124.40" width="21.10" height="37.20" fill="none" stroke="#8c8c8c" stroke-width="0.7"/>
<line x1="489.50" y1="148.90" x2="510.60" y2="148.90" stroke="#8c8c8c" stroke-width="0.7"/>
<ellipse cx="488.30" cy="142.20" rx="18.00" ry="12.00" fill="url(#hz12)"/>
<path fill="rgb(168,168,168)" d="M476.5 144.6h0.6v0.6h-0.6zM476.7 128.7h0.6v0.6h-0.6zM462.9 127.4h0.6v0.6h-0.6zM474.7 134.1h0.6v0.6h-0.6zM487.6 148.4h0.6v0.6h-0.6zM486.9 156.8h0.6v0.6h-0.6zM483.4 147.0h0.6v0.6h-0.6zM455.7 160.6h0.6v0.6h-0.6zM487.1 161.1h0.6v0.6h-0.6zM480.9 147.0h0.6v0.6h-0.6zM481.9 141.8h0.6v0.6h-0.6zM475.6 147.7h0.6v0.6h-0.6zM472.3 148.8h0.6v0.6h-0.6zM499.4 146.1h0.6v0.6h-0.6zM473.6 116.5h0.6v0.6h-0.6zM490.6 153.3h0.6v0.6h-0.6zM493.9 142.4h0.6v0.6h-0.6zM483.2 127.1h0.6v0.6h-0.6zM498.2 148.2h0.6v0.6h-0.6zM496.5 156.2h0.6v0.6h-0.6zM497.9 165.2h0.6v0.6h-0.6zM491.9 162.1h0.6v0.6h-0.6zM492.7 155.2h0.6v0.6h-0.6zM456.3 146.4h0.6v0.6h-0.6zM457.8 141.1h0.6v0.6h-0.6zM471.6 143.4h0.6v0.6h-0.6zM467.9 134.6h0.6v0.6h-0.6zM481.1 154.5h0.6v0.6h-0.6z"/>
<path fill="rgb(180,180,180)" d="M481.3 137.0h0.6v0.6h-0.6zM498.9 155.1h0.6v0.6h-0.6zM465.6 129.5h0.6v0.6h-0.6zM476.2 158.2h0.6v0.6h-0.6zM456.4 148.8h0.6v0.6h-0.6zM503.8 143.3h0.6v0.6h-0.6zM481.2 134.1h0.6v0.6h-0.6zM502.8 134.1h0.6v0.6h-0.6zM473.4 134.9h0.6v0.6h-0.6zM496.8 148.3h0.6v0.6h-0.6zM500.1 148.5h0.6v0.6h-0.6zM476.3 138.4h0.6v0.6h-0.6zM504.2 141.1h0.6v0.6h-0.6zM491.8 135.9h0.6v0.6h-0.6zM491.8 159.8h0.6v0.6h-0.6zM508.2 132.1h0.6v0.6h-0.6zM478.4 133.8h0.6v0.6h-0.6zM492.5 148.4h0.6v0.6h-0.6zM505.7 132.3h0.6v0.6h-0.6zM479.4 154.9h0.6v0.6h-0.6zM504.1 149.4h0.6v0.6h-0.6zM507.7 149.9h0.6v0.6h-0.6zM473.6 149.7h0.6v0.6h-0.6zM506.3 123.4h0.6v0.6h-0.6zM477.5 142.0h0.6v0.6h-0.6zM477.8 130.0h0.6v0.6h-0.6zM466.5 134.9h0.6v0.6h-0.6zM496.1 162.5h0.6v0.6h-0.6zM501.5 150.3h0.6v0.6h-0.6z"/>
<path fill="rgb(192,192,192)" d="M505.6 147.6h0.6v0.6h-0.6zM465.8 134.9h0.6v0.6h-0.6zM490.4 147.1h0.6v0.6h-0.6zM503.9 144.3h0.6v0.6h-0.6zM493.4 141.9h0.6v0.6h-0.6zM479.1 142.5h0.6v0.6h-0.6zM473.7 144.4h0.6v0.6h-0.6zM500.8 146.3h0.6v0.6h-0.6zM483.8 153.5h0.6v0.6h-0.6zM467.4 159.0h0.6v0.6h-0.6zM460.3 127.6h0.6v0.6h-0.6zM492.8 146.6h0.6v0.6h-0.6zM474.3 137.5h0.6v0.6h-0.6zM488.8 128.9h0.6v0.6h-0.6zM477.5 141.6h0.6v0.6h-0.6zM478.5 150.5h0.6v0.6h-0.6zM479.5 152.2h0.6v0.6h-0.6zM479.7 149.3h0.6v0.6h-0.6zM483.8 136.8h0.6v0.6h-0.6zM490.5 133.7h0.6v0.6h-0.6zM471.7 155.6h0.6v0.6h-0.6zM488.1 145.9h0.6v0.6h-0.6zM499.4 148.4h0.6v0.6h-0.6zM508.0 135.9h0.6v0.6h-0.6zM485.3 142.4h0.6v0.6h-0.6zM474.2 147.9h0.6v0.6h-0.6zM479.5 133.0h0.6v0.6h-0.6zM491.3 144.2h0.6v0.6h-0.6zM475.0 164.3h0.6v0.6h-0.6zM464.8 142.5h0.6v0.6h-0.6zM455.3 123.9h0.6v0.6h-0.6zM492.8 123.1h0.6v0.6h-0.6zM477.9 138.0h0.6v0.6h-0.6z"/>
<path fill="rgb(204,204,204)" d="M470.4 156.2h0.6v0.6h-0.6zM455.9 149.9h0.6v0.6h-0.6zM494.1 151.4h0.6v0.6h-0.6zM472.1 147.6h0.6v0.6h-0.6zM485.0 139.9h0.6v0.6h-0.6zM481.6 137.5h0.6v0.6h-0.6zM511.1 131.6h0.6v0.6h-0.6zM477.6 130.6h0.6v0.6h-0.6zM483.1 142.6h0.6v0.6h-0.6zM490.7 147.0h0.6v0.6h-0.6zM480.3 140.8h0.6v0.6h-0.6zM508.7 119.7h0.6v0.6h-0.6zM469.9 143.9h0.6v0.6h-0.6zM493.7 154.9h0.6v0.6h-0.6zM471.5 150.8h0.6v0.6h-0.6zM494.1 136.0h0.6v0.6h-0.6zM495.7 139.4h0.6v0.6h-0.6zM487.8 148.4h0.6v0.6h-0.6zM485.5 137.6h0.6v0.6h-0.6zM471.8 149.9h0.6v0.6h-0.6zM504.5 122.6h0.6v0.6h-0.6zM480.7 129.6h0.6v0.6h-0.6zM481.4 159.3h0.6v0.6h-0.6zM469.2 136.3h0.6v0.6h-0.6zM501.8 135.6h0.6v0.6h-0.6zM480.7 135.8h0.6v0.6h-0.6zM470.7 139.5h0.6v0.6h-0.6zM476.7 128.4h0.6v0.6h-0.6zM487.5 138.6h0.6v0.6h-0.6zM503.3 136.9h0.6v0.6h-0.6z"/>
<path fill="rgb(216,216,216)" d="M461.6 126.8h0.6v0.6h-0.6zM459.4 151.2h0.6v0.6h-0.6zM470.6 140.9h0.6v0.6h-0.6zM491.1 150.8h0.6v0.6h-0.6zM466.7 138.4h0.6v0.6h-0.6zM466.1 131.5h0.6v0.6h-0.6zM472.1 127.0h0.6v0.6h-0.6zM470.7 153.9h0.6v0.6h-0.6zM500.2 138.0h0.6v0.6h-0.6zM503.4 125.7h0.6v0.6h-0.6zM482.2 152.1h0.6v0.6h-0.6zM473.8 148.3h0.6v0.6h-0.6zM455.0 160.9h0.6v0.6h-0.6zM467.7 152.1h0.6v0.6h-0.6zM486.9 142.2h0.6v0.6h-0.6z"/>
<path fill="rgb(144,144,144)" d="M498.2 135.9h0.6v0.6h-0.6zM499.4 133.4h0.6v0.6h-0.6zM492.9 150.5h0.6v0.6h-0.6zM501.5 134.9h0.6v0.6h-0.6zM498.5 137.3h0.6v0.6h-0.6zM500.6 143.3h0.6v0.6h-0.6zM493.9 138.8h0.6v0.6h-0.6zM488.8 144.4h0.6v0.6h-0.6zM501.0 134.8h0.6v0.6h-0.6zM494.4 129.4h0.6v0.6h-0.6zM502.3 135.7h0.6v0.6h-0.6zM493.6 140.7h0.6v0.6h-0.6zM487.5 130.9h0.6v0.6h-0.6z"/>
<path fill="rgb(156,156,156)" d="M500.8 128.6h0.6v0.6h-0.6zM500.7 143.2h0.6v0.6h-0.6zM498.3 137.8h0.6v0.6h-0.6zM500.2 144.2h0.6v0.6h-0.6zM506.5 132.5h0.6v0.6h-0.6zM501.0 123.3h0.6v0.6h-0.6zM497.3 142.8h0.6v0.6h-0.6zM489.0 142.5h0.6v0.6h-0.6zM498.2 130.5h0.6v0.6h-0.6zM498.5 139.8h0.6v0.6h-0.6zM491.9 128.3h0.6v0.6h-0.6zM502.3 131.5h0.6v0.6h-0.6zM493.5 133.1h0.6v0.6h-0.6zM495.0 136.8h0.6v0.6h-0.6zM499.2 153.0h0.6v0.6h-0.6zM497.9 150.3h0.6v0.6h-0.6zM505.7 145.2h0.6v0.6h-0.6zM501.9 152.9h0.6v0.6h-0.6zM495.2 141.7h0.6v0.6h-0.6zM499.3 143.1h0.6v0.6h-0.6z"/>
<path fill="rgb(168,168,168)" d="M493.6 131.4h0.6v0.6h-0.6zM490.5 133.7h0.6v0.6h-0.6zM498.4 124.1h0.6v0.6h-0.6zM504.9 137.9h0.6v0.6h-0.6zM500.4 142.5h0.6v0.6h-0.6zM499.0 139.1h0.6v0.6h-0.6zM497.1 134.3h0.6v0.6h-0.6zM490.1 140.3h0.6v0.6h-0.6zM500.8 141.9h0.6v0.6h-0.6zM493.1 152.4h0.6v0.6h-0.6zM496.4 152.6h0.6v0.6h-0.6zM495.2 136.5h0.6v0.6h-0.6zM494.3 135.3h0.6v0.6h-0.6zM490.2 150.7h0.6v0.6h-0.6zM501.0 138.7h0.6v0.6h-0.6zM495.7 141.4h0.6v0.6h-0.6z"/>
<path fill="rgb(180,180,180)" d="M501.8 146.0h0.6v0.6h-0.6zM493.6 146.9h0.6v0.6h-0.6zM500.8 137.2h0.6v0.6h-0.6zM493.2 141.0h0.6v0.6h-0.6zM495.8 152.0h0.6v0.6h-0.6zM492.3 152.2h0.6v0.6h-0.6zM493.0 133.6h0.6v0.6h-0.6zM495.4 146.0h0.6v0.6h-0.6zM494.2 138.8h0.6v0.6h-0.6zM487.6 142.3h0.6v0.6h-0.6zM493.7 152.7h0.6v0.6h-0.6zM495.0 154.2h0.6v0.6h-0.6zM499.0 146.8h0.6v0.6h-0.6zM497.7 140.7h0.6v0.6h-0.6zM500.0 130.4h0.6v0.6h-0.6zM499.8 133.8h0.6v0.6h-0.6zM488.7 156.5h0.6v0.6h-0.6zM500.4 137.6h0.6v0.6h-0.6zM496.1 136.3h0.6v0.6h-0.6zM498.2 136.3h0.6v0.6h-0.6zM503.1 149.7h0.6v0.6h-0.6zM495.8 137.3h0.6v0.6h-0.6z"/>
<path fill="rgb(192,192,192)" d="M501.2 134.4h0.6v0.6h-0.6zM499.5 129.6h0.6v0.6h-0.6zM498.4 138.4h0.6v0.6h-0.6zM498.7 147.3h0.6v0.6h-0.6zM495.0 143.3h0.6v0.6h-0.6zM498.4 139.4h0.6v0.6h-0.6zM498.8 147.4h0.6v0.6h-0.6zM498.4 147.0h0.6v0.6h-0.6zM500.7 148.9h0.6v0.6h-0.6zM490.7 149.2h0.6v0.6h-0.6zM495.3 131.7h0.6v0.6h-0.6zM498.4 137.3h0.6v0.6h-0.6zM490.9 140.4h0.6v0.6h-0.6zM485.8 148.2h0.6v0.6h-0.6zM493.8 148.9h0.6v0.6h-0.6zM497.5 147.9h0.6v0.6h-0.6zM491.1 141.9h0.6v0.6h-0.6zM492.6 141.8h0.6v0.6h-0.6zM493.3 136.5h0.6v0.6h-0.6zM497.0 136.3h0.6v0.6h-0.6zM497.0 127.0h0.6v0.6h-0.6zM500.4 131.3h0.6v0.6h-0.6zM498.4 144.8h0.6v0.6h-0.6zM494.2 154.1h0.6v0.6h-0.6zM495.2 141.3h0.6v0.6h-0.6zM499.6 141.7h0.6v0.6h-0.6z"/>
<path fill="rgb(204,204,204)" d="M493.5 152.9h0.6v0.6h-0.6zM493.3 137.0h0.6v0.6h-0.6zM496.3 150.8h0.6v0.6h-0.6zM498.9 140.8h0.6v0.6h-0.6zM499.3 136.2h0.6v0.6h-0.6zM491.4 153.2h0.6v0.6h-0.6zM496.5 133.1h0.6v0.6h-0.6zM494.7 130.5h0.6v0.6h-0.6zM498.0 148.2h0.6v0.6h-0.6zM498.1 140.1h0.6v0.6h-0.6zM497.2 147.7h0.6v0.6h-0.6zM498.7 143.5h0.6v0.6h-0.6zM508.1 143.0h0.6v0.6h-0.6zM499.2 137.0h0.6v0.6h-0.6zM494.4 132.7h0.6v0.6h-0.6zM490.3 128.1h0.6v0.6h-0.6zM491.2 150.8h0.6v0.6h-0.6zM495.9 153.9h0.6v0.6h-0.6zM508.6 146.4h0.6v0.6h-0.6zM499.8 145.4h0.6v0.6h-0.6zM504.5 128.4h0.6v0.6h-0.6zM501.5 135.7h0.6v0.6h-0.6zM497.0 138.7h0.6v0.6h-0.6z"/>
<path d="M493.80,151.20 C492.30,142.20 493.30,131.20 499.30,130.20 C504.80,130.20 505.60,142.20 504.30,151.20" fill="none" stroke="#8a8a8a" stroke-width="0.8" stroke-linejoin="round" stroke-linecap="round"/>
<path d="M495.80,150.20 C494.30,144.20 494.80,135.20 498.80,134.20 C502.80,134.20 503.60,144.20 502.80,151.20" fill="none" stroke="#7a7a7a" stroke-width="0.8" stroke-linejoin="round" stroke-linecap="round"/>
<path d="M500.80,149.20 C499.80,144.20 500.80,139.20 502.20,139.20" fill="none" stroke="#444" stroke-width="1.0" stroke-linejoin="round" stroke-linecap="round"/>
<path d="M497.60,147.20 C496.00,143.20 497.60,138.20 499.80,137.20" fill="none" stroke="#777" stroke-width="0.8" stroke-linejoin="round" stroke-linecap="round"/>
<path d="M469.30,152.40 C473.30,150.50 481.30,150.30 489.30,151.10 C493.30,151.60 496.30,150.40 501.30,150.50 C505.30,150.70 505.30,157.50 501.30,157.50 C496.30,157.70 493.30,157.10 489.30,157.30 C481.30,158.00 473.30,157.90 469.30,156.00 C466.70,155.00 466.70,153.40 469.30,152.40 Z" fill="#121212"/>
<path d="M472.30,153.90 L488.30,153.90" stroke="#777" stroke-width="0.5" stroke-dasharray="3 1.2"/>
<path d="M492.30,154.40 L500.80,154.40" stroke="#666" stroke-width="0.5" stroke-dasharray="2.5 1.2"/>
<ellipse cx="492.60" cy="154.20" rx="2.20" ry="2.20" fill="#3a3a3a" opacity="0.7"/>
</g>
<rect x="287.70" y="47.50" width="60.4" height="59.3" fill="none" stroke="#a0a0a0" stroke-width="0.8"/>
<line x1="291.70" y1="107.70" x2="344.10" y2="107.70" stroke="#888" stroke-width="0.6" stroke-dasharray="0.8 2.6"/>
<rect x="304.70" y="107.10" width="1.8" height="1.2" fill="#333"/>
<line x1="286.80" y1="52.50" x2="286.80" y2="101.80" stroke="#999" stroke-width="0.5" stroke-dasharray="0.8 5"/>
<rect x="370.60" y="47.60" width="60.4" height="59.3" fill="none" stroke="#a0a0a0" stroke-width="0.8"/>
<line x1="374.60" y1="107.80" x2="427.00" y2="107.80" stroke="#888" stroke-width="0.6" stroke-dasharray="0.8 2.6"/>
<rect x="387.60" y="107.20" width="1.8" height="1.2" fill="#333"/>
<line x1="369.70" y1="52.60" x2="369.70" y2="101.90" stroke="#999" stroke-width="0.5" stroke-dasharray="0.8 5"/>
<rect x="452.30" y="47.50" width="60.4" height="59.3" fill="none" stroke="#a0a0a0" stroke-width="0.8"/>
<line x1="456.30" y1="107.70" x2="508.70" y2="107.70" stroke="#888" stroke-width="0.6" stroke-dasharray="0.8 2.6"/>
<rect x="469.30" y="107.10" width="1.8" height="1.2" fill="#333"/>
<line x1="451.40" y1="52.50" x2="451.40" y2="101.80" stroke="#999" stroke-width="0.5" stroke-dasharray="0.8 5"/>
<rect x="287.70" y="112.50" width="60.4" height="59.3" fill="none" stroke="#a0a0a0" stroke-width="0.8"/>
<line x1="291.70" y1="172.70" x2="344.10" y2="172.70" stroke="#888" stroke-width="0.6" stroke-dasharray="0.8 2.6"/>
<rect x="304.70" y="172.10" width="1.8" height="1.2" fill="#333"/>
<line x1="286.80" y1="117.50" x2="286.80" y2="166.80" stroke="#999" stroke-width="0.5" stroke-dasharray="0.8 5"/>
<rect x="370.40" y="112.40" width="60.4" height="59.3" fill="none" stroke="#a0a0a0" stroke-width="0.8"/>
<line x1="374.40" y1="172.60" x2="426.80" y2="172.60" stroke="#888" stroke-width="0.6" stroke-dasharray="0.8 2.6"/>
<rect x="387.40" y="172.00" width="1.8" height="1.2" fill="#333"/>
<line x1="369.50" y1="117.40" x2="369.50" y2="166.70" stroke="#999" stroke-width="0.5" stroke-dasharray="0.8 5"/>
<rect x="452.30" y="112.40" width="60.4" height="59.3" fill="none" stroke="#a0a0a0" stroke-width="0.8"/>
<line x1="456.30" y1="172.60" x2="508.70" y2="172.60" stroke="#888" stroke-width="0.6" stroke-dasharray="0.8 2.6"/>
<rect x="469.30" y="172.00" width="1.8" height="1.2" fill="#333"/>
<line x1="451.40" y1="117.40" x2="451.40" y2="166.70" stroke="#999" stroke-width="0.5" stroke-dasharray="0.8 5"/>
<text x="321.30" y="58.50" font-size="9.2" font-weight="bold" fill="#111" textLength="22.9" lengthAdjust="spacingAndGlyphs">Mat-B</text>
<text x="324.90" y="85.80" font-size="9.2" font-weight="bold" fill="#111" textLength="16.3" lengthAdjust="spacingAndGlyphs">Im-B</text>
<text x="379.40" y="94.60" font-size="9.2" font-weight="bold" fill="#111" textLength="23.1" lengthAdjust="spacingAndGlyphs">Pre-B</text>
<text x="406.30" y="94.60" font-size="9.2" font-weight="bold" fill="#111" textLength="23.1" lengthAdjust="spacingAndGlyphs">Pro-B</text>
<text x="485.30" y="57.20" font-size="9.2" font-weight="bold" fill="#111" textLength="25.2" lengthAdjust="spacingAndGlyphs">Fr.CC'</text>
<text x="462.00" y="104.00" font-size="9.2" font-weight="bold" fill="#111" textLength="16.6" lengthAdjust="spacingAndGlyphs">Fr.A</text>
<text x="490.60" y="104.00" font-size="9.2" font-weight="bold" fill="#111" textLength="16.0" lengthAdjust="spacingAndGlyphs">Fr.B</text>
<line x1="281.50" y1="180.20" x2="281.50" y2="150.60" stroke="#111" stroke-width="1.1"/>
<line x1="281.00" y1="179.70" x2="311.00" y2="179.70" stroke="#111" stroke-width="1.1"/>
<path d="M279.60,151.30 L281.50,147.10 L283.40,151.30 Z" fill="#111"/>
<path d="M310.30,177.80 L314.50,179.70 L310.30,181.60 Z" fill="#111"/>
<line x1="363.40" y1="180.20" x2="363.40" y2="150.60" stroke="#111" stroke-width="1.1"/>
<line x1="362.90" y1="179.70" x2="393.20" y2="179.70" stroke="#111" stroke-width="1.1"/>
<path d="M361.50,151.30 L363.40,147.10 L365.30,151.30 Z" fill="#111"/>
<path d="M392.50,177.80 L396.70,179.70 L392.50,181.60 Z" fill="#111"/>
<line x1="446.00" y1="180.20" x2="446.00" y2="150.60" stroke="#111" stroke-width="1.1"/>
<line x1="445.50" y1="179.70" x2="474.80" y2="179.70" stroke="#111" stroke-width="1.1"/>
<path d="M444.10,151.30 L446.00,147.10 L447.90,151.30 Z" fill="#111"/>
<path d="M474.10,177.80 L478.30,179.70 L474.10,181.60 Z" fill="#111"/>
<text transform="translate(275.90,164.60) rotate(-90)" font-size="9" text-anchor="middle" fill="#1a1a1a" stroke="#1a1a1a" stroke-width="0.3" textLength="15.5" lengthAdjust="spacingAndGlyphs">B220</text>
<text transform="translate(357.40,164.40) rotate(-90)" font-size="9" text-anchor="middle" fill="#1a1a1a" stroke="#1a1a1a" stroke-width="0.3" textLength="15.5" lengthAdjust="spacingAndGlyphs">B220</text>
<text transform="translate(440.60,165.30) rotate(-90)" font-size="9" text-anchor="middle" fill="#1a1a1a" stroke="#1a1a1a" stroke-width="0.3" textLength="12.1" lengthAdjust="spacingAndGlyphs">Bp1</text>
<text x="296.50" y="190.40" font-size="10" text-anchor="middle" font-weight="normal" font-style="normal" fill="#1a1a1a" textLength="11.6" lengthAdjust="spacingAndGlyphs" stroke="#1a1a1a" stroke-width="0.3">IgM</text>
<text x="378.40" y="190.50" font-size="10" text-anchor="middle" font-weight="normal" font-style="normal" fill="#1a1a1a" textLength="16.9" lengthAdjust="spacingAndGlyphs" stroke="#1a1a1a" stroke-width="0.3">CD43</text>
<text x="461.20" y="190.50" font-size="10" text-anchor="middle" font-weight="normal" font-style="normal" fill="#1a1a1a" textLength="16.1" lengthAdjust="spacingAndGlyphs" stroke="#1a1a1a" stroke-width="0.3">CD24</text>
<rect x="0" y="0" width="520" height="1.4" fill="#000"/>
<rect x="0" y="0" width="1.3" height="343" fill="#000"/>
<rect x="518.2" y="0" width="1.8" height="343" fill="#000"/>
<rect x="0" y="341.4" width="520" height="1.6" fill="#000"/>
</svg>
</body></html>
